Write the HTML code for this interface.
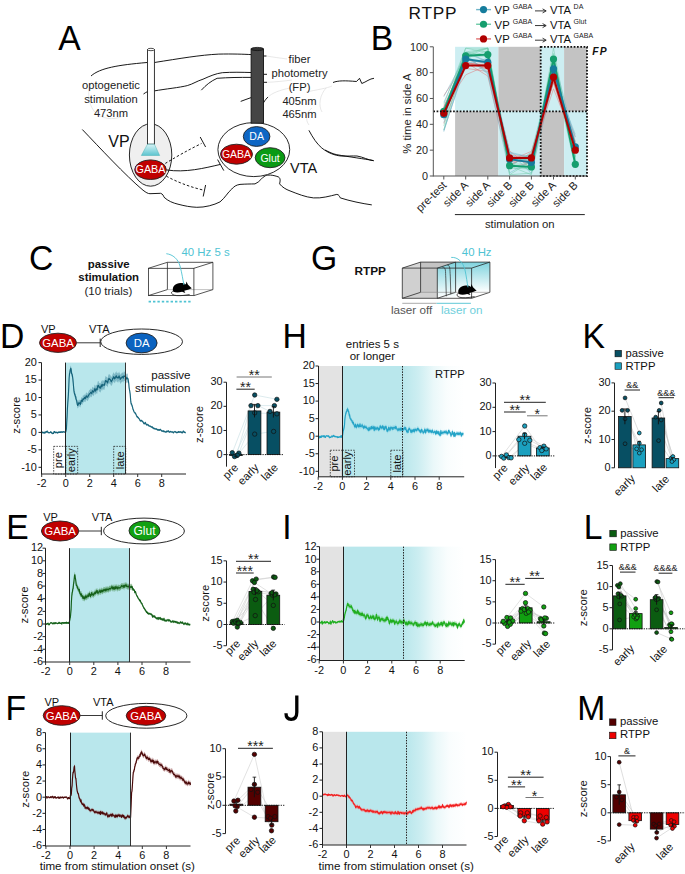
<!DOCTYPE html>
<html><head><meta charset="utf-8"><style>
html,body{margin:0;padding:0;background:#fff;width:685px;height:874px;overflow:hidden}
svg{display:block;font-family:"Liberation Sans", sans-serif}
</style></head><body>
<svg width="685" height="874" viewBox="0 0 685 874">
<defs>
<linearGradient id="fade" x1="0" x2="1" y1="0" y2="0"><stop offset="0" stop-color="#b9e7ec"/><stop offset="0.25" stop-color="#b9e7ec" stop-opacity="0.72"/><stop offset="0.5" stop-color="#b9e7ec" stop-opacity="0.3"/><stop offset="0.72" stop-color="#b9e7ec" stop-opacity="0.08"/><stop offset="1" stop-color="#b9e7ec" stop-opacity="0"/></linearGradient>
<linearGradient id="cone" x1="0" x2="0" y1="0" y2="1"><stop offset="0" stop-color="#d8f4f6"/><stop offset="1" stop-color="#5cc4cf"/></linearGradient>
<linearGradient id="boxg" x1="0" x2="1" y1="0" y2="0"><stop offset="0" stop-color="#e8f7f9"/><stop offset="1" stop-color="#7fd0dc"/></linearGradient>
</defs>
<path d="M91,76 C100,68 118,65 147,62.5" stroke="#000" stroke-width="0.9" fill="none"/>
<path d="M154.4,62.5 C180,58.5 200,55 218.8,54.1 C232,53.8 244,54.2 251.1,54.6" stroke="#000" stroke-width="0.9" fill="none"/>
<path d="M143.5,94 C145,93 146,92.2 147.5,91.6" stroke="#000" stroke-width="0.9" fill="none"/>
<path d="M154.4,90.9 C165,89 180,87.5 187.3,85.6 C193,84 197,81 203,79.2 C210,76 216,73.5 222.3,72.7 C232,72 242,72.3 251.1,72.5" stroke="#000" stroke-width="0.9" fill="none"/>
<path d="M201.3,90.2 C206,85 211,81 217.1,78.3 C228,77.5 240,77.3 251.1,77.4" stroke="#000" stroke-width="0.9" fill="none"/>
<path d="M240.7,101.4 C244,100 248,98.8 251.1,97.6" stroke="#000" stroke-width="0.9" fill="none"/>
<path d="M82.3,129.5 C100,148 125,175 143,190.2 C146,192.5 148,193.7 150,193.7 L160.6,193.3 C163,194 163.5,196 164,197.2 C168,201 173,203 178,204.2 C185,206 190,207 196.8,207.3 C205,207.5 214,205 220,201.9 C225,198 228,192 231.8,189 C234,186.5 236,185 240,184.4 C246,184 250,184 255,183.9 C260,182 262,177 265.5,175.7 C268,174.8 272,174.6 278.4,176.9 C281,178.5 280,181.5 279.6,183.9 C282,187 286,189.5 290,190.9 C298,194 305,197 313.4,197.9 C322,198.5 330,196 336.8,194.4 C339,194.5 339.5,196.5 340.3,197.9 C350,201 362,203.5 371.8,204.9" stroke="#000" stroke-width="0.9" fill="none"/>
<path d="M325,150 C329,152 333,154 336.8,154.7 C350,157 365,159 373,160.5" stroke="#000" stroke-width="0.9" fill="none"/>
<path d="M263.5,56 L266.5,56" stroke="#000" stroke-width="0.9" fill="none"/>
<path d="M263.5,74.3 L267,74.3" stroke="#000" stroke-width="0.9" fill="none"/>
<path d="M263.5,82.3 L267,82.3" stroke="#000" stroke-width="0.9" fill="none"/>
<path d="M263.5,102.8 C265,100 267,98 268,97" stroke="#000" stroke-width="0.9" fill="none"/>
<path d="M333,82.5 C338,80.5 345,80.5 356.5,81.5 L359.5,78.3 L361.8,83.5 C366,82 370,78.5 374,78.3" stroke="#000" stroke-width="0.9" fill="none"/>
<path d="M308.9,130.3 C313,138 317,144 321.8,148 C328,153 335,155.5 341,156 C348,156.3 352,155.8 357,156 C363,157 368,160 374,160.8" stroke="#000" stroke-width="0.9" fill="none"/>
<path d="M266.5,56 C272,57 280,58 287,59" stroke="#d8d8d8" stroke-width="0.6" fill="none"/>
<path d="M267,82.3 C275,82 285,81 292,80" stroke="#d8d8d8" stroke-width="0.6" fill="none"/>
<path d="M268,97 C272,93 280,90 290,88" stroke="#d8d8d8" stroke-width="0.6" fill="none"/>
<path d="M326,88 C320,95 318,105 322,112" stroke="#d8d8d8" stroke-width="0.6" fill="none"/>
<path d="M92,82 C86,90 88,110 100,116 C110,121 122,118 125,114" stroke="#d8d8d8" stroke-width="0.6" fill="none"/>
<path d="M306,92 C316,90 328,88 332,86" stroke="#d8d8d8" stroke-width="0.6" fill="none"/>
<path d="M309,125 C305,120 306,112 312,108" stroke="#d8d8d8" stroke-width="0.6" fill="none"/>
<ellipse cx="150.60" cy="155.00" rx="21.2" ry="31.2" fill="#efefef" stroke="#111" stroke-width="0.9"/>
<path d="M165.3,163.4 C176,157 188,150 201.5,143.5" stroke="#000" stroke-width="0.9" fill="none" stroke-dasharray="2.5,2"/>
<path d="M166.4,176.2 C177,182 190,187 203.8,190.2" stroke="#000" stroke-width="0.9" fill="none" stroke-dasharray="2.5,2"/>
<line x1="200.20" y1="137.00" x2="205.60" y2="147.00" stroke="#000" stroke-width="0.9"/>
<line x1="205.60" y1="185.00" x2="203.20" y2="196.50" stroke="#000" stroke-width="0.9"/>
<path d="M166.4,169.9 C185,173 205,168 220,164.5" stroke="#000" stroke-width="0.9" fill="none"/>
<line x1="217.60" y1="159.60" x2="223.80" y2="170.60" stroke="#000" stroke-width="0.9"/>
<rect x="147.50" y="49.50" width="6.90" height="94.70" fill="#fff" stroke="#222" stroke-width="0.9"/>
<ellipse cx="150.95" cy="49.50" rx="3.45" ry="1.2" fill="#fff" stroke="#222" stroke-width="0.8"/>
<polygon points="147.5,144.2 154.4,144.2 159.7,155.5 141.3,155.5" stroke="#3aa" stroke-width="0.4" fill="url(#cone)"/>
<ellipse cx="150.50" cy="169.70" rx="15.8" ry="9.8" fill="#c00000" stroke="#222" stroke-width="0.9"/>
<text x="150.50" y="173.10" font-size="10.8" text-anchor="middle" fill="#fff">GABA</text>
<text x="108.30" y="146.50" font-size="16" text-anchor="start" fill="#111">VP</text>
<text x="111.00" y="89.30" font-size="11.2" text-anchor="middle" fill="#222">optogenetic</text>
<text x="111.00" y="102.90" font-size="11.2" text-anchor="middle" fill="#222">stimulation</text>
<text x="111.00" y="116.50" font-size="11.2" text-anchor="middle" fill="#222">473nm</text>
<ellipse cx="253.80" cy="149.60" rx="35.9" ry="27" fill="#fff" stroke="#111" stroke-width="0.9"/>
<ellipse cx="256.60" cy="136.50" rx="13.3" ry="9.9" fill="#0e66c4" stroke="#222" stroke-width="0.9"/>
<text x="256.60" y="140.30" font-size="10.5" text-anchor="middle" fill="#fff">DA</text>
<ellipse cx="236.50" cy="154.20" rx="16" ry="10" fill="#c00000" stroke="#222" stroke-width="0.9"/>
<text x="236.50" y="158.00" font-size="10.5" text-anchor="middle" fill="#fff">GABA</text>
<ellipse cx="270.10" cy="157.70" rx="14.9" ry="10" fill="#0a9a14" stroke="#222" stroke-width="0.9"/>
<text x="270.10" y="161.50" font-size="10.5" text-anchor="middle" fill="#fff">Glut</text>
<text x="290.00" y="172.60" font-size="14.5" text-anchor="start" fill="#111">VTA</text>
<rect x="251.10" y="49.00" width="12.40" height="74.20" fill="#454545" stroke="#111" stroke-width="0.9"/>
<ellipse cx="257.30" cy="49.00" rx="6.2" ry="1.6" fill="#333" stroke="#111" stroke-width="0.8"/>
<text x="299.50" y="63.20" font-size="11.2" text-anchor="middle" fill="#222">fiber</text>
<text x="299.50" y="77.00" font-size="11.2" text-anchor="middle" fill="#222">photometry</text>
<text x="299.50" y="90.80" font-size="11.2" text-anchor="middle" fill="#222">(FP)</text>
<text x="299.50" y="104.60" font-size="11.2" text-anchor="middle" fill="#222">405nm</text>
<text x="299.50" y="118.40" font-size="11.2" text-anchor="middle" fill="#222">465nm</text>
<text x="408.60" y="19.40" font-size="17.3" text-anchor="start" fill="#111" letter-spacing="0.7">RTPP</text>
<line x1="476.10" y1="9.60" x2="491.00" y2="9.60" stroke="#6fb4c8" stroke-width="1.4"/>
<circle cx="483.50" cy="9.60" r="3.6" fill="#157c9c"/>
<text x="494.60" y="14.00" font-size="11.3" text-anchor="start" fill="#111">VP</text>
<text x="512.70" y="9.00" font-size="7" text-anchor="start" fill="#222">GABA</text>
<line x1="535.00" y1="10.90" x2="545.60" y2="10.90" stroke="#222" stroke-width="0.9"/>
<path d="M542.6,8.9 L546.2,10.9 L542.6,12.9" stroke="#222" stroke-width="0.9" fill="none"/>
<text x="550.00" y="14.00" font-size="11.3" text-anchor="start" fill="#111">VTA</text>
<text x="573.60" y="9.00" font-size="7" text-anchor="start" fill="#222">DA</text>
<line x1="476.10" y1="24.25" x2="491.00" y2="24.25" stroke="#6ccaa6" stroke-width="1.4"/>
<circle cx="483.50" cy="24.25" r="3.6" fill="#159e6e"/>
<text x="494.60" y="28.65" font-size="11.3" text-anchor="start" fill="#111">VP</text>
<text x="512.70" y="23.65" font-size="7" text-anchor="start" fill="#222">GABA</text>
<line x1="535.00" y1="25.55" x2="545.60" y2="25.55" stroke="#222" stroke-width="0.9"/>
<path d="M542.6,23.6 L546.2,25.6 L542.6,27.6" stroke="#222" stroke-width="0.9" fill="none"/>
<text x="550.00" y="28.65" font-size="11.3" text-anchor="start" fill="#111">VTA</text>
<text x="573.60" y="23.65" font-size="7" text-anchor="start" fill="#222">Glut</text>
<line x1="476.10" y1="38.90" x2="491.00" y2="38.90" stroke="#e07070" stroke-width="1.4"/>
<circle cx="483.50" cy="38.90" r="3.6" fill="#b00000"/>
<text x="494.60" y="43.30" font-size="11.3" text-anchor="start" fill="#111">VP</text>
<text x="512.70" y="38.30" font-size="7" text-anchor="start" fill="#222">GABA</text>
<line x1="535.00" y1="40.20" x2="545.60" y2="40.20" stroke="#222" stroke-width="0.9"/>
<path d="M542.6,38.2 L546.2,40.2 L542.6,42.2" stroke="#222" stroke-width="0.9" fill="none"/>
<text x="550.00" y="43.30" font-size="11.3" text-anchor="start" fill="#111">VTA</text>
<text x="573.60" y="38.30" font-size="7" text-anchor="start" fill="#222">GABA</text>
<rect x="455.10" y="46.80" width="43.30" height="64.60" fill="#cdeef2"/>
<rect x="455.10" y="111.40" width="43.30" height="64.60" fill="#c3c3c3"/>
<rect x="498.40" y="46.80" width="42.30" height="64.60" fill="#c3c3c3"/>
<rect x="498.40" y="111.40" width="42.30" height="64.60" fill="#cdeef2"/>
<rect x="540.70" y="46.80" width="23.40" height="64.60" fill="#cdeef2"/>
<rect x="564.10" y="46.80" width="22.90" height="64.60" fill="#c3c3c3"/>
<rect x="540.70" y="111.40" width="23.40" height="64.60" fill="#c3c3c3"/>
<rect x="564.10" y="111.40" width="22.90" height="64.60" fill="#cdeef2"/>
<polyline points="443.8,116.5 465.7,62.4 487.8,66.9 509.6,159.6 531.4,163.0 553.5,78.7 575.3,141.5" stroke="#e07070" stroke-width="0.6" fill="none" stroke-opacity="0.8"/>
<polyline points="443.8,108.1 465.7,59.1 487.8,64.0 509.6,155.8 531.4,156.9 553.5,88.8 575.3,143.5" stroke="#e07070" stroke-width="0.6" fill="none" stroke-opacity="0.8"/>
<polyline points="443.8,107.1 465.7,62.4 487.8,76.0 509.6,167.4 531.4,162.7 553.5,80.4 575.3,147.8" stroke="#e07070" stroke-width="0.6" fill="none" stroke-opacity="0.8"/>
<polyline points="443.8,113.9 465.7,62.3 487.8,69.5 509.6,156.2 531.4,155.8 553.5,81.8 575.3,136.8" stroke="#e07070" stroke-width="0.6" fill="none" stroke-opacity="0.8"/>
<polyline points="443.8,106.4 465.7,58.1 487.8,69.4 509.6,161.9 531.4,159.8 553.5,77.9 575.3,145.3" stroke="#e07070" stroke-width="0.6" fill="none" stroke-opacity="0.8"/>
<polyline points="443.8,110.3 465.7,68.3 487.8,71.5 509.6,160.7 531.4,151.3 553.5,82.8 575.3,148.3" stroke="#e07070" stroke-width="0.6" fill="none" stroke-opacity="0.8"/>
<polyline points="443.8,108.0 465.7,74.8 487.8,65.2 509.6,150.8 531.4,168.8 553.5,79.4 575.3,151.0" stroke="#e07070" stroke-width="0.6" fill="none" stroke-opacity="0.8"/>
<polyline points="443.8,123.5 465.7,62.4 487.8,65.9 509.6,165.9 531.4,153.4 553.5,72.5 575.3,142.8" stroke="#e07070" stroke-width="0.6" fill="none" stroke-opacity="0.8"/>
<polyline points="443.8,95.5 465.7,63.3 487.8,64.8 509.6,165.0 531.4,154.6 553.5,81.4 575.3,153.7" stroke="#e07070" stroke-width="0.6" fill="none" stroke-opacity="0.8"/>
<polyline points="443.8,130.3 465.7,65.1 487.8,65.6 509.6,152.2 531.4,173.5 553.5,78.9 575.3,145.1" stroke="#6fb4c8" stroke-width="0.6" fill="none" stroke-opacity="0.8"/>
<polyline points="443.8,96.7 465.7,55.5 487.8,74.1 509.6,172.9 531.4,160.5 553.5,73.9 575.3,155.6" stroke="#6fb4c8" stroke-width="0.6" fill="none" stroke-opacity="0.8"/>
<polyline points="443.8,102.5 465.7,52.2 487.8,61.3 509.6,157.9 531.4,160.1 553.5,57.6 575.3,142.1" stroke="#6fb4c8" stroke-width="0.6" fill="none" stroke-opacity="0.8"/>
<polyline points="443.8,108.2 465.7,55.7 487.8,72.0 509.6,152.2 531.4,157.3 553.5,65.1 575.3,162.2" stroke="#6fb4c8" stroke-width="0.6" fill="none" stroke-opacity="0.8"/>
<polyline points="443.8,122.5 465.7,53.9 487.8,73.5 509.6,160.2 531.4,156.9 553.5,77.9 575.3,134.4" stroke="#6fb4c8" stroke-width="0.6" fill="none" stroke-opacity="0.8"/>
<polyline points="443.8,107.8 465.7,60.0 487.8,60.3 509.6,155.7 531.4,161.8 553.5,60.8 575.3,152.1" stroke="#6fb4c8" stroke-width="0.6" fill="none" stroke-opacity="0.8"/>
<polyline points="443.8,119.8 465.7,52.6 487.8,62.1 509.6,164.0 531.4,157.3 553.5,58.5 575.3,150.4" stroke="#6fb4c8" stroke-width="0.6" fill="none" stroke-opacity="0.8"/>
<polyline points="443.8,131.7 465.7,59.9 487.8,63.2 509.6,160.8 531.4,154.8 553.5,75.9 575.3,137.2" stroke="#6fb4c8" stroke-width="0.6" fill="none" stroke-opacity="0.8"/>
<polyline points="443.8,130.4 465.7,64.0 487.8,58.4 509.6,153.1 531.4,157.8 553.5,66.4 575.3,145.8" stroke="#6fb4c8" stroke-width="0.6" fill="none" stroke-opacity="0.8"/>
<polyline points="443.8,109.5 465.7,52.3 487.8,55.6 509.6,164.2 531.4,163.8 553.5,59.1 575.3,158.4" stroke="#6ccaa6" stroke-width="0.6" fill="none" stroke-opacity="0.8"/>
<polyline points="443.8,104.4 465.7,48.1 487.8,52.5 509.6,168.0 531.4,169.0 553.5,59.2 575.3,157.2" stroke="#6ccaa6" stroke-width="0.6" fill="none" stroke-opacity="0.8"/>
<polyline points="443.8,115.6 465.7,53.5 487.8,48.1 509.6,174.7 531.4,173.1 553.5,57.4 575.3,161.3" stroke="#6ccaa6" stroke-width="0.6" fill="none" stroke-opacity="0.8"/>
<polyline points="443.8,108.4 465.7,58.5 487.8,50.5 509.6,164.1 531.4,169.8 553.5,48.1 575.3,161.6" stroke="#6ccaa6" stroke-width="0.6" fill="none" stroke-opacity="0.8"/>
<polyline points="443.8,118.3 465.7,56.5 487.8,56.0 509.6,166.0 531.4,174.7 553.5,62.5 575.3,156.6" stroke="#6ccaa6" stroke-width="0.6" fill="none" stroke-opacity="0.8"/>
<polyline points="443.8,125.9 465.7,56.3 487.8,48.6 509.6,161.0 531.4,158.9 553.5,70.9 575.3,167.1" stroke="#6ccaa6" stroke-width="0.6" fill="none" stroke-opacity="0.8"/>
<polyline points="443.8,115.6 465.7,52.0 487.8,48.1 509.6,174.7 531.4,161.0 553.5,69.2 575.3,159.1" stroke="#6ccaa6" stroke-width="0.6" fill="none" stroke-opacity="0.8"/>
<polyline points="443.8,129.9 465.7,54.8 487.8,48.1 509.6,166.5 531.4,165.9 553.5,53.5 575.3,163.3" stroke="#6ccaa6" stroke-width="0.6" fill="none" stroke-opacity="0.8"/>
<polyline points="443.8,112.5 465.7,48.1 487.8,48.1 509.6,167.3 531.4,152.1 553.5,67.1 575.3,157.3" stroke="#6ccaa6" stroke-width="0.6" fill="none" stroke-opacity="0.8"/>
<polyline points="443.8,111.4 465.7,55.8 487.8,54.6 509.6,165.7 531.4,167.0 553.5,59.1 575.3,164.4" stroke="#159e6e" stroke-width="2" fill="none"/>
<circle cx="443.80" cy="111.40" r="3.6" fill="#159e6e"/>
<circle cx="465.70" cy="55.84" r="3.6" fill="#159e6e"/>
<circle cx="487.80" cy="54.55" r="3.6" fill="#159e6e"/>
<circle cx="509.60" cy="165.66" r="3.6" fill="#159e6e"/>
<circle cx="531.40" cy="166.96" r="3.6" fill="#159e6e"/>
<circle cx="553.50" cy="59.07" r="3.6" fill="#159e6e"/>
<circle cx="575.30" cy="164.37" r="3.6" fill="#159e6e"/>
<polyline points="443.8,114.6 465.7,59.1 487.8,62.3 509.6,159.2 531.4,162.4 553.5,68.8 575.3,146.9" stroke="#157c9c" stroke-width="2" fill="none"/>
<circle cx="443.80" cy="114.63" r="3.6" fill="#157c9c"/>
<circle cx="465.70" cy="59.07" r="3.6" fill="#157c9c"/>
<circle cx="487.80" cy="62.30" r="3.6" fill="#157c9c"/>
<circle cx="509.60" cy="159.20" r="3.6" fill="#157c9c"/>
<circle cx="531.40" cy="162.43" r="3.6" fill="#157c9c"/>
<circle cx="553.50" cy="68.76" r="3.6" fill="#157c9c"/>
<circle cx="575.30" cy="146.93" r="3.6" fill="#157c9c"/>
<polyline points="443.8,113.3 465.7,65.5 487.8,65.5 509.6,157.9 531.4,157.9 553.5,77.2 575.3,150.2" stroke="#b00000" stroke-width="2" fill="none"/>
<circle cx="443.80" cy="113.34" r="3.6" fill="#b00000"/>
<circle cx="465.70" cy="65.53" r="3.6" fill="#b00000"/>
<circle cx="487.80" cy="65.53" r="3.6" fill="#b00000"/>
<circle cx="509.60" cy="157.91" r="3.6" fill="#b00000"/>
<circle cx="531.40" cy="157.91" r="3.6" fill="#b00000"/>
<circle cx="553.50" cy="77.16" r="3.6" fill="#b00000"/>
<circle cx="575.30" cy="150.16" r="3.6" fill="#b00000"/>
<line x1="433.30" y1="111.40" x2="587.00" y2="111.40" stroke="#111" stroke-width="1.9" stroke-dasharray="1.7,1.6"/>
<rect x="540.70" y="46.80" width="46.30" height="129.20" fill="none" stroke="#111" stroke-width="1.8" stroke-dasharray="1.7,1.6"/>
<line x1="433.30" y1="46.80" x2="433.30" y2="176.50" stroke="#555" stroke-width="1"/>
<line x1="433.30" y1="176.00" x2="587.00" y2="176.00" stroke="#555" stroke-width="1"/>
<line x1="429.80" y1="176.00" x2="433.30" y2="176.00" stroke="#555" stroke-width="1"/>
<text x="428.00" y="179.80" font-size="10.8" text-anchor="end" fill="#222">0</text>
<line x1="429.80" y1="150.16" x2="433.30" y2="150.16" stroke="#555" stroke-width="1"/>
<text x="428.00" y="153.96" font-size="10.8" text-anchor="end" fill="#222">20</text>
<line x1="429.80" y1="124.32" x2="433.30" y2="124.32" stroke="#555" stroke-width="1"/>
<text x="428.00" y="128.12" font-size="10.8" text-anchor="end" fill="#222">40</text>
<line x1="429.80" y1="98.48" x2="433.30" y2="98.48" stroke="#555" stroke-width="1"/>
<text x="428.00" y="102.28" font-size="10.8" text-anchor="end" fill="#222">60</text>
<line x1="429.80" y1="72.64" x2="433.30" y2="72.64" stroke="#555" stroke-width="1"/>
<text x="428.00" y="76.44" font-size="10.8" text-anchor="end" fill="#222">80</text>
<line x1="429.80" y1="46.80" x2="433.30" y2="46.80" stroke="#555" stroke-width="1"/>
<text x="428.00" y="50.60" font-size="10.8" text-anchor="end" fill="#222">100</text>
<line x1="443.80" y1="176.00" x2="443.80" y2="179.50" stroke="#555" stroke-width="1"/>
<line x1="465.70" y1="176.00" x2="465.70" y2="179.50" stroke="#555" stroke-width="1"/>
<line x1="487.80" y1="176.00" x2="487.80" y2="179.50" stroke="#555" stroke-width="1"/>
<line x1="509.60" y1="176.00" x2="509.60" y2="179.50" stroke="#555" stroke-width="1"/>
<line x1="531.40" y1="176.00" x2="531.40" y2="179.50" stroke="#555" stroke-width="1"/>
<line x1="553.50" y1="176.00" x2="553.50" y2="179.50" stroke="#555" stroke-width="1"/>
<line x1="575.30" y1="176.00" x2="575.30" y2="179.50" stroke="#555" stroke-width="1"/>
<text x="411.00" y="113.60" font-size="11.3" text-anchor="middle" fill="#222" transform="rotate(-90 411.00 113.60)">% time in side A</text>
<text x="447.10" y="186.00" font-size="11.1" text-anchor="end" fill="#222" transform="rotate(-45 447.10 186.00)">pre-test</text>
<text x="469.00" y="186.00" font-size="11.1" text-anchor="end" fill="#222" transform="rotate(-45 469.00 186.00)">side A</text>
<text x="491.10" y="186.00" font-size="11.1" text-anchor="end" fill="#222" transform="rotate(-45 491.10 186.00)">side A</text>
<text x="512.90" y="186.00" font-size="11.1" text-anchor="end" fill="#222" transform="rotate(-45 512.90 186.00)">side B</text>
<text x="534.70" y="186.00" font-size="11.1" text-anchor="end" fill="#222" transform="rotate(-45 534.70 186.00)">side B</text>
<text x="556.80" y="186.00" font-size="11.1" text-anchor="end" fill="#222" transform="rotate(-45 556.80 186.00)">side A</text>
<text x="578.60" y="186.00" font-size="11.1" text-anchor="end" fill="#222" transform="rotate(-45 578.60 186.00)">side B</text>
<line x1="454.90" y1="214.60" x2="584.80" y2="214.60" stroke="#222" stroke-width="1"/>
<text x="519.80" y="228.00" font-size="11.3" text-anchor="middle" fill="#222">stimulation on</text>
<text x="592.20" y="55.30" font-size="10.3" text-anchor="start" fill="#111" font-weight="bold" font-style="italic" letter-spacing="1.2">FP</text>
<text x="108.70" y="267.70" font-size="11.4" text-anchor="middle" fill="#111" font-weight="bold">passive</text>
<text x="108.70" y="281.00" font-size="11.4" text-anchor="middle" fill="#111" font-weight="bold">stimulation</text>
<text x="108.40" y="295.30" font-size="11.5" text-anchor="middle" fill="#222">(10 trials)</text>
<line x1="167.40" y1="262.30" x2="212.90" y2="262.30" stroke="#2a2a2a" stroke-width="0.8"/>
<line x1="167.40" y1="262.30" x2="167.40" y2="289.60" stroke="#2a2a2a" stroke-width="0.8"/>
<line x1="212.90" y1="262.30" x2="212.90" y2="289.60" stroke="#2a2a2a" stroke-width="0.8"/>
<line x1="167.40" y1="289.60" x2="212.90" y2="289.60" stroke="#999" stroke-width="0.6"/>
<line x1="148.40" y1="268.30" x2="167.40" y2="262.30" stroke="#2a2a2a" stroke-width="0.8"/>
<line x1="193.90" y1="268.30" x2="212.90" y2="262.30" stroke="#2a2a2a" stroke-width="0.8"/>
<line x1="148.40" y1="295.60" x2="167.40" y2="289.60" stroke="#2a2a2a" stroke-width="0.8"/>
<line x1="193.90" y1="295.60" x2="212.90" y2="289.60" stroke="#2a2a2a" stroke-width="0.8"/>
<path d="M173.4,291.8 C171.3,286.9 175.6,283.1 180.5,283.1 C183.2,283.1 184.8,283.7 185.9,284.5 L186.4,281.5 L188.0,284.8 C189.6,286.4 190.7,287.5 191.8,288.3 C189.6,289.6 186.4,290.2 184.2,290.7 L185.3,292.9 L182.1,291.8 C178.8,292.9 175.6,292.9 173.4,291.8 Z" stroke="none" stroke-width="1" fill="#000"/>
<path d="M174.5,290.7 C170.2,291.2 170.2,295.0 176.7,295.6 C182.1,295.9 186.4,295.0 189.6,294.5" stroke="#000" stroke-width="0.7" fill="none"/>
<rect x="148.40" y="268.30" width="45.50" height="27.30" fill="none" stroke="#2a2a2a" stroke-width="0.8"/>
<path d="M166.3,253.7 C173,254.5 178,259 180,266 C182,273 182.8,280 184,285" stroke="#4fc3d3" stroke-width="0.9" fill="none"/>
<text x="181.50" y="256.40" font-size="11.4" text-anchor="start" fill="#4fc3d3">40 Hz 5 s</text>
<line x1="148.60" y1="301.60" x2="192.00" y2="301.60" stroke="#4fc3d3" stroke-width="1.6" stroke-dasharray="2.4,2.0"/>
<text x="354.50" y="274.80" font-size="11.8" text-anchor="start" fill="#111" font-weight="bold">RTPP</text>
<polygon points="402.3,268.1 420.6,262.1 455.6,262.1 437.3,268.1" stroke="none" stroke-width="1" fill="#d6d6d6"/>
<rect x="420.60" y="262.10" width="35.00" height="30.20" fill="#c4c4c4"/>
<rect x="402.30" y="268.10" width="35.00" height="30.20" fill="#c8c8c8" fill-opacity="0.85"/>
<polygon points="437.3,268.1 455.6,262.1 489.9,262.1 471.6,268.1" stroke="none" stroke-width="1" fill="#8fd9e3"/>
<linearGradient id="gv" x1="0" x2="0" y1="0" y2="1"><stop offset="0" stop-color="#7fd3de"/><stop offset="1" stop-color="#ffffff"/></linearGradient>
<rect x="455.60" y="262.10" width="34.30" height="30.20" fill="url(#gv)"/>
<rect x="437.30" y="268.10" width="18.30" height="30.20" fill="url(#gv)" fill-opacity="0.9"/>
<polygon points="437.3,268.1 455.6,262.1 455.6,292.3 437.3,298.3" stroke="none" stroke-width="1" fill="url(#gv)"/>
<line x1="402.30" y1="268.10" x2="471.60" y2="268.10" stroke="#2a2a2a" stroke-width="0.8"/>
<line x1="402.30" y1="298.30" x2="471.60" y2="298.30" stroke="#2a2a2a" stroke-width="0.8"/>
<line x1="402.30" y1="268.10" x2="402.30" y2="298.30" stroke="#2a2a2a" stroke-width="0.8"/>
<line x1="437.30" y1="268.10" x2="437.30" y2="298.30" stroke="#2a2a2a" stroke-width="0.8"/>
<line x1="471.60" y1="268.10" x2="471.60" y2="298.30" stroke="#2a2a2a" stroke-width="0.8"/>
<line x1="420.60" y1="262.10" x2="489.90" y2="262.10" stroke="#2a2a2a" stroke-width="0.8"/>
<line x1="420.60" y1="262.10" x2="420.60" y2="292.30" stroke="#2a2a2a" stroke-width="0.8"/>
<line x1="455.60" y1="262.10" x2="455.60" y2="292.30" stroke="#2a2a2a" stroke-width="0.8"/>
<line x1="489.90" y1="262.10" x2="489.90" y2="292.30" stroke="#2a2a2a" stroke-width="0.8"/>
<line x1="402.30" y1="268.10" x2="420.60" y2="262.10" stroke="#2a2a2a" stroke-width="0.8"/>
<line x1="437.30" y1="268.10" x2="455.60" y2="262.10" stroke="#2a2a2a" stroke-width="0.8"/>
<line x1="471.60" y1="268.10" x2="489.90" y2="262.10" stroke="#2a2a2a" stroke-width="0.8"/>
<line x1="402.30" y1="298.30" x2="420.60" y2="292.30" stroke="#2a2a2a" stroke-width="0.8"/>
<line x1="437.30" y1="298.30" x2="455.60" y2="292.30" stroke="#2a2a2a" stroke-width="0.8"/>
<line x1="471.60" y1="298.30" x2="489.90" y2="292.30" stroke="#2a2a2a" stroke-width="0.8"/>
<line x1="420.60" y1="292.30" x2="489.90" y2="292.30" stroke="#888" stroke-width="0.6"/>
<path d="M442.3,267.1 C446.3,267.1 445.3,271.1 445.8,278.1 L446.3,296.3" stroke="#2a2a2a" stroke-width="0.7" fill="none"/>
<path d="M447.3,265.1 C450.3,265.1 449.8,269.1 450.3,276.1 L450.8,294.3" stroke="#2a2a2a" stroke-width="0.7" fill="none"/>
<path d="M458.8,294.0 C456.8,289.2 460.9,285.6 465.7,285.6 C468.3,285.6 469.9,286.1 470.9,286.9 L471.4,284.0 L473.0,287.2 C474.6,288.7 475.6,289.8 476.7,290.6 C474.6,291.9 471.4,292.4 469.3,292.9 L470.4,295.0 L467.2,294.0 C464.1,295.0 460.9,295.0 458.8,294.0 Z" stroke="none" stroke-width="1" fill="#000"/>
<path d="M459.9,292.9 C455.7,293.4 455.7,297.1 462.0,297.7 C467.2,298.0 471.4,297.1 474.6,296.6" stroke="#000" stroke-width="0.7" fill="none"/>
<path d="M451.2,257.4 C458,257 463,262 465,270 C466.5,277 467,282 468,287.3" stroke="#4fc3d3" stroke-width="0.9" fill="none"/>
<text x="461.80" y="256.40" font-size="11.4" text-anchor="start" fill="#4fc3d3">40 Hz</text>
<line x1="402.30" y1="303.40" x2="436.60" y2="303.40" stroke="#bbb" stroke-width="1.2"/>
<line x1="436.60" y1="303.40" x2="470.90" y2="303.40" stroke="#7fd3de" stroke-width="1.2"/>
<text x="432.30" y="313.70" font-size="11.7" text-anchor="end" fill="#555">laser off</text>
<text x="441.00" y="313.70" font-size="11.7" text-anchor="start" fill="#6fcfdc">laser on</text>
<rect x="65.70" y="362.60" width="60.00" height="111.40" fill="#b9e7ec"/>
<polygon points="41.7,432.3 42.0,432.0 42.4,431.4 42.7,431.7 43.1,432.4 43.4,432.2 43.8,431.9 44.1,431.3 44.4,432.0 44.8,432.5 45.1,432.0 45.5,431.7 45.8,431.0 46.2,430.8 46.5,431.1 46.8,431.4 47.2,430.3 47.5,430.8 47.9,431.4 48.2,432.0 48.6,431.9 48.9,431.8 49.2,432.0 49.6,432.0 49.9,431.8 50.3,431.5 50.6,431.1 51.0,431.2 51.3,432.2 51.6,431.8 52.0,432.4 52.3,432.4 52.7,432.9 53.0,432.7 53.4,432.8 53.7,432.5 54.0,430.8 54.4,431.1 54.7,430.9 55.1,431.8 55.4,432.0 55.8,431.7 56.1,431.8 56.4,431.6 56.8,431.7 57.1,432.2 57.5,431.9 57.8,432.3 58.2,431.3 58.5,431.7 58.8,431.5 59.2,431.6 59.5,431.3 59.9,431.7 60.2,431.3 60.6,431.6 60.9,431.1 61.2,431.0 61.6,431.2 61.9,431.8 62.3,431.5 62.6,431.4 63.0,430.8 63.3,431.3 63.6,431.2 64.0,431.2 64.3,431.3 64.7,431.4 65.0,431.5 65.4,431.4 65.7,429.4 66.0,428.5 66.4,426.5 66.7,420.7 67.1,413.9 67.4,406.5 67.8,400.3 68.1,396.3 68.4,391.8 68.8,384.2 69.1,375.6 69.5,371.0 69.8,370.4 70.2,367.4 70.5,366.1 70.8,365.4 71.2,366.9 71.5,370.6 71.9,371.1 72.2,372.0 72.6,374.1 72.9,376.4 73.2,379.8 73.6,384.1 73.9,387.5 74.3,389.9 74.6,391.1 75.0,391.7 75.3,393.0 75.6,393.4 76.0,395.8 76.3,396.8 76.7,397.5 77.0,399.3 77.4,401.7 77.7,402.4 78.0,401.7 78.4,401.0 78.7,399.6 79.1,400.4 79.4,400.2 79.8,399.4 80.1,399.4 80.4,401.1 80.8,399.8 81.1,397.6 81.5,396.9 81.8,397.8 82.2,398.0 82.5,397.7 82.8,395.6 83.2,395.6 83.5,395.8 83.9,394.8 84.2,395.2 84.6,393.9 84.9,394.7 85.2,395.1 85.6,394.3 85.9,393.0 86.3,392.5 86.6,392.2 87.0,393.6 87.3,393.6 87.6,393.4 88.0,393.1 88.3,391.9 88.7,391.6 89.0,390.5 89.4,390.1 89.7,390.1 90.0,389.7 90.4,389.1 90.7,388.4 91.1,388.8 91.4,388.9 91.8,389.7 92.1,388.0 92.4,386.7 92.8,387.0 93.1,387.3 93.5,388.1 93.8,387.4 94.2,386.9 94.5,384.8 94.8,384.7 95.2,385.3 95.5,387.0 95.9,385.1 96.2,384.6 96.6,385.5 96.9,384.8 97.2,385.5 97.6,382.1 97.9,381.2 98.3,381.0 98.6,381.3 99.0,383.0 99.3,382.7 99.6,383.5 100.0,382.4 100.3,383.6 100.7,383.6 101.0,381.9 101.4,380.3 101.7,381.2 102.0,382.0 102.4,380.8 102.7,379.8 103.1,380.4 103.4,380.5 103.8,380.5 104.1,380.8 104.4,380.6 104.8,378.9 105.1,377.9 105.5,376.1 105.8,376.3 106.2,376.4 106.5,377.1 106.8,376.9 107.2,377.6 107.5,378.4 107.9,377.1 108.2,375.6 108.6,374.8 108.9,373.9 109.2,374.0 109.6,374.8 109.9,374.8 110.3,375.1 110.6,375.8 111.0,376.7 111.3,377.3 111.6,376.4 112.0,375.7 112.3,375.5 112.7,373.9 113.0,373.6 113.4,373.1 113.7,372.1 114.0,372.9 114.4,374.4 114.7,373.4 115.1,373.7 115.4,372.4 115.8,372.2 116.1,371.5 116.4,371.2 116.8,373.2 117.1,372.5 117.5,373.0 117.8,373.5 118.2,373.6 118.5,372.8 118.8,372.0 119.2,371.4 119.5,372.9 119.9,373.3 120.2,374.9 120.6,374.3 120.9,373.4 121.2,373.7 121.6,373.2 121.9,372.8 122.3,371.9 122.6,372.7 123.0,373.2 123.3,373.6 123.6,372.0 124.0,371.3 124.3,371.7 124.7,371.8 125.0,372.0 125.4,372.0 125.7,372.4 126.0,372.7 126.4,373.9 126.7,374.5 127.1,373.4 127.4,373.5 127.8,374.0 128.1,378.2 128.4,380.2 128.8,382.9 129.1,386.7 129.5,389.1 129.8,390.5 130.2,393.6 130.5,397.2 130.8,400.8 131.2,403.3 131.5,402.9 131.9,404.4 132.2,405.3 132.6,406.6 132.9,407.9 133.2,408.9 133.6,409.6 133.9,410.5 134.3,411.3 134.6,411.8 135.0,412.1 135.3,412.1 135.6,412.7 136.0,413.5 136.3,414.4 136.7,415.1 137.0,415.9 137.4,415.8 137.7,416.2 138.0,416.8 138.4,416.7 138.7,417.6 139.1,417.8 139.4,418.0 139.8,419.0 140.1,419.8 140.4,420.2 140.8,419.8 141.1,419.4 141.5,420.1 141.8,419.8 142.2,420.2 142.5,420.6 142.8,421.0 143.2,421.3 143.5,422.1 143.9,422.5 144.2,422.9 144.6,422.8 144.9,422.1 145.2,421.5 145.6,422.2 145.9,423.2 146.3,423.6 146.6,424.1 147.0,423.5 147.3,423.6 147.6,424.1 148.0,424.0 148.3,424.0 148.7,424.8 149.0,425.0 149.4,425.2 149.7,425.2 150.0,425.2 150.4,425.5 150.7,425.5 151.1,425.9 151.4,426.4 151.8,425.9 152.1,426.0 152.4,426.2 152.8,427.0 153.1,427.2 153.5,427.1 153.8,427.7 154.2,427.5 154.5,427.8 154.8,427.8 155.2,428.1 155.5,428.2 155.9,427.9 156.2,428.3 156.6,427.9 156.9,428.5 157.2,428.9 157.6,428.7 157.9,429.1 158.3,429.3 158.6,428.9 159.0,428.6 159.3,429.4 159.6,429.2 160.0,428.7 160.3,428.5 160.7,428.9 161.0,429.3 161.4,429.6 161.7,430.1 162.0,430.2 162.4,430.3 162.7,430.3 163.1,429.9 163.4,430.1 163.8,430.7 164.1,430.3 164.4,430.8 164.8,430.9 165.1,430.9 165.5,431.0 165.8,431.3 166.2,431.2 166.5,430.4 166.8,430.7 167.2,430.8 167.5,430.4 167.9,430.3 168.2,430.2 168.6,430.1 168.9,431.0 169.2,431.3 169.6,431.2 169.9,431.0 170.3,430.6 170.6,430.6 171.0,430.9 171.3,431.0 171.6,431.2 172.0,431.1 172.3,431.0 172.7,431.2 173.0,431.6 173.4,431.9 173.7,431.4 174.0,431.1 174.4,430.9 174.7,430.8 175.1,430.7 175.4,431.0 175.8,430.9 176.1,431.5 176.4,431.6 176.8,431.8 177.1,431.5 177.5,431.6 177.8,431.6 178.2,431.3 178.5,430.8 178.8,431.1 179.2,431.4 179.5,430.9 179.9,431.3 180.2,431.0 180.6,431.1 180.9,431.1 181.2,431.7 181.6,431.4 181.9,431.5 182.3,431.9 182.6,431.1 183.0,431.1 183.3,430.2 183.6,430.6 184.0,431.2 184.3,431.5 184.7,431.2 185.0,431.6 185.4,431.8 185.7,431.8 185.7,433.6 185.4,433.5 185.0,433.4 184.7,433.0 184.3,433.2 184.0,432.9 183.6,432.3 183.3,431.9 183.0,432.9 182.6,432.9 182.3,433.6 181.9,433.3 181.6,433.1 181.2,433.4 180.9,432.8 180.6,432.9 180.2,432.7 179.9,433.0 179.5,432.7 179.2,433.1 178.8,432.8 178.5,432.5 178.2,433.0 177.8,433.3 177.5,433.4 177.1,433.2 176.8,433.6 176.4,433.3 176.1,433.3 175.8,432.7 175.4,432.7 175.1,432.5 174.7,432.5 174.4,432.6 174.0,432.8 173.7,433.2 173.4,433.6 173.0,433.3 172.7,433.0 172.3,432.7 172.0,432.9 171.6,432.9 171.3,432.7 171.0,432.6 170.6,432.4 170.3,432.4 169.9,432.8 169.6,433.0 169.2,433.0 168.9,432.7 168.6,431.8 168.2,431.9 167.9,432.0 167.5,432.1 167.2,432.5 166.8,432.4 166.5,432.1 166.2,433.0 165.8,433.0 165.5,432.7 165.1,432.6 164.8,432.6 164.4,432.5 164.1,432.1 163.8,432.5 163.4,431.9 163.1,431.7 162.7,432.1 162.4,432.0 162.0,431.9 161.7,431.9 161.4,431.3 161.0,431.1 160.7,430.6 160.3,430.2 160.0,430.4 159.6,431.0 159.3,431.1 159.0,430.3 158.6,430.7 158.3,431.0 157.9,430.9 157.6,430.4 157.2,430.6 156.9,430.2 156.6,429.7 156.2,430.1 155.9,429.7 155.5,429.9 155.2,429.8 154.8,429.6 154.5,429.6 154.2,429.2 153.8,429.5 153.5,428.8 153.1,429.0 152.8,428.8 152.4,427.9 152.1,427.8 151.8,427.7 151.4,428.1 151.1,427.7 150.7,427.3 150.4,427.2 150.0,427.0 149.7,426.9 149.4,426.9 149.0,426.8 148.7,426.5 148.3,425.8 148.0,425.7 147.6,425.9 147.3,425.3 147.0,425.2 146.6,425.8 146.3,425.3 145.9,425.0 145.6,423.9 145.2,423.3 144.9,423.9 144.6,424.5 144.2,424.7 143.9,424.2 143.5,423.8 143.2,423.0 142.8,422.7 142.5,422.3 142.2,422.0 141.8,421.6 141.5,421.8 141.1,421.2 140.8,421.5 140.4,421.9 140.1,421.6 139.8,420.8 139.4,419.7 139.1,419.5 138.7,419.3 138.4,418.5 138.0,418.5 137.7,417.9 137.4,417.6 137.0,417.7 136.7,416.9 136.3,416.1 136.0,415.3 135.6,414.4 135.3,413.8 135.0,413.8 134.6,413.5 134.3,413.0 133.9,412.3 133.6,411.3 133.2,410.7 132.9,409.6 132.6,408.3 132.2,407.1 131.9,406.2 131.5,404.6 131.2,405.0 130.8,402.5 130.5,399.0 130.2,395.3 129.8,392.2 129.5,390.8 129.1,388.4 128.8,384.6 128.4,381.9 128.1,380.0 127.8,383.1 127.4,382.6 127.1,382.5 126.7,383.6 126.4,383.0 126.0,381.8 125.7,381.4 125.4,381.1 125.0,381.0 124.7,380.9 124.3,380.8 124.0,380.4 123.6,381.1 123.3,382.7 123.0,382.3 122.6,381.7 122.3,381.0 121.9,381.9 121.6,382.3 121.2,382.8 120.9,382.5 120.6,383.4 120.2,383.9 119.9,382.3 119.5,382.0 119.2,380.4 118.8,381.1 118.5,381.8 118.2,382.7 117.8,382.6 117.5,382.1 117.1,381.6 116.8,382.2 116.4,380.3 116.1,380.6 115.8,381.3 115.4,381.5 115.1,382.8 114.7,382.5 114.4,383.5 114.0,382.0 113.7,381.2 113.4,382.1 113.0,382.7 112.7,383.0 112.3,384.6 112.0,384.8 111.6,385.5 111.3,386.3 111.0,385.8 110.6,384.9 110.3,384.1 109.9,383.9 109.6,383.9 109.2,383.1 108.9,382.9 108.6,383.9 108.2,384.6 107.9,386.2 107.5,387.5 107.2,386.6 106.8,385.9 106.5,386.1 106.2,385.5 105.8,385.3 105.5,385.1 105.1,387.0 104.8,387.9 104.4,389.7 104.1,389.9 103.8,389.6 103.4,389.6 103.1,389.4 102.7,388.9 102.4,389.9 102.0,391.1 101.7,390.2 101.4,389.3 101.0,390.9 100.7,392.6 100.3,392.5 100.0,391.3 99.6,392.3 99.3,391.4 99.0,391.7 98.6,390.0 98.3,389.6 97.9,389.9 97.6,390.7 97.2,394.1 96.9,393.3 96.6,394.0 96.2,393.1 95.9,393.5 95.5,395.3 95.2,393.6 94.8,393.0 94.5,393.1 94.2,395.1 93.8,395.6 93.5,396.2 93.1,395.4 92.8,395.0 92.4,394.7 92.1,396.0 91.8,397.6 91.4,396.7 91.1,396.6 90.7,396.2 90.4,396.9 90.0,397.4 89.7,397.7 89.4,397.7 89.0,398.1 88.7,399.2 88.3,399.4 88.0,400.6 87.6,400.8 87.3,401.0 87.0,400.9 86.6,399.6 86.3,399.8 85.9,400.2 85.6,401.5 85.2,402.2 84.9,401.8 84.6,400.9 84.2,402.2 83.9,401.8 83.5,402.8 83.2,402.5 82.8,402.5 82.5,404.5 82.2,404.8 81.8,404.5 81.5,403.6 81.1,404.2 80.8,406.4 80.4,407.7 80.1,406.0 79.8,406.0 79.4,406.7 79.1,406.9 78.7,406.0 78.4,407.4 78.0,408.1 77.7,408.6 77.4,408.0 77.0,405.5 76.7,403.7 76.3,402.9 76.0,401.9 75.6,399.5 75.3,399.0 75.0,397.7 74.6,397.0 74.3,395.8 73.9,393.3 73.6,389.9 73.2,385.6 72.9,382.1 72.6,379.8 72.2,377.6 71.9,376.8 71.5,376.2 71.2,372.4 70.8,370.9 70.5,371.6 70.2,372.9 69.8,375.8 69.5,376.4 69.1,380.9 68.8,389.5 68.4,397.0 68.1,401.5 67.8,405.5 67.4,411.6 67.1,418.9 66.7,425.7 66.4,431.5 66.0,433.4 65.7,434.3 65.4,432.8 65.0,432.9 64.7,432.8 64.3,432.7 64.0,432.6 63.6,432.6 63.3,432.7 63.0,432.2 62.6,432.8 62.3,432.9 61.9,433.2 61.6,432.6 61.2,432.4 60.9,432.5 60.6,433.0 60.2,432.7 59.9,433.1 59.5,432.7 59.2,433.0 58.8,432.9 58.5,433.1 58.2,432.7 57.8,433.7 57.5,433.3 57.1,433.6 56.8,433.1 56.4,433.0 56.1,433.2 55.8,433.0 55.4,433.4 55.1,433.2 54.7,432.3 54.4,432.5 54.0,432.2 53.7,433.9 53.4,434.2 53.0,434.1 52.7,434.3 52.3,433.8 52.0,433.8 51.6,433.2 51.3,433.6 51.0,432.6 50.6,432.5 50.3,432.9 49.9,433.2 49.6,433.4 49.2,433.4 48.9,433.2 48.6,433.3 48.2,433.4 47.9,432.8 47.5,432.2 47.2,431.7 46.8,432.8 46.5,432.5 46.2,432.2 45.8,432.4 45.5,433.1 45.1,433.4 44.8,433.9 44.4,433.4 44.1,432.7 43.8,433.3 43.4,433.6 43.1,433.7 42.7,433.1 42.4,432.8 42.0,433.3 41.7,433.7" stroke="none" stroke-width="1" fill="#4f93a8" fill-opacity="0.55"/>
<polyline points="41.7,433.0 42.0,432.7 42.4,432.1 42.7,432.4 43.1,433.0 43.4,432.9 43.8,432.6 44.1,432.0 44.4,432.7 44.8,433.2 45.1,432.7 45.5,432.4 45.8,431.7 46.2,431.5 46.5,431.8 46.8,432.1 47.2,431.0 47.5,431.5 47.9,432.1 48.2,432.7 48.6,432.6 48.9,432.5 49.2,432.7 49.6,432.7 49.9,432.5 50.3,432.2 50.6,431.8 51.0,431.9 51.3,432.9 51.6,432.5 52.0,433.1 52.3,433.1 52.7,433.6 53.0,433.4 53.4,433.5 53.7,433.2 54.0,431.5 54.4,431.8 54.7,431.6 55.1,432.5 55.4,432.7 55.8,432.4 56.1,432.5 56.4,432.3 56.8,432.4 57.1,432.9 57.5,432.6 57.8,433.0 58.2,432.0 58.5,432.4 58.8,432.2 59.2,432.3 59.5,432.0 59.9,432.4 60.2,432.0 60.6,432.3 60.9,431.8 61.2,431.7 61.6,431.9 61.9,432.5 62.3,432.2 62.6,432.1 63.0,431.5 63.3,432.0 63.6,431.9 64.0,431.9 64.3,432.0 64.7,432.1 65.0,432.2 65.4,432.1 65.7,431.8 66.0,430.9 66.4,429.0 66.7,423.2 67.1,416.4 67.4,409.0 67.8,402.9 68.1,398.9 68.4,394.4 68.8,386.8 69.1,378.3 69.5,373.7 69.8,373.1 70.2,370.2 70.5,368.9 70.8,368.2 71.2,369.7 71.5,373.4 71.9,374.0 72.2,374.8 72.6,376.9 72.9,379.3 73.2,382.7 73.6,387.0 73.9,390.4 74.3,392.9 74.6,394.1 75.0,394.7 75.3,396.0 75.6,396.4 76.0,398.9 76.3,399.8 76.7,400.6 77.0,402.4 77.4,404.8 77.7,405.5 78.0,404.9 78.4,404.2 78.7,402.8 79.1,403.6 79.4,403.4 79.8,402.7 80.1,402.7 80.4,404.4 80.8,403.1 81.1,400.9 81.5,400.2 81.8,401.1 82.2,401.4 82.5,401.1 82.8,399.1 83.2,399.0 83.5,399.3 83.9,398.3 84.2,398.7 84.6,397.4 84.9,398.3 85.2,398.6 85.6,397.9 85.9,396.6 86.3,396.1 86.6,395.9 87.0,397.2 87.3,397.3 87.6,397.1 88.0,396.8 88.3,395.6 88.7,395.4 89.0,394.3 89.4,393.9 89.7,393.9 90.0,393.5 90.4,393.0 90.7,392.3 91.1,392.7 91.4,392.8 91.8,393.7 92.1,392.0 92.4,390.7 92.8,391.0 93.1,391.4 93.5,392.1 93.8,391.5 94.2,391.0 94.5,389.0 94.8,388.8 95.2,389.5 95.5,391.1 95.9,389.3 96.2,388.8 96.6,389.8 96.9,389.0 97.2,389.8 97.6,386.4 97.9,385.6 98.3,385.3 98.6,385.6 99.0,387.4 99.3,387.0 99.6,387.9 100.0,386.8 100.3,388.1 100.7,388.1 101.0,386.4 101.4,384.8 101.7,385.7 102.0,386.6 102.4,385.3 102.7,384.3 103.1,384.9 103.4,385.0 103.8,385.1 104.1,385.4 104.4,385.1 104.8,383.4 105.1,382.4 105.5,380.6 105.8,380.8 106.2,380.9 106.5,381.6 106.8,381.4 107.2,382.1 107.5,383.0 107.9,381.7 108.2,380.1 108.6,379.4 108.9,378.4 109.2,378.5 109.6,379.4 109.9,379.3 110.3,379.6 110.6,380.3 111.0,381.3 111.3,381.8 111.6,381.0 112.0,380.2 112.3,380.1 112.7,378.5 113.0,378.2 113.4,377.6 113.7,376.7 114.0,377.5 114.4,378.9 114.7,377.9 115.1,378.3 115.4,377.0 115.8,376.7 116.1,376.0 116.4,375.8 116.8,377.7 117.1,377.0 117.5,377.6 117.8,378.0 118.2,378.1 118.5,377.3 118.8,376.6 119.2,375.9 119.5,377.5 119.9,377.8 120.2,379.4 120.6,378.9 120.9,377.9 121.2,378.3 121.6,377.7 121.9,377.4 122.3,376.5 122.6,377.2 123.0,377.8 123.3,378.1 123.6,376.5 124.0,375.8 124.3,376.3 124.7,376.3 125.0,376.5 125.4,376.5 125.7,376.9 126.0,377.3 126.4,378.5 126.7,379.1 127.1,377.9 127.4,378.1 127.8,378.5 128.1,379.1 128.4,381.0 128.8,383.8 129.1,387.6 129.5,389.9 129.8,391.4 130.2,394.4 130.5,398.1 130.8,401.7 131.2,404.2 131.5,403.7 131.9,405.3 132.2,406.2 132.6,407.4 132.9,408.8 133.2,409.8 133.6,410.5 133.9,411.4 134.3,412.2 134.6,412.7 135.0,412.9 135.3,412.9 135.6,413.5 136.0,414.4 136.3,415.2 136.7,416.0 137.0,416.8 137.4,416.7 137.7,417.1 138.0,417.6 138.4,417.6 138.7,418.4 139.1,418.7 139.4,418.9 139.8,419.9 140.1,420.7 140.4,421.0 140.8,420.7 141.1,420.3 141.5,420.9 141.8,420.7 142.2,421.1 142.5,421.4 142.8,421.8 143.2,422.1 143.5,423.0 143.9,423.4 144.2,423.8 144.6,423.6 144.9,423.0 145.2,422.4 145.6,423.0 145.9,424.1 146.3,424.4 146.6,425.0 147.0,424.4 147.3,424.5 147.6,425.0 148.0,424.8 148.3,424.9 148.7,425.7 149.0,425.9 149.4,426.0 149.7,426.1 150.0,426.1 150.4,426.4 150.7,426.4 151.1,426.8 151.4,427.2 151.8,426.8 152.1,426.9 152.4,427.0 152.8,427.9 153.1,428.1 153.5,427.9 153.8,428.6 154.2,428.3 154.5,428.7 154.8,428.7 155.2,429.0 155.5,429.0 155.9,428.8 156.2,429.2 156.6,428.8 156.9,429.3 157.2,429.8 157.6,429.5 157.9,430.0 158.3,430.1 158.6,429.8 159.0,429.5 159.3,430.3 159.6,430.1 160.0,429.5 160.3,429.4 160.7,429.8 161.0,430.2 161.4,430.5 161.7,431.0 162.0,431.1 162.4,431.1 162.7,431.2 163.1,430.8 163.4,431.0 163.8,431.6 164.1,431.2 164.4,431.6 164.8,431.8 165.1,431.8 165.5,431.9 165.8,432.1 166.2,432.1 166.5,431.2 166.8,431.5 167.2,431.6 167.5,431.3 167.9,431.1 168.2,431.0 168.6,430.9 168.9,431.9 169.2,432.2 169.6,432.1 169.9,431.9 170.3,431.5 170.6,431.5 171.0,431.7 171.3,431.9 171.6,432.0 172.0,432.0 172.3,431.9 172.7,432.1 173.0,432.5 173.4,432.8 173.7,432.3 174.0,431.9 174.4,431.7 174.7,431.7 175.1,431.6 175.4,431.9 175.8,431.8 176.1,432.4 176.4,432.5 176.8,432.7 177.1,432.3 177.5,432.5 177.8,432.4 178.2,432.2 178.5,431.6 178.8,432.0 179.2,432.2 179.5,431.8 179.9,432.2 180.2,431.9 180.6,432.0 180.9,431.9 181.2,432.6 181.6,432.2 181.9,432.4 182.3,432.8 182.6,432.0 183.0,432.0 183.3,431.0 183.6,431.4 184.0,432.0 184.3,432.4 184.7,432.1 185.0,432.5 185.4,432.6 185.7,432.7" stroke="#15637a" stroke-width="1.15" fill="none" stroke-linejoin="round"/>
<line x1="65.50" y1="362.60" x2="65.50" y2="474.00" stroke="#222" stroke-width="1"/>
<line x1="125.50" y1="362.60" x2="125.50" y2="474.00" stroke="#333" stroke-width="1"/>
<rect x="53.70" y="446.36" width="12.00" height="27.64" fill="none" stroke="#222" stroke-width="0.8" stroke-dasharray="1.5,1.2"/>
<text x="61.70" y="460.18" font-size="11.2" text-anchor="middle" fill="#111" transform="rotate(-90 61.70 460.18)">pre</text>
<rect x="65.70" y="446.36" width="12.00" height="27.64" fill="none" stroke="#222" stroke-width="0.8" stroke-dasharray="1.5,1.2"/>
<text x="74.60" y="460.18" font-size="11.2" text-anchor="middle" fill="#111" transform="rotate(-90 74.60 460.18)">early</text>
<rect x="113.70" y="446.36" width="12.00" height="27.64" fill="none" stroke="#222" stroke-width="0.8" stroke-dasharray="1.5,1.2"/>
<text x="123.70" y="460.18" font-size="11.2" text-anchor="middle" fill="#111" transform="rotate(-90 123.70 460.18)">late</text>
<line x1="41.50" y1="362.60" x2="41.50" y2="474.50" stroke="#222" stroke-width="1"/>
<line x1="41.50" y1="474.00" x2="186.00" y2="474.00" stroke="#222" stroke-width="1"/>
<line x1="38.50" y1="362.60" x2="41.50" y2="362.60" stroke="#222" stroke-width="1"/>
<text x="36.90" y="365.90" font-size="10.9" text-anchor="end" fill="#111">20</text>
<line x1="38.50" y1="380.05" x2="41.50" y2="380.05" stroke="#222" stroke-width="1"/>
<text x="36.90" y="383.35" font-size="10.9" text-anchor="end" fill="#111">15</text>
<line x1="38.50" y1="397.50" x2="41.50" y2="397.50" stroke="#222" stroke-width="1"/>
<text x="36.90" y="400.80" font-size="10.9" text-anchor="end" fill="#111">10</text>
<line x1="38.50" y1="414.95" x2="41.50" y2="414.95" stroke="#222" stroke-width="1"/>
<text x="36.90" y="418.25" font-size="10.9" text-anchor="end" fill="#111">5</text>
<line x1="38.50" y1="432.40" x2="41.50" y2="432.40" stroke="#222" stroke-width="1"/>
<text x="36.90" y="435.70" font-size="10.9" text-anchor="end" fill="#111">0</text>
<line x1="38.50" y1="449.85" x2="41.50" y2="449.85" stroke="#222" stroke-width="1"/>
<text x="36.90" y="453.15" font-size="10.9" text-anchor="end" fill="#111">-5</text>
<line x1="38.50" y1="467.30" x2="41.50" y2="467.30" stroke="#222" stroke-width="1"/>
<text x="36.90" y="470.60" font-size="10.9" text-anchor="end" fill="#111">-10</text>
<line x1="41.70" y1="474.00" x2="41.70" y2="477.00" stroke="#333" stroke-width="1"/>
<text x="41.70" y="487.40" font-size="10.9" text-anchor="middle" fill="#111">-2</text>
<line x1="65.70" y1="474.00" x2="65.70" y2="477.00" stroke="#333" stroke-width="1"/>
<text x="65.70" y="487.40" font-size="10.9" text-anchor="middle" fill="#111">0</text>
<line x1="89.70" y1="474.00" x2="89.70" y2="477.00" stroke="#333" stroke-width="1"/>
<text x="89.70" y="487.40" font-size="10.9" text-anchor="middle" fill="#111">2</text>
<line x1="113.70" y1="474.00" x2="113.70" y2="477.00" stroke="#333" stroke-width="1"/>
<text x="113.70" y="487.40" font-size="10.9" text-anchor="middle" fill="#111">4</text>
<line x1="137.70" y1="474.00" x2="137.70" y2="477.00" stroke="#333" stroke-width="1"/>
<text x="137.70" y="487.40" font-size="10.9" text-anchor="middle" fill="#111">6</text>
<line x1="161.70" y1="474.00" x2="161.70" y2="477.00" stroke="#333" stroke-width="1"/>
<text x="161.70" y="487.40" font-size="10.9" text-anchor="middle" fill="#111">8</text>
<text x="20.30" y="415.30" font-size="11.3" text-anchor="middle" fill="#111" transform="rotate(-90 20.30 415.30)">z-score</text>
<rect x="69.70" y="548.16" width="60.25" height="113.84" fill="#b9e7ec"/>
<polygon points="45.6,624.1 45.9,623.5 46.3,623.5 46.6,623.6 47.0,623.0 47.3,623.2 47.7,623.4 48.0,622.4 48.4,623.2 48.7,623.9 49.0,624.2 49.4,623.8 49.7,623.1 50.1,622.8 50.4,622.5 50.8,622.0 51.1,621.9 51.5,622.4 51.8,622.2 52.1,622.5 52.5,623.2 52.8,622.7 53.2,622.9 53.5,623.1 53.9,622.1 54.2,622.3 54.6,623.0 54.9,623.1 55.2,621.9 55.6,622.7 55.9,622.5 56.3,622.4 56.6,622.5 57.0,622.4 57.3,622.9 57.7,623.0 58.0,622.9 58.3,622.9 58.7,622.2 59.0,621.6 59.4,622.6 59.7,622.2 60.1,622.7 60.4,622.8 60.7,622.5 61.1,622.2 61.4,622.4 61.8,623.5 62.1,621.9 62.5,622.1 62.8,622.4 63.2,621.9 63.5,622.3 63.8,622.9 64.2,622.2 64.5,621.9 64.9,622.5 65.2,621.9 65.6,621.9 65.9,622.7 66.3,621.5 66.6,621.9 66.9,622.7 67.3,622.2 67.6,622.2 68.0,621.8 68.3,622.8 68.7,622.0 69.0,621.8 69.4,621.2 69.7,617.4 70.0,615.4 70.4,614.3 70.7,610.9 71.1,606.2 71.4,598.8 71.8,593.2 72.1,590.1 72.5,588.8 72.8,586.1 73.1,585.8 73.5,581.3 73.8,580.2 74.2,576.0 74.5,572.8 74.9,571.9 75.2,574.8 75.6,576.4 75.9,578.7 76.2,582.4 76.6,582.2 76.9,583.2 77.3,583.7 77.6,585.3 78.0,585.8 78.3,586.6 78.7,586.6 79.0,588.1 79.3,586.5 79.7,589.6 80.0,590.8 80.4,591.1 80.7,592.1 81.1,590.8 81.4,591.4 81.8,593.6 82.1,593.5 82.4,593.0 82.8,595.2 83.1,595.0 83.5,595.5 83.8,593.7 84.2,594.8 84.5,595.6 84.8,595.9 85.2,593.8 85.5,594.8 85.9,592.7 86.2,594.9 86.6,594.3 86.9,593.9 87.3,593.9 87.6,593.3 87.9,592.2 88.3,592.8 88.6,593.5 89.0,591.4 89.3,590.5 89.7,591.9 90.0,591.6 90.4,593.8 90.7,591.4 91.0,592.5 91.4,592.2 91.7,589.7 92.1,591.6 92.4,591.1 92.8,591.7 93.1,592.5 93.5,592.1 93.8,590.7 94.1,591.4 94.5,591.0 94.8,589.6 95.2,589.8 95.5,590.7 95.9,588.6 96.2,589.0 96.6,587.9 96.9,589.6 97.2,587.8 97.6,589.7 97.9,590.6 98.3,589.8 98.6,589.4 99.0,588.8 99.3,589.2 99.7,588.3 100.0,587.3 100.3,588.6 100.7,589.6 101.0,589.1 101.4,587.9 101.7,587.4 102.1,588.1 102.4,588.9 102.8,588.3 103.1,587.2 103.4,588.1 103.8,586.7 104.1,587.1 104.5,587.1 104.8,587.8 105.2,586.3 105.5,586.8 105.9,588.2 106.2,586.7 106.5,587.1 106.9,586.0 107.2,586.2 107.6,586.9 107.9,586.5 108.3,586.8 108.6,587.1 108.9,586.4 109.3,585.5 109.6,585.7 110.0,585.9 110.3,586.3 110.7,585.4 111.0,585.3 111.4,584.7 111.7,584.9 112.0,583.4 112.4,586.0 112.7,585.6 113.1,584.9 113.4,584.3 113.8,586.1 114.1,586.5 114.5,585.6 114.8,584.3 115.1,583.8 115.5,585.8 115.8,585.1 116.2,584.0 116.5,584.5 116.9,585.5 117.2,585.6 117.6,586.0 117.9,584.1 118.2,584.5 118.6,584.8 118.9,585.2 119.3,584.7 119.6,585.1 120.0,585.3 120.3,584.5 120.7,584.3 121.0,583.7 121.3,583.6 121.7,582.7 122.0,583.4 122.4,583.3 122.7,583.3 123.1,584.1 123.4,582.6 123.8,583.6 124.1,584.7 124.4,582.7 124.8,582.4 125.1,583.3 125.5,582.4 125.8,582.0 126.2,582.0 126.5,583.6 126.9,583.0 127.2,583.8 127.5,583.8 127.9,583.8 128.2,584.2 128.6,583.3 128.9,584.2 129.3,583.4 129.6,583.7 129.9,584.6 130.3,584.4 130.6,584.0 131.0,583.6 131.3,584.7 131.7,583.5 132.0,584.1 132.4,585.7 132.7,588.1 133.0,589.0 133.4,587.8 133.7,588.9 134.1,589.1 134.4,588.9 134.8,591.5 135.1,591.3 135.5,590.4 135.8,591.5 136.1,593.0 136.5,593.7 136.8,594.7 137.2,595.1 137.5,595.3 137.9,596.7 138.2,597.1 138.6,597.7 138.9,597.9 139.2,598.3 139.6,599.7 139.9,599.1 140.3,599.3 140.6,600.7 141.0,601.0 141.3,602.2 141.7,602.2 142.0,602.3 142.3,603.6 142.7,604.3 143.0,605.1 143.4,605.7 143.7,606.5 144.1,607.4 144.4,607.2 144.8,608.0 145.1,609.1 145.4,608.8 145.8,610.0 146.1,609.8 146.5,611.3 146.8,610.5 147.2,611.5 147.5,612.1 147.9,611.6 148.2,612.6 148.5,612.9 148.9,612.3 149.2,612.7 149.6,612.4 149.9,612.6 150.3,612.8 150.6,613.1 151.0,613.0 151.3,613.5 151.6,613.2 152.0,613.4 152.3,615.3 152.7,616.0 153.0,614.5 153.4,615.3 153.7,615.3 154.1,615.6 154.4,615.7 154.7,614.7 155.1,616.1 155.4,616.3 155.8,616.4 156.1,617.2 156.5,617.4 156.8,617.1 157.1,616.9 157.5,616.7 157.8,618.0 158.2,618.2 158.5,616.5 158.9,617.0 159.2,616.7 159.6,617.3 159.9,617.8 160.2,616.3 160.6,617.8 160.9,618.2 161.3,617.5 161.6,617.7 162.0,618.8 162.3,618.2 162.7,617.8 163.0,619.0 163.3,618.9 163.7,618.1 164.0,617.3 164.4,619.5 164.7,619.4 165.1,619.0 165.4,619.5 165.8,619.7 166.1,619.6 166.4,619.1 166.8,619.9 167.1,619.1 167.5,618.9 167.8,618.8 168.2,618.5 168.5,619.6 168.9,619.7 169.2,619.2 169.5,618.9 169.9,619.0 170.2,619.9 170.6,620.3 170.9,620.9 171.3,620.6 171.6,620.8 172.0,620.7 172.3,620.6 172.6,620.0 173.0,619.8 173.3,620.3 173.7,621.1 174.0,620.9 174.4,620.5 174.7,620.2 175.1,620.6 175.4,620.4 175.7,621.2 176.1,620.8 176.4,620.7 176.8,621.3 177.1,621.8 177.5,620.9 177.8,621.9 178.2,621.4 178.5,621.7 178.8,622.0 179.2,622.0 179.5,622.2 179.9,622.0 180.2,620.9 180.6,620.7 180.9,621.6 181.2,621.6 181.6,621.3 181.9,622.0 182.3,621.0 182.6,621.7 183.0,621.6 183.3,622.5 183.7,623.0 184.0,623.1 184.3,622.9 184.7,621.9 185.0,622.4 185.4,621.9 185.7,622.5 186.1,623.0 186.4,622.6 186.8,622.8 187.1,623.6 187.4,623.0 187.8,622.1 188.1,622.6 188.5,623.4 188.8,623.4 189.2,623.7 189.5,623.3 189.9,623.5 190.2,623.1 190.2,625.4 189.9,625.8 189.5,625.5 189.2,626.0 188.8,625.7 188.5,625.7 188.1,624.9 187.8,624.4 187.4,625.2 187.1,625.9 186.8,625.1 186.4,624.9 186.1,625.3 185.7,624.8 185.4,624.2 185.0,624.7 184.7,624.2 184.3,625.2 184.0,625.4 183.7,625.2 183.3,624.8 183.0,623.9 182.6,624.0 182.3,623.3 181.9,624.3 181.6,623.6 181.2,623.8 180.9,623.9 180.6,623.0 180.2,623.2 179.9,624.3 179.5,624.4 179.2,624.3 178.8,624.2 178.5,624.0 178.2,623.6 177.8,624.2 177.5,623.2 177.1,624.1 176.8,623.6 176.4,623.0 176.1,623.1 175.7,623.5 175.4,622.7 175.1,622.8 174.7,622.5 174.4,622.8 174.0,623.1 173.7,623.4 173.3,622.5 173.0,622.0 172.6,622.2 172.3,622.9 172.0,623.0 171.6,623.1 171.3,622.9 170.9,623.2 170.6,622.5 170.2,622.2 169.9,621.3 169.5,621.2 169.2,621.5 168.9,622.0 168.5,621.8 168.2,620.7 167.8,621.1 167.5,621.1 167.1,621.3 166.8,622.1 166.4,621.4 166.1,621.9 165.8,622.0 165.4,621.8 165.1,621.3 164.7,621.7 164.4,621.8 164.0,619.6 163.7,620.4 163.3,621.2 163.0,621.2 162.7,620.0 162.3,620.5 162.0,621.1 161.6,620.0 161.3,619.8 160.9,620.5 160.6,620.1 160.2,618.6 159.9,620.0 159.6,619.6 159.2,618.9 158.9,619.3 158.5,618.8 158.2,620.5 157.8,620.2 157.5,618.9 157.1,619.2 156.8,619.4 156.5,619.7 156.1,619.5 155.8,618.7 155.4,618.5 155.1,618.4 154.7,616.9 154.4,617.9 154.1,617.9 153.7,617.6 153.4,617.5 153.0,616.8 152.7,618.3 152.3,617.6 152.0,615.7 151.6,615.5 151.3,615.8 151.0,615.3 150.6,615.3 150.3,615.1 149.9,614.9 149.6,614.7 149.2,614.9 148.9,614.6 148.5,615.1 148.2,614.8 147.9,613.9 147.5,614.4 147.2,613.8 146.8,612.8 146.5,613.6 146.1,612.1 145.8,612.2 145.4,611.1 145.1,611.4 144.8,610.3 144.4,609.5 144.1,609.7 143.7,608.8 143.4,608.0 143.0,607.4 142.7,606.6 142.3,605.9 142.0,604.6 141.7,604.5 141.3,604.4 141.0,603.3 140.6,603.0 140.3,601.5 139.9,601.4 139.6,602.0 139.2,600.5 138.9,600.2 138.6,600.0 138.2,599.3 137.9,598.9 137.5,597.6 137.2,597.4 136.8,597.0 136.5,596.0 136.1,595.3 135.8,593.8 135.5,592.7 135.1,593.6 134.8,593.8 134.4,591.2 134.1,591.3 133.7,591.1 133.4,590.0 133.0,591.3 132.7,590.4 132.4,588.0 132.0,589.8 131.7,589.2 131.3,590.4 131.0,589.3 130.6,589.7 130.3,590.0 129.9,590.3 129.6,589.4 129.3,589.1 128.9,589.9 128.6,589.0 128.2,589.8 127.9,589.5 127.5,589.4 127.2,589.5 126.9,588.7 126.5,589.3 126.2,587.7 125.8,587.7 125.5,588.0 125.1,589.0 124.8,588.1 124.4,588.4 124.1,590.4 123.8,589.2 123.4,588.3 123.1,589.7 122.7,588.9 122.4,589.0 122.0,589.1 121.7,588.4 121.3,589.3 121.0,589.4 120.7,590.0 120.3,590.2 120.0,591.0 119.6,590.8 119.3,590.4 118.9,590.9 118.6,590.5 118.2,590.2 117.9,589.8 117.6,591.7 117.2,591.2 116.9,591.2 116.5,590.2 116.2,589.6 115.8,590.8 115.5,591.5 115.1,589.5 114.8,590.0 114.5,591.3 114.1,592.1 113.8,591.8 113.4,590.0 113.1,590.6 112.7,591.2 112.4,591.7 112.0,589.1 111.7,590.6 111.4,590.3 111.0,591.0 110.7,591.1 110.3,592.0 110.0,591.6 109.6,591.4 109.3,591.2 108.9,592.1 108.6,592.8 108.3,592.5 107.9,592.1 107.6,592.6 107.2,591.9 106.9,591.6 106.5,592.8 106.2,592.4 105.9,593.9 105.5,592.5 105.2,592.0 104.8,593.5 104.5,592.8 104.1,592.8 103.8,592.4 103.4,593.8 103.1,592.9 102.8,594.0 102.4,594.6 102.1,593.8 101.7,593.1 101.4,593.6 101.0,594.8 100.7,595.3 100.3,594.3 100.0,593.0 99.7,594.0 99.3,594.9 99.0,594.4 98.6,595.1 98.3,595.5 97.9,596.3 97.6,595.3 97.2,593.5 96.9,595.3 96.6,593.6 96.2,594.7 95.9,594.3 95.5,596.4 95.2,595.5 94.8,595.3 94.5,596.6 94.1,597.1 93.8,596.4 93.5,597.8 93.1,598.2 92.8,597.4 92.4,596.8 92.1,597.3 91.7,595.4 91.4,597.9 91.0,598.2 90.7,597.1 90.4,599.4 90.0,597.3 89.7,597.6 89.3,596.2 89.0,597.1 88.6,599.2 88.3,598.5 87.9,597.9 87.6,599.0 87.3,599.6 86.9,599.6 86.6,600.0 86.2,600.6 85.9,598.4 85.5,600.5 85.2,599.5 84.8,601.6 84.5,601.3 84.2,600.5 83.8,599.4 83.5,601.2 83.1,600.7 82.8,600.9 82.4,598.7 82.1,599.2 81.8,599.3 81.4,597.1 81.1,596.5 80.7,597.8 80.4,596.8 80.0,596.5 79.7,595.3 79.3,592.2 79.0,593.8 78.7,592.3 78.3,592.3 78.0,591.5 77.6,591.0 77.3,589.4 76.9,588.9 76.6,587.9 76.2,588.1 75.9,584.3 75.6,582.1 75.2,580.5 74.9,577.5 74.5,578.5 74.2,581.7 73.8,585.8 73.5,587.0 73.1,591.5 72.8,591.8 72.5,594.5 72.1,595.8 71.8,598.9 71.4,604.5 71.1,611.9 70.7,616.5 70.4,620.0 70.0,621.0 69.7,623.1 69.4,622.4 69.0,623.0 68.7,623.3 68.3,624.1 68.0,623.1 67.6,623.5 67.3,623.5 66.9,624.0 66.6,623.2 66.3,622.8 65.9,624.0 65.6,623.2 65.2,623.2 64.9,623.8 64.5,623.2 64.2,623.4 63.8,624.2 63.5,623.6 63.2,623.1 62.8,623.7 62.5,623.4 62.1,623.1 61.8,624.8 61.4,623.7 61.1,623.5 60.7,623.8 60.4,624.0 60.1,624.0 59.7,623.4 59.4,623.8 59.0,622.9 58.7,623.5 58.3,624.1 58.0,624.1 57.7,624.3 57.3,624.1 57.0,623.7 56.6,623.7 56.3,623.7 55.9,623.8 55.6,624.0 55.2,623.1 54.9,624.3 54.6,624.3 54.2,623.6 53.9,623.3 53.5,624.4 53.2,624.2 52.8,624.0 52.5,624.4 52.1,623.7 51.8,623.5 51.5,623.7 51.1,623.2 50.8,623.3 50.4,623.8 50.1,624.0 49.7,624.4 49.4,625.1 49.0,625.4 48.7,625.1 48.4,624.5 48.0,623.7 47.7,624.7 47.3,624.4 47.0,624.2 46.6,624.9 46.3,624.8 45.9,624.8 45.6,625.3" stroke="none" stroke-width="1" fill="#3f8a45" fill-opacity="0.55"/>
<polyline points="45.6,624.7 45.9,624.1 46.3,624.2 46.6,624.3 47.0,623.6 47.3,623.8 47.7,624.0 48.0,623.1 48.4,623.9 48.7,624.5 49.0,624.8 49.4,624.5 49.7,623.7 50.1,623.4 50.4,623.1 50.8,622.7 51.1,622.6 51.5,623.0 51.8,622.8 52.1,623.1 52.5,623.8 52.8,623.3 53.2,623.5 53.5,623.7 53.9,622.7 54.2,622.9 54.6,623.6 54.9,623.7 55.2,622.5 55.6,623.3 55.9,623.1 56.3,623.1 56.6,623.1 57.0,623.0 57.3,623.5 57.7,623.6 58.0,623.5 58.3,623.5 58.7,622.9 59.0,622.3 59.4,623.2 59.7,622.8 60.1,623.4 60.4,623.4 60.7,623.2 61.1,622.9 61.4,623.0 61.8,624.1 62.1,622.5 62.5,622.8 62.8,623.0 63.2,622.5 63.5,622.9 63.8,623.5 64.2,622.8 64.5,622.6 64.9,623.1 65.2,622.5 65.6,622.5 65.9,623.3 66.3,622.2 66.6,622.5 66.9,623.4 67.3,622.9 67.6,622.9 68.0,622.5 68.3,623.5 68.7,622.7 69.0,622.4 69.4,621.8 69.7,620.2 70.0,618.2 70.4,617.1 70.7,613.7 71.1,609.1 71.4,601.7 71.8,596.0 72.1,593.0 72.5,591.6 72.8,588.9 73.1,588.7 73.5,584.1 73.8,583.0 74.2,578.8 74.5,575.7 74.9,574.7 75.2,577.6 75.6,579.2 75.9,581.5 76.2,585.3 76.6,585.0 76.9,586.0 77.3,586.5 77.6,588.1 78.0,588.6 78.3,589.4 78.7,589.5 79.0,590.9 79.3,589.4 79.7,592.5 80.0,593.6 80.4,594.0 80.7,595.0 81.1,593.7 81.4,594.3 81.8,596.4 82.1,596.4 82.4,595.8 82.8,598.1 83.1,597.9 83.5,598.3 83.8,596.6 84.2,597.7 84.5,598.5 84.8,598.8 85.2,596.6 85.5,597.7 85.9,595.5 86.2,597.7 86.6,597.1 86.9,596.7 87.3,596.8 87.6,596.2 87.9,595.1 88.3,595.6 88.6,596.4 89.0,594.2 89.3,593.4 89.7,594.8 90.0,594.4 90.4,596.6 90.7,594.3 91.0,595.4 91.4,595.0 91.7,592.6 92.1,594.5 92.4,594.0 92.8,594.6 93.1,595.4 93.5,595.0 93.8,593.5 94.1,594.2 94.5,593.8 94.8,592.4 95.2,592.6 95.5,593.6 95.9,591.5 96.2,591.8 96.6,590.8 96.9,592.4 97.2,590.6 97.6,592.5 97.9,593.4 98.3,592.6 98.6,592.3 99.0,591.6 99.3,592.0 99.7,591.1 100.0,590.2 100.3,591.5 100.7,592.5 101.0,592.0 101.4,590.7 101.7,590.2 102.1,591.0 102.4,591.7 102.8,591.1 103.1,590.0 103.4,591.0 103.8,589.6 104.1,589.9 104.5,589.9 104.8,590.6 105.2,589.1 105.5,589.6 105.9,591.0 106.2,589.5 106.5,590.0 106.9,588.8 107.2,589.1 107.6,589.8 107.9,589.3 108.3,589.6 108.6,589.9 108.9,589.3 109.3,588.3 109.6,588.6 110.0,588.7 110.3,589.1 110.7,588.3 111.0,588.2 111.4,587.5 111.7,587.7 112.0,586.3 112.4,588.8 112.7,588.4 113.1,587.7 113.4,587.2 113.8,589.0 114.1,589.3 114.5,588.4 114.8,587.2 115.1,586.7 115.5,588.7 115.8,587.9 116.2,586.8 116.5,587.3 116.9,588.3 117.2,588.4 117.6,588.9 117.9,586.9 118.2,587.4 118.6,587.7 118.9,588.1 119.3,587.6 119.6,588.0 120.0,588.1 120.3,587.4 120.7,587.2 121.0,586.5 121.3,586.5 121.7,585.6 122.0,586.2 122.4,586.1 122.7,586.1 123.1,586.9 123.4,585.5 123.8,586.4 124.1,587.5 124.4,585.5 124.8,585.3 125.1,586.2 125.5,585.2 125.8,584.8 126.2,584.9 126.5,586.4 126.9,585.8 127.2,586.6 127.5,586.6 127.9,586.6 128.2,587.0 128.6,586.1 128.9,587.0 129.3,586.3 129.6,586.5 129.9,587.4 130.3,587.2 130.6,586.8 131.0,586.4 131.3,587.5 131.7,586.3 132.0,586.9 132.4,586.9 132.7,589.2 133.0,590.1 133.4,588.9 133.7,590.0 134.1,590.2 134.4,590.1 134.8,592.7 135.1,592.4 135.5,591.6 135.8,592.7 136.1,594.2 136.5,594.9 136.8,595.9 137.2,596.2 137.5,596.5 137.9,597.8 138.2,598.2 138.6,598.8 138.9,599.1 139.2,599.4 139.6,600.8 139.9,600.2 140.3,600.4 140.6,601.8 141.0,602.2 141.3,603.3 141.7,603.4 142.0,603.5 142.3,604.8 142.7,605.5 143.0,606.2 143.4,606.9 143.7,607.6 144.1,608.5 144.4,608.3 144.8,609.2 145.1,610.2 145.4,609.9 145.8,611.1 146.1,611.0 146.5,612.4 146.8,611.6 147.2,612.6 147.5,613.3 147.9,612.8 148.2,613.7 148.5,614.0 148.9,613.5 149.2,613.8 149.6,613.6 149.9,613.8 150.3,613.9 150.6,614.2 151.0,614.1 151.3,614.7 151.6,614.4 152.0,614.5 152.3,616.4 152.7,617.1 153.0,615.6 153.4,616.4 153.7,616.5 154.1,616.8 154.4,616.8 154.7,615.8 155.1,617.2 155.4,617.4 155.8,617.6 156.1,618.3 156.5,618.6 156.8,618.3 157.1,618.1 157.5,617.8 157.8,619.1 158.2,619.4 158.5,617.7 158.9,618.2 159.2,617.8 159.6,618.5 159.9,618.9 160.2,617.5 160.6,619.0 160.9,619.4 161.3,618.7 161.6,618.9 162.0,619.9 162.3,619.4 162.7,618.9 163.0,620.1 163.3,620.0 163.7,619.3 164.0,618.4 164.4,620.7 164.7,620.6 165.1,620.2 165.4,620.7 165.8,620.9 166.1,620.8 166.4,620.2 166.8,621.0 167.1,620.2 167.5,620.0 167.8,620.0 168.2,619.6 168.5,620.7 168.9,620.9 169.2,620.3 169.5,620.1 169.9,620.2 170.2,621.0 170.6,621.4 170.9,622.0 171.3,621.8 171.6,622.0 172.0,621.8 172.3,621.8 172.6,621.1 173.0,620.9 173.3,621.4 173.7,622.3 174.0,622.0 174.4,621.7 174.7,621.4 175.1,621.7 175.4,621.5 175.7,622.4 176.1,622.0 176.4,621.8 176.8,622.5 177.1,623.0 177.5,622.1 177.8,623.1 178.2,622.5 178.5,622.9 178.8,623.1 179.2,623.2 179.5,623.3 179.9,623.2 180.2,622.1 180.6,621.9 180.9,622.7 181.2,622.7 181.6,622.5 181.9,623.2 182.3,622.1 182.6,622.8 183.0,622.8 183.3,623.7 183.7,624.1 184.0,624.2 184.3,624.1 184.7,623.1 185.0,623.5 185.4,623.0 185.7,623.6 186.1,624.2 186.4,623.8 186.8,624.0 187.1,624.8 187.4,624.1 187.8,623.2 188.1,623.8 188.5,624.5 188.8,624.6 189.2,624.8 189.5,624.4 189.9,624.7 190.2,624.3" stroke="#15601a" stroke-width="1.15" fill="none" stroke-linejoin="round"/>
<line x1="69.50" y1="548.16" x2="69.50" y2="662.00" stroke="#222" stroke-width="1"/>
<line x1="129.50" y1="548.16" x2="129.50" y2="662.00" stroke="#333" stroke-width="1"/>
<line x1="45.50" y1="548.16" x2="45.50" y2="662.50" stroke="#222" stroke-width="1"/>
<line x1="45.50" y1="662.00" x2="190.50" y2="662.00" stroke="#222" stroke-width="1"/>
<line x1="42.50" y1="548.16" x2="45.50" y2="548.16" stroke="#222" stroke-width="1"/>
<text x="43.00" y="551.46" font-size="10.9" text-anchor="end" fill="#111">12</text>
<line x1="42.50" y1="560.80" x2="45.50" y2="560.80" stroke="#222" stroke-width="1"/>
<text x="43.00" y="564.10" font-size="10.9" text-anchor="end" fill="#111">10</text>
<line x1="42.50" y1="573.44" x2="45.50" y2="573.44" stroke="#222" stroke-width="1"/>
<text x="43.00" y="576.74" font-size="10.9" text-anchor="end" fill="#111">8</text>
<line x1="42.50" y1="586.08" x2="45.50" y2="586.08" stroke="#222" stroke-width="1"/>
<text x="43.00" y="589.38" font-size="10.9" text-anchor="end" fill="#111">6</text>
<line x1="42.50" y1="598.72" x2="45.50" y2="598.72" stroke="#222" stroke-width="1"/>
<text x="43.00" y="602.02" font-size="10.9" text-anchor="end" fill="#111">4</text>
<line x1="42.50" y1="611.36" x2="45.50" y2="611.36" stroke="#222" stroke-width="1"/>
<text x="43.00" y="614.66" font-size="10.9" text-anchor="end" fill="#111">2</text>
<line x1="42.50" y1="624.00" x2="45.50" y2="624.00" stroke="#222" stroke-width="1"/>
<text x="43.00" y="627.30" font-size="10.9" text-anchor="end" fill="#111">0</text>
<line x1="42.50" y1="636.64" x2="45.50" y2="636.64" stroke="#222" stroke-width="1"/>
<text x="43.00" y="639.94" font-size="10.9" text-anchor="end" fill="#111">-2</text>
<line x1="42.50" y1="649.28" x2="45.50" y2="649.28" stroke="#222" stroke-width="1"/>
<text x="43.00" y="652.58" font-size="10.9" text-anchor="end" fill="#111">-4</text>
<line x1="42.50" y1="661.92" x2="45.50" y2="661.92" stroke="#222" stroke-width="1"/>
<text x="43.00" y="665.22" font-size="10.9" text-anchor="end" fill="#111">-6</text>
<line x1="45.60" y1="662.00" x2="45.60" y2="665.00" stroke="#333" stroke-width="1"/>
<text x="45.60" y="675.40" font-size="10.9" text-anchor="middle" fill="#111">-2</text>
<line x1="69.70" y1="662.00" x2="69.70" y2="665.00" stroke="#333" stroke-width="1"/>
<text x="69.70" y="675.40" font-size="10.9" text-anchor="middle" fill="#111">0</text>
<line x1="93.80" y1="662.00" x2="93.80" y2="665.00" stroke="#333" stroke-width="1"/>
<text x="93.80" y="675.40" font-size="10.9" text-anchor="middle" fill="#111">2</text>
<line x1="117.90" y1="662.00" x2="117.90" y2="665.00" stroke="#333" stroke-width="1"/>
<text x="117.90" y="675.40" font-size="10.9" text-anchor="middle" fill="#111">4</text>
<line x1="142.00" y1="662.00" x2="142.00" y2="665.00" stroke="#333" stroke-width="1"/>
<text x="142.00" y="675.40" font-size="10.9" text-anchor="middle" fill="#111">6</text>
<line x1="166.10" y1="662.00" x2="166.10" y2="665.00" stroke="#333" stroke-width="1"/>
<text x="166.10" y="675.40" font-size="10.9" text-anchor="middle" fill="#111">8</text>
<text x="27.60" y="605.08" font-size="11.3" text-anchor="middle" fill="#111" transform="rotate(-90 27.60 605.08)">z-score</text>
<rect x="70.00" y="732.64" width="60.25" height="113.36" fill="#b9e7ec"/>
<polygon points="45.9,796.4 46.2,795.7 46.6,796.5 46.9,797.3 47.3,796.6 47.6,796.2 48.0,796.1 48.3,796.1 48.7,796.3 49.0,796.7 49.3,796.9 49.7,796.7 50.0,796.7 50.4,796.1 50.7,796.0 51.1,796.9 51.4,796.3 51.8,796.4 52.1,795.9 52.4,795.5 52.8,795.9 53.1,797.1 53.5,796.4 53.8,797.2 54.2,796.0 54.5,796.7 54.9,796.7 55.2,795.7 55.5,797.1 55.9,796.8 56.2,797.2 56.6,797.1 56.9,797.2 57.3,796.5 57.6,796.7 58.0,796.5 58.3,796.3 58.6,797.4 59.0,796.2 59.3,796.7 59.7,797.5 60.0,797.3 60.4,796.5 60.7,796.2 61.0,796.9 61.4,796.8 61.7,796.7 62.1,796.2 62.4,796.7 62.8,796.3 63.1,797.1 63.5,797.3 63.8,796.7 64.1,796.4 64.5,796.7 64.8,796.5 65.2,796.6 65.5,796.4 65.9,796.2 66.2,796.4 66.6,796.3 66.9,796.9 67.2,797.2 67.6,798.2 67.9,797.2 68.3,797.0 68.6,796.7 69.0,797.8 69.3,797.5 69.7,797.1 70.0,796.7 70.3,794.1 70.7,792.5 71.0,793.7 71.4,791.5 71.7,786.6 72.1,783.9 72.4,777.9 72.8,773.1 73.1,770.3 73.4,770.7 73.8,768.5 74.1,765.3 74.5,764.0 74.8,768.8 75.2,772.8 75.5,776.3 75.9,776.5 76.2,780.4 76.5,783.6 76.9,787.1 77.2,789.4 77.6,790.8 77.9,791.6 78.3,791.8 78.6,793.0 79.0,795.5 79.3,796.5 79.6,796.4 80.0,797.7 80.3,799.2 80.7,799.9 81.0,798.1 81.4,800.7 81.7,801.5 82.0,802.0 82.4,802.7 82.7,801.9 83.1,802.0 83.4,802.5 83.8,804.3 84.1,802.9 84.5,803.0 84.8,803.9 85.1,806.5 85.5,805.5 85.8,806.2 86.2,805.9 86.5,806.2 86.9,806.7 87.2,805.6 87.6,806.1 87.9,805.5 88.2,807.3 88.6,807.5 88.9,806.4 89.3,807.0 89.6,808.3 90.0,808.9 90.3,809.1 90.7,808.8 91.0,808.1 91.3,808.4 91.7,808.0 92.0,807.9 92.4,808.4 92.7,807.7 93.1,808.0 93.4,808.9 93.8,809.3 94.1,809.4 94.4,810.1 94.8,810.9 95.1,810.2 95.5,810.4 95.8,809.7 96.2,810.5 96.5,810.3 96.9,810.2 97.2,810.8 97.5,810.6 97.9,811.3 98.2,811.4 98.6,810.5 98.9,810.6 99.3,811.0 99.6,811.8 100.0,810.9 100.3,809.6 100.6,812.6 101.0,811.0 101.3,811.1 101.7,810.5 102.0,810.2 102.4,812.0 102.7,810.4 103.1,811.7 103.4,812.0 103.7,811.4 104.1,811.8 104.4,811.7 104.8,812.4 105.1,813.1 105.5,812.5 105.8,813.3 106.2,811.5 106.5,811.9 106.8,811.1 107.2,813.1 107.5,814.5 107.9,815.3 108.2,814.0 108.6,814.3 108.9,813.1 109.2,814.3 109.6,814.7 109.9,813.5 110.3,813.7 110.6,812.9 111.0,812.5 111.3,812.8 111.7,814.3 112.0,814.5 112.3,812.1 112.7,813.3 113.0,813.3 113.4,813.5 113.7,813.7 114.1,813.9 114.4,814.3 114.8,814.5 115.1,815.8 115.4,813.2 115.8,813.8 116.1,815.0 116.5,813.9 116.8,813.5 117.2,815.1 117.5,814.9 117.9,813.2 118.2,813.4 118.5,813.6 118.9,813.2 119.2,814.1 119.6,814.5 119.9,813.1 120.3,814.2 120.6,814.5 121.0,814.0 121.3,814.4 121.6,815.6 122.0,813.5 122.3,814.4 122.7,813.2 123.0,813.9 123.4,815.3 123.7,813.8 124.1,814.7 124.4,815.7 124.7,815.3 125.1,817.0 125.4,815.5 125.8,815.9 126.1,815.7 126.5,816.2 126.8,815.1 127.2,815.0 127.5,814.3 127.8,813.7 128.2,814.6 128.5,815.1 128.9,815.1 129.2,815.7 129.6,815.5 129.9,814.0 130.2,814.0 130.6,815.0 130.9,808.4 131.3,798.6 131.6,790.3 132.0,788.4 132.3,784.5 132.7,778.4 133.0,773.4 133.3,769.7 133.7,769.3 134.0,767.9 134.4,767.2 134.7,764.6 135.1,763.3 135.4,761.5 135.8,760.8 136.1,760.5 136.4,758.5 136.8,757.3 137.1,755.8 137.5,755.3 137.8,755.6 138.2,755.5 138.5,755.9 138.9,754.9 139.2,754.0 139.5,753.8 139.9,754.0 140.2,751.8 140.6,752.5 140.9,750.4 141.3,749.9 141.6,749.3 142.0,751.3 142.3,750.9 142.6,752.5 143.0,752.3 143.3,753.4 143.7,753.2 144.0,753.1 144.4,752.1 144.7,751.7 145.1,753.0 145.4,753.5 145.7,754.5 146.1,755.1 146.4,756.1 146.8,755.3 147.1,754.6 147.5,755.6 147.8,755.2 148.2,756.5 148.5,757.0 148.8,757.0 149.2,756.0 149.5,756.9 149.9,756.3 150.2,757.2 150.6,758.2 150.9,759.4 151.3,758.7 151.6,758.9 151.9,757.6 152.3,757.5 152.6,759.3 153.0,758.0 153.3,757.9 153.7,760.7 154.0,760.3 154.4,759.2 154.7,760.5 155.0,760.3 155.4,759.4 155.7,759.4 156.1,759.4 156.4,759.4 156.8,760.8 157.1,758.8 157.4,759.7 157.8,758.9 158.1,760.8 158.5,760.9 158.8,761.3 159.2,762.0 159.5,762.0 159.9,762.2 160.2,762.0 160.5,762.5 160.9,763.1 161.2,763.0 161.6,762.4 161.9,763.5 162.3,763.5 162.6,764.1 163.0,766.1 163.3,766.1 163.6,766.2 164.0,766.7 164.3,766.4 164.7,767.3 165.0,766.1 165.4,766.4 165.7,765.1 166.1,765.4 166.4,767.0 166.7,766.7 167.1,766.5 167.4,767.2 167.8,767.3 168.1,768.0 168.5,768.2 168.8,767.6 169.2,768.0 169.5,767.1 169.8,769.6 170.2,769.6 170.5,769.5 170.9,768.1 171.2,768.1 171.6,768.6 171.9,768.8 172.3,768.6 172.6,769.5 172.9,770.7 173.3,771.0 173.6,772.0 174.0,772.1 174.3,771.9 174.7,772.7 175.0,772.6 175.4,773.2 175.7,774.2 176.0,774.8 176.4,773.5 176.7,773.6 177.1,773.1 177.4,773.8 177.8,774.1 178.1,774.0 178.4,774.5 178.8,773.4 179.1,773.4 179.5,774.0 179.8,775.5 180.2,775.8 180.5,775.4 180.9,774.6 181.2,775.5 181.5,775.9 181.9,775.8 182.2,776.2 182.6,776.8 182.9,777.9 183.3,776.6 183.6,777.3 184.0,778.1 184.3,778.2 184.6,779.4 185.0,780.3 185.3,780.9 185.7,779.5 186.0,780.5 186.4,779.8 186.7,780.8 187.1,781.7 187.4,781.3 187.7,781.3 188.1,781.4 188.4,779.6 188.8,780.2 189.1,781.2 189.5,780.4 189.8,781.2 190.2,780.3 190.5,782.4 190.5,787.2 190.2,785.2 189.8,786.0 189.5,785.3 189.1,786.0 188.8,785.1 188.4,784.4 188.1,786.2 187.7,786.1 187.4,786.1 187.1,786.6 186.7,785.6 186.4,784.7 186.0,785.3 185.7,784.3 185.3,785.7 185.0,785.1 184.6,784.3 184.3,783.1 184.0,783.0 183.6,782.2 183.3,781.4 182.9,782.8 182.6,781.6 182.2,781.1 181.9,780.6 181.5,780.8 181.2,780.3 180.9,779.5 180.5,780.2 180.2,780.6 179.8,780.4 179.5,778.9 179.1,778.3 178.8,778.3 178.4,779.4 178.1,778.8 177.8,778.9 177.4,778.6 177.1,778.0 176.7,778.5 176.4,778.3 176.0,779.7 175.7,779.1 175.4,778.0 175.0,777.5 174.7,777.5 174.3,776.7 174.0,777.0 173.6,776.8 173.3,775.8 172.9,775.5 172.6,774.3 172.3,773.4 171.9,773.7 171.6,773.5 171.2,773.0 170.9,773.0 170.5,774.3 170.2,774.5 169.8,774.5 169.5,771.9 169.2,772.8 168.8,772.4 168.5,773.0 168.1,772.9 167.8,772.1 167.4,772.0 167.1,771.4 166.7,771.6 166.4,771.8 166.1,770.3 165.7,769.9 165.4,771.2 165.0,770.9 164.7,772.1 164.3,771.2 164.0,771.6 163.6,771.0 163.3,770.9 163.0,770.9 162.6,768.9 162.3,768.4 161.9,768.3 161.6,767.3 161.2,767.9 160.9,767.9 160.5,767.4 160.2,766.9 159.9,767.1 159.5,766.9 159.2,766.8 158.8,766.1 158.5,765.7 158.1,765.6 157.8,763.8 157.4,764.6 157.1,763.6 156.8,765.6 156.4,764.3 156.1,764.3 155.7,764.3 155.4,764.2 155.0,765.2 154.7,765.3 154.4,764.1 154.0,765.2 153.7,765.6 153.3,762.7 153.0,762.8 152.6,764.1 152.3,762.4 151.9,762.4 151.6,763.8 151.3,763.6 150.9,764.3 150.6,763.1 150.2,762.0 149.9,761.2 149.5,761.8 149.2,760.8 148.8,761.8 148.5,761.9 148.2,761.4 147.8,760.1 147.5,760.5 147.1,759.4 146.8,760.2 146.4,760.9 146.1,760.0 145.7,759.3 145.4,758.4 145.1,757.8 144.7,756.6 144.4,756.9 144.0,758.0 143.7,758.1 143.3,758.2 143.0,757.2 142.6,757.3 142.3,755.7 142.0,756.1 141.6,754.2 141.3,754.8 140.9,755.3 140.6,757.4 140.2,756.6 139.9,758.8 139.5,758.7 139.2,758.8 138.9,759.7 138.5,760.7 138.2,760.3 137.8,760.5 137.5,760.1 137.1,760.6 136.8,762.2 136.4,763.3 136.1,765.3 135.8,765.6 135.4,766.4 135.1,768.1 134.7,769.5 134.4,772.0 134.0,772.8 133.7,774.2 133.3,774.6 133.0,778.3 132.7,783.3 132.3,789.3 132.0,793.2 131.6,795.1 131.3,803.5 130.9,813.2 130.6,819.9 130.2,818.9 129.9,817.6 129.6,819.0 129.2,819.3 128.9,818.6 128.5,818.6 128.2,818.1 127.8,817.2 127.5,817.9 127.2,818.5 126.8,818.6 126.5,819.7 126.1,819.3 125.8,819.5 125.4,819.0 125.1,820.5 124.7,818.9 124.4,819.2 124.1,818.3 123.7,817.4 123.4,818.9 123.0,817.4 122.7,816.7 122.3,817.9 122.0,817.0 121.6,819.1 121.3,817.9 121.0,817.6 120.6,818.0 120.3,817.7 119.9,816.7 119.6,818.1 119.2,817.6 118.9,816.8 118.5,817.1 118.2,816.9 117.9,816.7 117.5,818.4 117.2,818.6 116.8,817.0 116.5,817.5 116.1,818.5 115.8,817.3 115.4,816.7 115.1,819.3 114.8,818.0 114.4,817.9 114.1,817.5 113.7,817.3 113.4,817.0 113.0,816.9 112.7,816.8 112.3,815.6 112.0,818.1 111.7,817.8 111.3,816.4 111.0,816.1 110.6,816.4 110.3,817.2 109.9,817.0 109.6,818.2 109.2,817.8 108.9,816.7 108.6,817.9 108.2,817.5 107.9,818.8 107.5,818.1 107.2,816.7 106.8,814.7 106.5,815.5 106.2,815.1 105.8,816.8 105.5,816.0 105.1,816.6 104.8,815.9 104.4,815.3 104.1,815.4 103.7,814.9 103.4,815.5 103.1,815.3 102.7,813.9 102.4,815.5 102.0,813.8 101.7,814.0 101.3,814.7 101.0,814.5 100.6,816.1 100.3,813.1 100.0,814.5 99.6,815.4 99.3,814.5 98.9,814.1 98.6,814.0 98.2,814.9 97.9,814.9 97.5,814.1 97.2,814.4 96.9,813.8 96.5,813.8 96.2,814.0 95.8,813.2 95.5,814.0 95.1,813.7 94.8,814.5 94.4,813.6 94.1,812.9 93.8,812.9 93.4,812.5 93.1,811.6 92.7,811.3 92.4,812.0 92.0,811.4 91.7,811.6 91.3,812.0 91.0,811.7 90.7,812.3 90.3,812.6 90.0,812.5 89.6,811.8 89.3,810.6 88.9,810.0 88.6,811.0 88.2,810.9 87.9,809.1 87.6,809.7 87.2,809.1 86.9,810.3 86.5,809.7 86.2,809.4 85.8,809.8 85.5,809.0 85.1,810.1 84.8,807.4 84.5,806.5 84.1,806.5 83.8,807.8 83.4,806.1 83.1,805.5 82.7,805.4 82.4,806.3 82.0,805.5 81.7,805.1 81.4,804.2 81.0,801.6 80.7,803.4 80.3,802.8 80.0,801.2 79.6,799.9 79.3,800.1 79.0,799.1 78.6,796.5 78.3,795.3 77.9,795.2 77.6,794.3 77.2,793.0 76.9,790.7 76.5,787.2 76.2,783.9 75.9,780.1 75.5,779.8 75.2,776.3 74.8,772.3 74.5,767.6 74.1,768.9 73.8,772.1 73.4,774.2 73.1,773.8 72.8,776.6 72.4,781.5 72.1,787.4 71.7,790.2 71.4,795.1 71.0,797.3 70.7,796.1 70.3,797.7 70.0,800.2 69.7,798.7 69.3,799.1 69.0,799.4 68.6,798.3 68.3,798.6 67.9,798.8 67.6,799.8 67.2,798.8 66.9,798.5 66.6,797.9 66.2,798.0 65.9,797.8 65.5,798.0 65.2,798.3 64.8,798.1 64.5,798.3 64.1,798.0 63.8,798.3 63.5,798.9 63.1,798.7 62.8,797.9 62.4,798.3 62.1,797.8 61.7,798.3 61.4,798.4 61.0,798.5 60.7,797.8 60.4,798.1 60.0,798.9 59.7,799.1 59.3,798.3 59.0,797.9 58.6,799.0 58.3,797.9 58.0,798.1 57.6,798.3 57.3,798.1 56.9,798.8 56.6,798.7 56.2,798.8 55.9,798.4 55.5,798.7 55.2,797.3 54.9,798.3 54.5,798.3 54.2,797.6 53.8,798.8 53.5,798.0 53.1,798.8 52.8,797.5 52.4,797.2 52.1,797.5 51.8,798.0 51.4,797.9 51.1,798.5 50.7,797.6 50.4,797.7 50.0,798.3 49.7,798.3 49.3,798.5 49.0,798.3 48.7,797.9 48.3,797.7 48.0,797.7 47.6,797.8 47.3,798.2 46.9,798.9 46.6,798.1 46.2,797.3 45.9,798.0" stroke="none" stroke-width="1" fill="#9a5a5a" fill-opacity="0.55"/>
<polyline points="45.9,797.2 46.2,796.5 46.6,797.3 46.9,798.1 47.3,797.4 47.6,797.0 48.0,796.9 48.3,796.9 48.7,797.1 49.0,797.5 49.3,797.7 49.7,797.5 50.0,797.5 50.4,796.9 50.7,796.8 51.1,797.7 51.4,797.1 51.8,797.2 52.1,796.7 52.4,796.3 52.8,796.7 53.1,797.9 53.5,797.2 53.8,798.0 54.2,796.8 54.5,797.5 54.9,797.5 55.2,796.5 55.5,797.9 55.9,797.6 56.2,798.0 56.6,797.9 56.9,798.0 57.3,797.3 57.6,797.5 58.0,797.3 58.3,797.1 58.6,798.2 59.0,797.1 59.3,797.5 59.7,798.3 60.0,798.1 60.4,797.3 60.7,797.0 61.0,797.7 61.4,797.6 61.7,797.5 62.1,797.0 62.4,797.5 62.8,797.1 63.1,797.9 63.5,798.1 63.8,797.5 64.1,797.2 64.5,797.5 64.8,797.3 65.2,797.5 65.5,797.2 65.9,797.0 66.2,797.2 66.6,797.1 66.9,797.7 67.2,798.0 67.6,799.0 67.9,798.0 68.3,797.8 68.6,797.5 69.0,798.6 69.3,798.3 69.7,797.9 70.0,798.5 70.3,795.9 70.7,794.3 71.0,795.5 71.4,793.3 71.7,788.4 72.1,785.6 72.4,779.7 72.8,774.9 73.1,772.1 73.4,772.5 73.8,770.3 74.1,767.1 74.5,765.8 74.8,770.5 75.2,774.5 75.5,778.0 75.9,778.3 76.2,782.1 76.5,785.4 76.9,788.9 77.2,791.2 77.6,792.6 77.9,793.4 78.3,793.5 78.6,794.8 79.0,797.3 79.3,798.3 79.6,798.2 80.0,799.5 80.3,801.0 80.7,801.6 81.0,799.9 81.4,802.5 81.7,803.3 82.0,803.7 82.4,804.5 82.7,803.7 83.1,803.8 83.4,804.3 83.8,806.1 84.1,804.7 84.5,804.8 84.8,805.7 85.1,808.3 85.5,807.2 85.8,808.0 86.2,807.6 86.5,807.9 86.9,808.5 87.2,807.4 87.6,807.9 87.9,807.3 88.2,809.1 88.6,809.3 88.9,808.2 89.3,808.8 89.6,810.0 90.0,810.7 90.3,810.8 90.7,810.5 91.0,809.9 91.3,810.2 91.7,809.8 92.0,809.6 92.4,810.2 92.7,809.5 93.1,809.8 93.4,810.7 93.8,811.1 94.1,811.2 94.4,811.9 94.8,812.7 95.1,811.9 95.5,812.2 95.8,811.5 96.2,812.3 96.5,812.1 96.9,812.0 97.2,812.6 97.5,812.3 97.9,813.1 98.2,813.2 98.6,812.2 98.9,812.3 99.3,812.7 99.6,813.6 100.0,812.7 100.3,811.3 100.6,814.4 101.0,812.8 101.3,812.9 101.7,812.3 102.0,812.0 102.4,813.8 102.7,812.1 103.1,813.5 103.4,813.8 103.7,813.2 104.1,813.6 104.4,813.5 104.8,814.1 105.1,814.8 105.5,814.3 105.8,815.0 106.2,813.3 106.5,813.7 106.8,812.9 107.2,814.9 107.5,816.3 107.9,817.0 108.2,815.8 108.6,816.1 108.9,814.9 109.2,816.1 109.6,816.4 109.9,815.2 110.3,815.4 110.6,814.6 111.0,814.3 111.3,814.6 111.7,816.0 112.0,816.3 112.3,813.8 112.7,815.1 113.0,815.1 113.4,815.3 113.7,815.5 114.1,815.7 114.4,816.1 114.8,816.2 115.1,817.5 115.4,815.0 115.8,815.5 116.1,816.8 116.5,815.7 116.8,815.2 117.2,816.8 117.5,816.7 117.9,814.9 118.2,815.2 118.5,815.4 118.9,815.0 119.2,815.8 119.6,816.3 119.9,814.9 120.3,815.9 120.6,816.2 121.0,815.8 121.3,816.2 121.6,817.4 122.0,815.2 122.3,816.2 122.7,815.0 123.0,815.6 123.4,817.1 123.7,815.6 124.1,816.5 124.4,817.4 124.7,817.1 125.1,818.8 125.4,817.3 125.8,817.7 126.1,817.5 126.5,818.0 126.8,816.8 127.2,816.7 127.5,816.1 127.8,815.4 128.2,816.4 128.5,816.9 128.9,816.8 129.2,817.5 129.6,817.2 129.9,815.8 130.2,816.4 130.6,817.4 130.9,810.8 131.3,801.0 131.6,792.7 132.0,790.8 132.3,786.9 132.7,780.8 133.0,775.9 133.3,772.1 133.7,771.8 134.0,770.3 134.4,769.6 134.7,767.0 135.1,765.7 135.4,763.9 135.8,763.2 136.1,762.9 136.4,760.9 136.8,759.8 137.1,758.2 137.5,757.7 137.8,758.1 138.2,757.9 138.5,758.3 138.9,757.3 139.2,756.4 139.5,756.2 139.9,756.4 140.2,754.2 140.6,754.9 140.9,752.9 141.3,752.3 141.6,751.8 142.0,753.7 142.3,753.3 142.6,754.9 143.0,754.8 143.3,755.8 143.7,755.6 144.0,755.5 144.4,754.5 144.7,754.2 145.1,755.4 145.4,756.0 145.7,756.9 146.1,757.6 146.4,758.5 146.8,757.7 147.1,757.0 147.5,758.0 147.8,757.7 148.2,759.0 148.5,759.5 148.8,759.4 149.2,758.4 149.5,759.4 149.9,758.8 150.2,759.6 150.6,760.7 150.9,761.9 151.3,761.1 151.6,761.4 151.9,760.0 152.3,760.0 152.6,761.7 153.0,760.4 153.3,760.3 153.7,763.1 154.0,762.7 154.4,761.7 154.7,762.9 155.0,762.8 155.4,761.8 155.7,761.8 156.1,761.8 156.4,761.8 156.8,763.2 157.1,761.2 157.4,762.2 157.8,761.3 158.1,763.2 158.5,763.3 158.8,763.7 159.2,764.4 159.5,764.4 159.9,764.7 160.2,764.4 160.5,764.9 160.9,765.5 161.2,765.5 161.6,764.8 161.9,765.9 162.3,765.9 162.6,766.5 163.0,768.5 163.3,768.5 163.6,768.6 164.0,769.1 164.3,768.8 164.7,769.7 165.0,768.5 165.4,768.8 165.7,767.5 166.1,767.8 166.4,769.4 166.7,769.2 167.1,769.0 167.4,769.6 167.8,769.7 168.1,770.5 168.5,770.6 168.8,770.0 169.2,770.4 169.5,769.5 169.8,772.1 170.2,772.1 170.5,771.9 170.9,770.6 171.2,770.6 171.6,771.1 171.9,771.3 172.3,771.0 172.6,771.9 172.9,773.1 173.3,773.4 173.6,774.4 174.0,774.6 174.3,774.3 174.7,775.1 175.0,775.0 175.4,775.6 175.7,776.7 176.0,777.3 176.4,775.9 176.7,776.0 177.1,775.6 177.4,776.2 177.8,776.5 178.1,776.4 178.4,776.9 178.8,775.8 179.1,775.9 179.5,776.5 179.8,778.0 180.2,778.2 180.5,777.8 180.9,777.1 181.2,777.9 181.5,778.3 181.9,778.2 182.2,778.7 182.6,779.2 182.9,780.3 183.3,779.0 183.6,779.7 184.0,780.6 184.3,780.7 184.6,781.9 185.0,782.7 185.3,783.3 185.7,781.9 186.0,782.9 186.4,782.3 186.7,783.2 187.1,784.2 187.4,783.7 187.7,783.7 188.1,783.8 188.4,782.0 188.8,782.7 189.1,783.6 189.5,782.8 189.8,783.6 190.2,782.8 190.5,784.8" stroke="#4a0a0a" stroke-width="1.15" fill="none" stroke-linejoin="round"/>
<line x1="70.50" y1="732.64" x2="70.50" y2="846.00" stroke="#222" stroke-width="1"/>
<line x1="130.50" y1="732.64" x2="130.50" y2="846.00" stroke="#333" stroke-width="1"/>
<line x1="45.50" y1="732.64" x2="45.50" y2="846.50" stroke="#222" stroke-width="1"/>
<line x1="45.50" y1="846.00" x2="190.50" y2="846.00" stroke="#222" stroke-width="1"/>
<line x1="42.50" y1="732.64" x2="45.50" y2="732.64" stroke="#222" stroke-width="1"/>
<text x="42.00" y="735.94" font-size="10.9" text-anchor="end" fill="#111">8</text>
<line x1="42.50" y1="748.78" x2="45.50" y2="748.78" stroke="#222" stroke-width="1"/>
<text x="42.00" y="752.08" font-size="10.9" text-anchor="end" fill="#111">6</text>
<line x1="42.50" y1="764.92" x2="45.50" y2="764.92" stroke="#222" stroke-width="1"/>
<text x="42.00" y="768.22" font-size="10.9" text-anchor="end" fill="#111">4</text>
<line x1="42.50" y1="781.06" x2="45.50" y2="781.06" stroke="#222" stroke-width="1"/>
<text x="42.00" y="784.36" font-size="10.9" text-anchor="end" fill="#111">2</text>
<line x1="42.50" y1="797.20" x2="45.50" y2="797.20" stroke="#222" stroke-width="1"/>
<text x="42.00" y="800.50" font-size="10.9" text-anchor="end" fill="#111">0</text>
<line x1="42.50" y1="813.34" x2="45.50" y2="813.34" stroke="#222" stroke-width="1"/>
<text x="42.00" y="816.64" font-size="10.9" text-anchor="end" fill="#111">-2</text>
<line x1="42.50" y1="829.48" x2="45.50" y2="829.48" stroke="#222" stroke-width="1"/>
<text x="42.00" y="832.78" font-size="10.9" text-anchor="end" fill="#111">-4</text>
<line x1="42.50" y1="845.62" x2="45.50" y2="845.62" stroke="#222" stroke-width="1"/>
<text x="42.00" y="848.92" font-size="10.9" text-anchor="end" fill="#111">-6</text>
<line x1="45.90" y1="846.00" x2="45.90" y2="849.00" stroke="#333" stroke-width="1"/>
<text x="45.90" y="859.40" font-size="10.9" text-anchor="middle" fill="#111">-2</text>
<line x1="70.00" y1="846.00" x2="70.00" y2="849.00" stroke="#333" stroke-width="1"/>
<text x="70.00" y="859.40" font-size="10.9" text-anchor="middle" fill="#111">0</text>
<line x1="94.10" y1="846.00" x2="94.10" y2="849.00" stroke="#333" stroke-width="1"/>
<text x="94.10" y="859.40" font-size="10.9" text-anchor="middle" fill="#111">2</text>
<line x1="118.20" y1="846.00" x2="118.20" y2="849.00" stroke="#333" stroke-width="1"/>
<text x="118.20" y="859.40" font-size="10.9" text-anchor="middle" fill="#111">4</text>
<line x1="142.30" y1="846.00" x2="142.30" y2="849.00" stroke="#333" stroke-width="1"/>
<text x="142.30" y="859.40" font-size="10.9" text-anchor="middle" fill="#111">6</text>
<line x1="166.40" y1="846.00" x2="166.40" y2="849.00" stroke="#333" stroke-width="1"/>
<text x="166.40" y="859.40" font-size="10.9" text-anchor="middle" fill="#111">8</text>
<text x="28.60" y="789.32" font-size="11.3" text-anchor="middle" fill="#111" transform="rotate(-90 28.60 789.32)">z-score</text>
<text x="117.30" y="870.00" font-size="11.6" text-anchor="middle" fill="#111">time from stimulation onset (s)</text>
<rect x="318.50" y="366.00" width="23.90" height="110.80" fill="#e3e3e3"/>
<rect x="342.40" y="366.00" width="60.50" height="110.80" fill="#b9e7ec"/>
<rect x="402.90" y="366.00" width="61.30" height="110.80" fill="url(#fade)"/>
<polygon points="318.2,435.1 318.5,435.0 318.9,436.4 319.2,437.3 319.6,436.4 319.9,435.6 320.3,435.8 320.6,436.8 321.0,436.5 321.3,435.2 321.7,436.5 322.0,435.4 322.3,435.4 322.7,435.4 323.0,435.2 323.4,436.0 323.7,436.0 324.1,434.8 324.4,435.7 324.8,436.1 325.1,436.8 325.5,436.5 325.8,435.6 326.2,435.0 326.5,435.1 326.8,435.2 327.2,435.3 327.5,435.4 327.9,435.1 328.2,435.7 328.6,435.1 328.9,435.6 329.3,436.8 329.6,437.0 330.0,436.4 330.3,436.3 330.6,436.8 331.0,436.6 331.3,436.0 331.7,435.6 332.0,435.2 332.4,436.2 332.7,435.7 333.1,435.2 333.4,435.4 333.8,434.6 334.1,435.7 334.4,435.8 334.8,435.7 335.1,436.1 335.5,435.9 335.8,435.7 336.2,435.8 336.5,436.2 336.9,436.2 337.2,436.0 337.6,436.9 337.9,436.1 338.3,436.6 338.6,436.3 338.9,436.7 339.3,436.1 339.6,436.2 340.0,436.1 340.3,436.4 340.7,436.0 341.0,434.9 341.4,436.6 341.7,435.8 342.1,435.2 342.4,433.1 342.7,432.9 343.1,429.0 343.4,428.6 343.8,426.8 344.1,425.5 344.5,423.1 344.8,418.0 345.2,414.4 345.5,412.7 345.9,411.4 346.2,409.7 346.5,409.6 346.9,408.8 347.2,407.3 347.6,406.8 347.9,407.7 348.3,409.3 348.6,409.0 349.0,411.4 349.3,413.7 349.7,412.6 350.0,416.1 350.4,416.6 350.7,416.8 351.0,417.6 351.4,418.1 351.7,418.2 352.1,418.8 352.4,420.6 352.8,421.0 353.1,420.1 353.5,420.8 353.8,422.5 354.2,422.8 354.5,424.2 354.8,424.9 355.2,424.4 355.5,422.1 355.9,423.6 356.2,425.5 356.6,424.4 356.9,424.6 357.3,423.2 357.6,422.3 358.0,423.6 358.3,423.7 358.6,424.8 359.0,423.1 359.3,424.5 359.7,424.3 360.0,421.8 360.4,424.4 360.7,424.2 361.1,424.4 361.4,423.9 361.8,423.8 362.1,422.8 362.5,423.4 362.8,423.6 363.1,425.6 363.5,424.7 363.8,426.2 364.2,424.2 364.5,424.8 364.9,424.1 365.2,425.4 365.6,425.2 365.9,425.3 366.3,424.9 366.6,425.6 366.9,426.3 367.3,426.5 367.6,426.9 368.0,427.3 368.3,427.9 368.7,428.4 369.0,425.1 369.4,426.8 369.7,427.8 370.1,426.0 370.4,426.1 370.7,426.6 371.1,425.5 371.4,424.4 371.8,426.7 372.1,425.2 372.5,425.5 372.8,425.0 373.2,426.6 373.5,424.8 373.9,424.7 374.2,428.5 374.6,425.9 374.9,424.8 375.2,427.3 375.6,426.3 375.9,426.5 376.3,426.1 376.6,427.1 377.0,425.9 377.3,425.4 377.7,426.0 378.0,426.2 378.4,428.0 378.7,426.2 379.0,427.5 379.4,426.6 379.7,427.1 380.1,423.8 380.4,425.4 380.8,424.3 381.1,425.6 381.5,426.0 381.8,425.4 382.2,425.9 382.5,423.7 382.8,425.5 383.2,424.3 383.5,426.7 383.9,427.3 384.2,425.9 384.6,427.5 384.9,424.6 385.3,425.1 385.6,425.7 386.0,424.2 386.3,426.0 386.7,426.9 387.0,429.1 387.3,429.2 387.7,427.5 388.0,428.8 388.4,426.3 388.7,425.2 389.1,425.4 389.4,427.6 389.8,427.5 390.1,428.1 390.5,426.1 390.8,425.1 391.1,426.0 391.5,426.1 391.8,425.9 392.2,425.3 392.5,426.8 392.9,427.4 393.2,425.8 393.6,425.5 393.9,425.4 394.3,425.9 394.6,425.3 394.9,425.4 395.3,426.5 395.6,424.5 396.0,424.5 396.3,425.8 396.7,426.2 397.0,426.9 397.4,427.9 397.7,427.9 398.1,428.3 398.4,427.7 398.8,426.5 399.1,426.5 399.4,427.9 399.8,427.2 400.1,427.4 400.5,428.1 400.8,426.0 401.2,427.6 401.5,426.2 401.9,428.4 402.2,427.2 402.6,427.9 402.9,426.4 403.2,426.6 403.6,427.9 403.9,427.0 404.3,426.0 404.6,425.7 405.0,425.5 405.3,427.3 405.7,425.4 406.0,427.7 406.4,428.0 406.7,429.7 407.0,428.9 407.4,430.0 407.7,428.7 408.1,430.3 408.4,427.1 408.8,427.1 409.1,426.3 409.5,426.5 409.8,427.6 410.2,427.7 410.5,428.0 410.9,430.2 411.2,430.3 411.5,429.5 411.9,427.8 412.2,429.7 412.6,428.7 412.9,429.1 413.3,427.9 413.6,427.5 414.0,429.2 414.3,429.9 414.7,427.4 415.0,427.0 415.3,428.0 415.7,427.4 416.0,428.0 416.4,427.8 416.7,428.6 417.1,427.9 417.4,426.5 417.8,426.3 418.1,426.4 418.5,427.6 418.8,427.2 419.1,428.5 419.5,428.9 419.8,428.6 420.2,429.8 420.5,428.8 420.9,430.5 421.2,427.7 421.6,427.5 421.9,428.0 422.3,429.3 422.6,429.6 423.0,429.6 423.3,430.9 423.6,430.1 424.0,430.4 424.3,428.6 424.7,427.5 425.0,427.1 425.4,429.9 425.7,430.9 426.1,428.3 426.4,428.2 426.8,427.8 427.1,428.2 427.4,428.8 427.8,427.0 428.1,427.7 428.5,428.2 428.8,430.2 429.2,429.7 429.5,428.3 429.9,428.7 430.2,428.5 430.6,429.6 430.9,429.0 431.2,430.2 431.6,430.3 431.9,429.0 432.3,427.9 432.6,429.7 433.0,430.2 433.3,430.4 433.7,430.5 434.0,430.3 434.4,429.4 434.7,429.6 435.1,430.1 435.4,429.8 435.7,432.1 436.1,431.2 436.4,428.7 436.8,430.9 437.1,431.3 437.5,430.5 437.8,429.5 438.2,430.5 438.5,431.7 438.9,429.4 439.2,432.7 439.5,432.3 439.9,432.0 440.2,433.6 440.6,430.3 440.9,428.5 441.3,431.5 441.6,431.5 442.0,431.3 442.3,430.2 442.7,430.8 443.0,430.2 443.3,430.1 443.7,430.7 444.0,430.8 444.4,429.4 444.7,430.2 445.1,430.0 445.4,430.6 445.8,430.1 446.1,428.9 446.5,430.2 446.8,431.2 447.2,431.9 447.5,430.3 447.8,431.6 448.2,430.8 448.5,428.3 448.9,429.9 449.2,428.8 449.6,430.3 449.9,431.0 450.3,430.5 450.6,431.9 451.0,434.0 451.3,432.3 451.6,432.4 452.0,431.5 452.3,429.3 452.7,430.0 453.0,432.5 453.4,431.3 453.7,433.3 454.1,434.4 454.4,430.2 454.8,432.0 455.1,434.0 455.4,432.5 455.8,432.1 456.1,431.2 456.5,431.6 456.8,431.8 457.2,430.8 457.5,431.5 457.9,432.4 458.2,431.5 458.6,432.2 458.9,430.7 459.3,431.3 459.6,431.8 459.9,432.2 460.3,431.3 460.6,430.5 461.0,431.6 461.3,434.1 461.7,431.7 462.0,432.6 462.4,431.4 462.7,432.4 463.1,431.7 463.4,432.1 463.4,436.3 463.1,435.9 462.7,436.6 462.4,435.6 462.0,436.8 461.7,436.0 461.3,438.3 461.0,435.8 460.6,434.7 460.3,435.5 459.9,436.4 459.6,436.0 459.3,435.5 458.9,434.9 458.6,436.4 458.2,435.7 457.9,436.6 457.5,435.7 457.2,435.0 456.8,436.0 456.5,435.9 456.1,435.5 455.8,436.3 455.4,436.7 455.1,438.2 454.8,436.2 454.4,434.4 454.1,438.6 453.7,437.5 453.4,435.6 453.0,436.7 452.7,434.2 452.3,433.5 452.0,435.7 451.6,436.6 451.3,436.5 451.0,438.3 450.6,436.1 450.3,434.7 449.9,435.2 449.6,434.5 449.2,433.0 448.9,434.1 448.5,432.5 448.2,435.0 447.8,435.8 447.5,434.5 447.2,436.1 446.8,435.4 446.5,434.4 446.1,433.2 445.8,434.3 445.4,434.8 445.1,434.2 444.7,434.4 444.4,433.6 444.0,435.0 443.7,434.9 443.3,434.3 443.0,434.4 442.7,435.0 442.3,434.4 442.0,435.5 441.6,435.7 441.3,435.8 440.9,432.7 440.6,434.5 440.2,437.8 439.9,436.3 439.5,436.5 439.2,436.9 438.9,433.6 438.5,435.9 438.2,434.7 437.8,433.7 437.5,434.8 437.1,435.5 436.8,435.2 436.4,432.9 436.1,435.4 435.7,436.3 435.4,434.0 435.1,434.3 434.7,433.8 434.4,433.6 434.0,434.5 433.7,434.7 433.3,434.7 433.0,434.4 432.6,433.9 432.3,432.1 431.9,433.2 431.6,434.5 431.2,434.4 430.9,433.3 430.6,433.8 430.2,432.7 429.9,432.9 429.5,432.5 429.2,433.9 428.8,434.4 428.5,432.4 428.1,432.0 427.8,431.2 427.4,433.0 427.1,432.4 426.8,432.0 426.4,432.4 426.1,432.6 425.7,435.1 425.4,434.1 425.0,431.3 424.7,431.8 424.3,432.8 424.0,434.6 423.6,434.3 423.3,435.1 423.0,433.8 422.6,433.9 422.3,433.5 421.9,432.2 421.6,431.7 421.2,431.9 420.9,434.8 420.5,433.1 420.2,434.0 419.8,432.8 419.5,433.1 419.1,432.7 418.8,431.4 418.5,431.8 418.1,430.6 417.8,430.5 417.4,430.7 417.1,432.2 416.7,432.8 416.4,432.0 416.0,432.2 415.7,431.6 415.3,432.2 415.0,431.2 414.7,431.6 414.3,434.1 414.0,433.4 413.6,431.7 413.3,432.1 412.9,433.3 412.6,432.9 412.2,433.9 411.9,432.1 411.5,433.7 411.2,434.5 410.9,434.4 410.5,432.2 410.2,431.9 409.8,431.8 409.5,430.7 409.1,430.5 408.8,431.3 408.4,431.3 408.1,434.5 407.7,433.0 407.4,434.2 407.0,433.1 406.7,433.9 406.4,432.3 406.0,431.9 405.7,429.7 405.3,431.6 405.0,429.7 404.6,429.9 404.3,430.2 403.9,431.2 403.6,432.1 403.2,430.8 402.9,430.7 402.6,432.1 402.2,431.4 401.9,432.6 401.5,430.4 401.2,431.8 400.8,430.2 400.5,432.3 400.1,431.7 399.8,431.4 399.4,432.1 399.1,430.7 398.8,430.7 398.4,431.9 398.1,432.5 397.7,432.1 397.4,432.1 397.0,431.1 396.7,430.4 396.3,430.0 396.0,428.7 395.6,428.7 395.3,430.7 394.9,429.6 394.6,429.5 394.3,430.1 393.9,429.7 393.6,429.7 393.2,430.0 392.9,431.6 392.5,431.0 392.2,429.5 391.8,430.1 391.5,430.3 391.1,430.2 390.8,429.3 390.5,430.3 390.1,432.3 389.8,431.8 389.4,431.8 389.1,429.6 388.7,429.4 388.4,430.5 388.0,433.0 387.7,431.8 387.3,433.4 387.0,433.3 386.7,431.1 386.3,430.2 386.0,428.4 385.6,429.9 385.3,429.3 384.9,428.8 384.6,431.7 384.2,430.1 383.9,431.5 383.5,430.9 383.2,428.5 382.8,429.7 382.5,427.9 382.2,430.1 381.8,429.6 381.5,430.2 381.1,429.8 380.8,428.5 380.4,429.6 380.1,428.1 379.7,431.4 379.4,430.8 379.0,431.7 378.7,430.4 378.4,432.2 378.0,430.4 377.7,430.2 377.3,429.6 377.0,430.1 376.6,431.3 376.3,430.4 375.9,430.7 375.6,430.5 375.2,431.5 374.9,429.1 374.6,430.1 374.2,432.7 373.9,428.9 373.5,429.0 373.2,430.8 372.8,429.2 372.5,429.7 372.1,429.4 371.8,430.9 371.4,428.6 371.1,429.7 370.7,430.8 370.4,430.3 370.1,430.2 369.7,432.0 369.4,431.0 369.0,429.4 368.7,432.6 368.3,432.1 368.0,431.5 367.6,431.1 367.3,430.7 366.9,430.6 366.6,429.8 366.3,429.2 365.9,429.5 365.6,429.4 365.2,429.6 364.9,428.3 364.5,429.0 364.2,428.4 363.8,430.4 363.5,428.9 363.1,429.8 362.8,427.8 362.5,427.7 362.1,427.0 361.8,428.0 361.4,428.1 361.1,428.6 360.7,428.4 360.4,428.6 360.0,426.0 359.7,428.5 359.3,428.7 359.0,427.3 358.6,429.0 358.3,427.9 358.0,427.9 357.6,426.5 357.3,427.4 356.9,428.8 356.6,428.6 356.2,429.7 355.9,427.8 355.5,426.3 355.2,428.6 354.8,429.1 354.5,428.4 354.2,427.1 353.8,426.7 353.5,425.0 353.1,424.3 352.8,425.2 352.4,424.8 352.1,423.0 351.7,422.4 351.4,422.3 351.0,421.8 350.7,421.0 350.4,420.8 350.0,420.3 349.7,416.9 349.3,417.9 349.0,415.6 348.6,413.2 348.3,413.5 347.9,411.9 347.6,411.0 347.2,411.5 346.9,413.0 346.5,413.8 346.2,413.9 345.9,415.6 345.5,416.9 345.2,418.6 344.8,422.2 344.5,427.3 344.1,429.7 343.8,431.0 343.4,432.8 343.1,433.2 342.7,437.1 342.4,437.4 342.1,436.6 341.7,437.2 341.4,438.0 341.0,436.3 340.7,437.4 340.3,437.8 340.0,437.5 339.6,437.6 339.3,437.5 338.9,438.1 338.6,437.7 338.3,438.0 337.9,437.5 337.6,438.3 337.2,437.4 336.9,437.6 336.5,437.6 336.2,437.2 335.8,437.1 335.5,437.4 335.1,437.5 334.8,437.1 334.4,437.2 334.1,437.1 333.8,436.0 333.4,436.8 333.1,436.6 332.7,437.1 332.4,437.6 332.0,436.6 331.7,437.1 331.3,437.4 331.0,438.1 330.6,438.2 330.3,437.7 330.0,437.8 329.6,438.4 329.3,438.2 328.9,437.0 328.6,436.5 328.2,437.1 327.9,436.5 327.5,436.8 327.2,436.7 326.8,436.6 326.5,436.5 326.2,436.4 325.8,437.0 325.5,437.9 325.1,438.2 324.8,437.5 324.4,437.1 324.1,436.2 323.7,437.4 323.4,437.4 323.0,436.6 322.7,436.8 322.3,436.8 322.0,436.8 321.7,437.9 321.3,436.6 321.0,437.9 320.6,438.2 320.3,437.2 319.9,437.0 319.6,437.8 319.2,438.7 318.9,437.8 318.5,436.4 318.2,436.5" stroke="none" stroke-width="1" fill="#5cc0da" fill-opacity="0.55"/>
<polyline points="318.2,435.8 318.5,435.7 318.9,437.1 319.2,438.0 319.6,437.1 319.9,436.3 320.3,436.5 320.6,437.5 321.0,437.2 321.3,435.9 321.7,437.2 322.0,436.1 322.3,436.1 322.7,436.1 323.0,435.9 323.4,436.7 323.7,436.7 324.1,435.5 324.4,436.4 324.8,436.8 325.1,437.5 325.5,437.2 325.8,436.3 326.2,435.7 326.5,435.8 326.8,435.9 327.2,436.0 327.5,436.1 327.9,435.8 328.2,436.4 328.6,435.8 328.9,436.3 329.3,437.5 329.6,437.7 330.0,437.1 330.3,437.0 330.6,437.5 331.0,437.3 331.3,436.7 331.7,436.4 332.0,435.9 332.4,436.9 332.7,436.4 333.1,435.9 333.4,436.1 333.8,435.3 334.1,436.4 334.4,436.5 334.8,436.4 335.1,436.8 335.5,436.7 335.8,436.4 336.2,436.5 336.5,436.9 336.9,436.9 337.2,436.7 337.6,437.6 337.9,436.8 338.3,437.3 338.6,437.0 338.9,437.4 339.3,436.8 339.6,436.9 340.0,436.8 340.3,437.1 340.7,436.7 341.0,435.6 341.4,437.3 341.7,436.5 342.1,435.9 342.4,435.3 342.7,435.0 343.1,431.1 343.4,430.7 343.8,428.9 344.1,427.6 344.5,425.2 344.8,420.1 345.2,416.5 345.5,414.8 345.9,413.5 346.2,411.8 346.5,411.7 346.9,410.9 347.2,409.4 347.6,408.9 347.9,409.8 348.3,411.4 348.6,411.1 349.0,413.5 349.3,415.8 349.7,414.8 350.0,418.2 350.4,418.7 350.7,418.9 351.0,419.7 351.4,420.2 351.7,420.3 352.1,420.9 352.4,422.7 352.8,423.1 353.1,422.2 353.5,422.9 353.8,424.6 354.2,424.9 354.5,426.3 354.8,427.0 355.2,426.5 355.5,424.2 355.9,425.7 356.2,427.6 356.6,426.5 356.9,426.7 357.3,425.3 357.6,424.4 358.0,425.7 358.3,425.8 358.6,426.9 359.0,425.2 359.3,426.6 359.7,426.4 360.0,423.9 360.4,426.5 360.7,426.3 361.1,426.5 361.4,426.0 361.8,425.9 362.1,424.9 362.5,425.6 362.8,425.7 363.1,427.7 363.5,426.8 363.8,428.3 364.2,426.3 364.5,426.9 364.9,426.2 365.2,427.5 365.6,427.3 365.9,427.4 366.3,427.0 366.6,427.7 366.9,428.4 367.3,428.6 367.6,429.0 368.0,429.4 368.3,430.0 368.7,430.5 369.0,427.3 369.4,428.9 369.7,429.9 370.1,428.1 370.4,428.2 370.7,428.7 371.1,427.6 371.4,426.5 371.8,428.8 372.1,427.3 372.5,427.6 372.8,427.1 373.2,428.7 373.5,426.9 373.9,426.8 374.2,430.6 374.6,428.0 374.9,426.9 375.2,429.4 375.6,428.4 375.9,428.6 376.3,428.2 376.6,429.2 377.0,428.0 377.3,427.5 377.7,428.1 378.0,428.3 378.4,430.1 378.7,428.3 379.0,429.6 379.4,428.7 379.7,429.3 380.1,425.9 380.4,427.5 380.8,426.4 381.1,427.7 381.5,428.1 381.8,427.5 382.2,428.0 382.5,425.8 382.8,427.6 383.2,426.4 383.5,428.8 383.9,429.4 384.2,428.0 384.6,429.6 384.9,426.7 385.3,427.2 385.6,427.8 386.0,426.3 386.3,428.1 386.7,429.0 387.0,431.2 387.3,431.3 387.7,429.6 388.0,430.9 388.4,428.4 388.7,427.3 389.1,427.5 389.4,429.7 389.8,429.7 390.1,430.2 390.5,428.2 390.8,427.2 391.1,428.1 391.5,428.2 391.8,428.0 392.2,427.4 392.5,428.9 392.9,429.5 393.2,427.9 393.6,427.6 393.9,427.5 394.3,428.0 394.6,427.4 394.9,427.5 395.3,428.6 395.6,426.6 396.0,426.6 396.3,427.9 396.7,428.3 397.0,429.0 397.4,430.0 397.7,430.0 398.1,430.4 398.4,429.8 398.8,428.6 399.1,428.6 399.4,430.0 399.8,429.3 400.1,429.6 400.5,430.2 400.8,428.1 401.2,429.7 401.5,428.3 401.9,430.5 402.2,429.3 402.6,430.0 402.9,428.5 403.2,428.7 403.6,430.0 403.9,429.1 404.3,428.1 404.6,427.8 405.0,427.6 405.3,429.5 405.7,427.6 406.0,429.8 406.4,430.1 406.7,431.8 407.0,431.0 407.4,432.1 407.7,430.8 408.1,432.4 408.4,429.2 408.8,429.2 409.1,428.4 409.5,428.6 409.8,429.7 410.2,429.8 410.5,430.1 410.9,432.3 411.2,432.4 411.5,431.6 411.9,429.9 412.2,431.8 412.6,430.8 412.9,431.2 413.3,430.0 413.6,429.6 414.0,431.3 414.3,432.0 414.7,429.5 415.0,429.1 415.3,430.1 415.7,429.5 416.0,430.1 416.4,429.9 416.7,430.7 417.1,430.0 417.4,428.6 417.8,428.4 418.1,428.5 418.5,429.7 418.8,429.3 419.1,430.6 419.5,431.0 419.8,430.7 420.2,431.9 420.5,431.0 420.9,432.7 421.2,429.8 421.6,429.6 421.9,430.1 422.3,431.4 422.6,431.7 423.0,431.7 423.3,433.0 423.6,432.2 424.0,432.5 424.3,430.7 424.7,429.6 425.0,429.2 425.4,432.0 425.7,433.0 426.1,430.5 426.4,430.3 426.8,429.9 427.1,430.3 427.4,430.9 427.8,429.1 428.1,429.9 428.5,430.3 428.8,432.3 429.2,431.8 429.5,430.4 429.9,430.8 430.2,430.6 430.6,431.7 430.9,431.1 431.2,432.3 431.6,432.4 431.9,431.1 432.3,430.0 432.6,431.8 433.0,432.3 433.3,432.5 433.7,432.6 434.0,432.4 434.4,431.5 434.7,431.7 435.1,432.2 435.4,431.9 435.7,434.2 436.1,433.3 436.4,430.8 436.8,433.0 437.1,433.4 437.5,432.7 437.8,431.6 438.2,432.6 438.5,433.8 438.9,431.5 439.2,434.8 439.5,434.4 439.9,434.1 440.2,435.7 440.6,432.4 440.9,430.6 441.3,433.7 441.6,433.6 442.0,433.4 442.3,432.3 442.7,432.9 443.0,432.3 443.3,432.2 443.7,432.8 444.0,432.9 444.4,431.5 444.7,432.3 445.1,432.1 445.4,432.7 445.8,432.2 446.1,431.0 446.5,432.3 446.8,433.3 447.2,434.0 447.5,432.4 447.8,433.7 448.2,432.9 448.5,430.4 448.9,432.0 449.2,430.9 449.6,432.4 449.9,433.1 450.3,432.6 450.6,434.0 451.0,436.1 451.3,434.4 451.6,434.5 452.0,433.6 452.3,431.4 452.7,432.1 453.0,434.6 453.4,433.4 453.7,435.4 454.1,436.5 454.4,432.3 454.8,434.1 455.1,436.1 455.4,434.6 455.8,434.2 456.1,433.4 456.5,433.7 456.8,433.9 457.2,432.9 457.5,433.6 457.9,434.5 458.2,433.6 458.6,434.3 458.9,432.8 459.3,433.4 459.6,433.9 459.9,434.3 460.3,433.4 460.6,432.6 461.0,433.7 461.3,436.2 461.7,433.9 462.0,434.7 462.4,433.5 462.7,434.5 463.1,433.8 463.4,434.2" stroke="#23a3c6" stroke-width="1.15" fill="none" stroke-linejoin="round"/>
<line x1="342.50" y1="366.00" x2="342.50" y2="476.80" stroke="#222" stroke-width="1"/>
<line x1="402.50" y1="366.00" x2="402.50" y2="476.80" stroke="#222" stroke-width="1" stroke-dasharray="1.5,1.2"/>
<rect x="330.30" y="450.24" width="12.10" height="26.56" fill="none" stroke="#222" stroke-width="0.8" stroke-dasharray="1.5,1.2"/>
<text x="338.35" y="463.52" font-size="11.2" text-anchor="middle" fill="#111" transform="rotate(-90 338.35 463.52)">pre</text>
<rect x="342.40" y="450.24" width="12.10" height="26.56" fill="none" stroke="#222" stroke-width="0.8" stroke-dasharray="1.5,1.2"/>
<text x="351.35" y="463.52" font-size="11.2" text-anchor="middle" fill="#111" transform="rotate(-90 351.35 463.52)">early</text>
<rect x="390.80" y="450.24" width="12.10" height="26.56" fill="none" stroke="#222" stroke-width="0.8" stroke-dasharray="1.5,1.2"/>
<text x="400.85" y="463.52" font-size="11.2" text-anchor="middle" fill="#111" transform="rotate(-90 400.85 463.52)">late</text>
<line x1="318.50" y1="366.00" x2="318.50" y2="477.30" stroke="#222" stroke-width="1"/>
<line x1="318.50" y1="476.80" x2="464.20" y2="476.80" stroke="#222" stroke-width="1"/>
<line x1="315.50" y1="366.00" x2="318.50" y2="366.00" stroke="#222" stroke-width="1"/>
<text x="314.80" y="369.30" font-size="10.9" text-anchor="end" fill="#111">20</text>
<line x1="315.50" y1="383.55" x2="318.50" y2="383.55" stroke="#222" stroke-width="1"/>
<text x="314.80" y="386.85" font-size="10.9" text-anchor="end" fill="#111">15</text>
<line x1="315.50" y1="401.10" x2="318.50" y2="401.10" stroke="#222" stroke-width="1"/>
<text x="314.80" y="404.40" font-size="10.9" text-anchor="end" fill="#111">10</text>
<line x1="315.50" y1="418.65" x2="318.50" y2="418.65" stroke="#222" stroke-width="1"/>
<text x="314.80" y="421.95" font-size="10.9" text-anchor="end" fill="#111">5</text>
<line x1="315.50" y1="436.20" x2="318.50" y2="436.20" stroke="#222" stroke-width="1"/>
<text x="314.80" y="439.50" font-size="10.9" text-anchor="end" fill="#111">0</text>
<line x1="315.50" y1="453.75" x2="318.50" y2="453.75" stroke="#222" stroke-width="1"/>
<text x="314.80" y="457.05" font-size="10.9" text-anchor="end" fill="#111">-5</text>
<line x1="315.50" y1="471.30" x2="318.50" y2="471.30" stroke="#222" stroke-width="1"/>
<text x="314.80" y="474.60" font-size="10.9" text-anchor="end" fill="#111">-10</text>
<line x1="318.20" y1="476.80" x2="318.20" y2="479.80" stroke="#333" stroke-width="1"/>
<text x="318.20" y="490.20" font-size="10.9" text-anchor="middle" fill="#111">-2</text>
<line x1="342.40" y1="476.80" x2="342.40" y2="479.80" stroke="#333" stroke-width="1"/>
<text x="342.40" y="490.20" font-size="10.9" text-anchor="middle" fill="#111">0</text>
<line x1="366.60" y1="476.80" x2="366.60" y2="479.80" stroke="#333" stroke-width="1"/>
<text x="366.60" y="490.20" font-size="10.9" text-anchor="middle" fill="#111">2</text>
<line x1="390.80" y1="476.80" x2="390.80" y2="479.80" stroke="#333" stroke-width="1"/>
<text x="390.80" y="490.20" font-size="10.9" text-anchor="middle" fill="#111">4</text>
<line x1="415.00" y1="476.80" x2="415.00" y2="479.80" stroke="#333" stroke-width="1"/>
<text x="415.00" y="490.20" font-size="10.9" text-anchor="middle" fill="#111">6</text>
<line x1="439.20" y1="476.80" x2="439.20" y2="479.80" stroke="#333" stroke-width="1"/>
<text x="439.20" y="490.20" font-size="10.9" text-anchor="middle" fill="#111">8</text>
<text x="372.40" y="348.30" font-size="11.5" text-anchor="middle" fill="#111">entries 5 s</text>
<text x="372.40" y="360.30" font-size="11.5" text-anchor="middle" fill="#111">or longer</text>
<text x="464.70" y="377.80" font-size="11.2" text-anchor="end" fill="#111">RTPP</text>
<text x="190.50" y="379.30" font-size="11.6" text-anchor="end" fill="#111">passive</text>
<text x="190.50" y="391.60" font-size="11.6" text-anchor="end" fill="#111">stimulation</text>
<rect x="319.50" y="546.64" width="23.90" height="113.86" fill="#e3e3e3"/>
<rect x="343.40" y="546.64" width="60.50" height="113.86" fill="#b9e7ec"/>
<rect x="403.90" y="546.64" width="60.80" height="113.86" fill="url(#fade)"/>
<polygon points="319.2,621.8 319.5,621.9 319.9,621.9 320.2,622.2 320.6,621.9 320.9,621.9 321.3,621.1 321.6,622.2 322.0,620.3 322.3,623.3 322.7,622.3 323.0,621.4 323.3,621.8 323.7,622.3 324.0,622.0 324.4,621.3 324.7,620.8 325.1,622.4 325.4,621.8 325.8,622.1 326.1,621.1 326.5,621.8 326.8,621.6 327.2,620.9 327.5,621.6 327.8,621.4 328.2,622.1 328.5,622.0 328.9,623.0 329.2,622.7 329.6,622.3 329.9,622.3 330.3,620.4 330.6,622.7 331.0,623.4 331.3,622.0 331.6,621.3 332.0,621.3 332.3,620.6 332.7,619.8 333.0,621.2 333.4,622.2 333.7,621.8 334.1,620.8 334.4,620.9 334.8,621.4 335.1,621.2 335.4,621.1 335.8,622.4 336.1,621.4 336.5,621.9 336.8,621.7 337.2,621.8 337.5,621.4 337.9,620.7 338.2,621.2 338.6,621.1 338.9,620.5 339.3,620.6 339.6,621.3 339.9,620.6 340.3,621.1 340.6,621.2 341.0,620.8 341.3,619.8 341.7,621.0 342.0,621.1 342.4,620.7 342.7,621.3 343.1,620.3 343.4,616.4 343.7,618.1 344.1,615.9 344.4,615.5 344.8,611.8 345.1,611.1 345.5,609.7 345.8,608.6 346.2,608.0 346.5,605.5 346.9,603.7 347.2,603.3 347.5,601.2 347.9,601.4 348.2,603.2 348.6,603.2 348.9,602.6 349.3,604.3 349.6,604.0 350.0,604.6 350.3,604.1 350.7,604.1 351.0,605.1 351.4,603.6 351.7,605.4 352.0,605.0 352.4,607.2 352.7,608.2 353.1,608.6 353.4,608.8 353.8,607.9 354.1,610.5 354.5,608.2 354.8,610.8 355.2,608.9 355.5,609.8 355.8,610.8 356.2,609.8 356.5,610.9 356.9,610.8 357.2,610.8 357.6,607.7 357.9,611.0 358.3,609.0 358.6,610.8 359.0,612.0 359.3,612.3 359.6,610.5 360.0,611.6 360.3,612.7 360.7,611.6 361.0,611.7 361.4,611.0 361.7,613.3 362.1,611.2 362.4,610.9 362.8,613.1 363.1,613.5 363.5,612.8 363.8,613.5 364.1,612.7 364.5,612.7 364.8,613.4 365.2,615.0 365.5,616.6 365.9,614.7 366.2,615.8 366.6,613.6 366.9,612.2 367.3,613.6 367.6,613.3 367.9,612.9 368.3,613.2 368.6,615.5 369.0,616.2 369.3,615.9 369.7,615.2 370.0,616.0 370.4,615.1 370.7,613.7 371.1,615.0 371.4,615.1 371.7,616.3 372.1,615.8 372.4,614.5 372.8,613.6 373.1,614.6 373.5,616.1 373.8,613.6 374.2,617.2 374.5,616.7 374.9,617.0 375.2,616.3 375.6,615.4 375.9,616.3 376.2,612.2 376.6,612.5 376.9,614.0 377.3,616.0 377.6,617.9 378.0,615.6 378.3,615.2 378.7,615.6 379.0,614.6 379.4,615.4 379.7,617.8 380.0,619.2 380.4,618.1 380.7,617.1 381.1,616.3 381.4,616.4 381.8,617.0 382.1,617.9 382.5,616.7 382.8,616.1 383.2,617.4 383.5,618.3 383.8,618.0 384.2,618.6 384.5,617.5 384.9,618.7 385.2,617.5 385.6,618.4 385.9,617.2 386.3,614.7 386.6,617.8 387.0,617.6 387.3,615.0 387.7,615.7 388.0,616.9 388.3,616.9 388.7,617.9 389.0,619.6 389.4,621.5 389.7,620.1 390.1,619.6 390.4,617.5 390.8,617.8 391.1,620.0 391.5,618.5 391.8,620.0 392.1,617.8 392.5,619.6 392.8,618.2 393.2,618.5 393.5,619.4 393.9,618.0 394.2,619.0 394.6,621.9 394.9,619.7 395.3,620.6 395.6,620.3 395.9,619.5 396.3,618.7 396.6,619.1 397.0,620.7 397.3,620.9 397.7,621.5 398.0,620.7 398.4,621.0 398.7,619.5 399.1,620.7 399.4,619.2 399.8,617.8 400.1,618.8 400.4,620.0 400.8,618.9 401.1,620.8 401.5,620.6 401.8,619.0 402.2,619.3 402.5,620.3 402.9,620.8 403.2,621.2 403.6,619.1 403.9,617.9 404.2,618.0 404.6,619.6 404.9,619.9 405.3,621.3 405.6,622.1 406.0,620.5 406.3,619.9 406.7,621.9 407.0,622.5 407.4,621.0 407.7,622.4 408.0,620.2 408.4,619.3 408.7,621.6 409.1,621.5 409.4,620.1 409.8,619.6 410.1,620.5 410.5,621.0 410.8,621.4 411.2,620.6 411.5,620.3 411.9,621.1 412.2,621.8 412.5,621.6 412.9,621.6 413.2,621.9 413.6,623.0 413.9,621.9 414.3,620.7 414.6,621.1 415.0,620.0 415.3,620.6 415.7,620.4 416.0,620.3 416.3,623.4 416.7,621.5 417.0,620.4 417.4,622.6 417.7,624.1 418.1,623.7 418.4,622.9 418.8,621.8 419.1,623.6 419.5,622.7 419.8,623.6 420.1,622.3 420.5,622.3 420.8,621.9 421.2,622.6 421.5,622.8 421.9,621.3 422.2,623.1 422.6,622.5 422.9,622.9 423.3,622.8 423.6,623.2 424.0,621.2 424.3,620.7 424.6,622.0 425.0,619.9 425.3,621.1 425.7,620.1 426.0,622.6 426.4,622.9 426.7,623.1 427.1,620.1 427.4,620.4 427.8,621.9 428.1,621.7 428.4,622.1 428.8,622.2 429.1,623.1 429.5,621.4 429.8,621.4 430.2,622.7 430.5,621.9 430.9,621.0 431.2,621.4 431.6,622.2 431.9,621.4 432.2,621.0 432.6,619.5 432.9,621.7 433.3,621.5 433.6,621.9 434.0,622.5 434.3,622.1 434.7,623.6 435.0,623.5 435.4,624.1 435.7,622.5 436.1,622.7 436.4,623.3 436.7,623.0 437.1,621.8 437.4,622.5 437.8,625.1 438.1,620.7 438.5,622.0 438.8,621.1 439.2,622.9 439.5,622.8 439.9,622.2 440.2,621.8 440.5,622.5 440.9,620.2 441.2,622.2 441.6,622.5 441.9,619.9 442.3,621.1 442.6,623.6 443.0,621.9 443.3,621.4 443.7,620.3 444.0,619.3 444.3,621.0 444.7,620.4 445.0,621.4 445.4,622.8 445.7,623.3 446.1,623.5 446.4,624.3 446.8,621.1 447.1,622.5 447.5,623.7 447.8,622.7 448.2,623.7 448.5,621.4 448.8,619.7 449.2,620.7 449.5,621.7 449.9,622.3 450.2,621.6 450.6,620.9 450.9,620.5 451.3,622.0 451.6,621.7 452.0,623.5 452.3,622.3 452.6,621.0 453.0,620.4 453.3,622.5 453.7,623.8 454.0,620.3 454.4,621.3 454.7,622.0 455.1,621.6 455.4,622.1 455.8,621.3 456.1,621.0 456.4,622.3 456.8,623.6 457.1,623.1 457.5,625.9 457.8,622.3 458.2,622.7 458.5,623.3 458.9,621.9 459.2,621.1 459.6,621.9 459.9,622.8 460.3,624.0 460.6,623.6 460.9,623.2 461.3,624.0 461.6,622.8 462.0,621.7 462.3,622.1 462.7,619.5 463.0,620.9 463.4,620.8 463.7,617.4 464.1,618.3 464.4,620.3 464.4,624.9 464.1,622.8 463.7,621.9 463.4,625.3 463.0,625.4 462.7,624.0 462.3,626.6 462.0,626.3 461.6,627.3 461.3,628.6 460.9,627.8 460.6,628.1 460.3,628.5 459.9,627.4 459.6,626.5 459.2,625.6 458.9,626.4 458.5,627.8 458.2,627.2 457.8,626.8 457.5,630.4 457.1,627.6 456.8,628.1 456.4,626.9 456.1,625.6 455.8,625.9 455.4,626.6 455.1,626.1 454.7,626.5 454.4,625.9 454.0,624.9 453.7,628.3 453.3,627.0 453.0,624.9 452.6,625.5 452.3,626.8 452.0,628.0 451.6,626.2 451.3,626.5 450.9,625.0 450.6,625.4 450.2,626.1 449.9,626.8 449.5,626.2 449.2,625.2 448.8,624.2 448.5,625.9 448.2,628.2 447.8,627.2 447.5,628.2 447.1,627.0 446.8,625.6 446.4,628.8 446.1,628.0 445.7,627.8 445.4,627.3 445.0,625.9 444.7,625.0 444.3,625.5 444.0,623.8 443.7,624.8 443.3,625.9 443.0,626.4 442.6,628.1 442.3,625.7 441.9,624.4 441.6,627.0 441.2,626.8 440.9,624.8 440.5,627.1 440.2,626.4 439.9,626.8 439.5,627.3 439.2,627.4 438.8,625.6 438.5,626.5 438.1,625.2 437.8,629.6 437.4,627.0 437.1,626.3 436.7,627.6 436.4,627.9 436.1,627.2 435.7,627.0 435.4,628.6 435.0,628.0 434.7,628.2 434.3,626.7 434.0,627.0 433.6,626.4 433.3,626.1 432.9,626.3 432.6,624.0 432.2,625.5 431.9,625.9 431.6,626.7 431.2,625.9 430.9,625.5 430.5,626.4 430.2,627.2 429.8,626.0 429.5,625.9 429.1,627.7 428.8,626.7 428.4,626.6 428.1,626.2 427.8,626.4 427.4,624.9 427.1,624.7 426.7,627.6 426.4,627.4 426.0,627.1 425.7,624.6 425.3,625.6 425.0,624.4 424.6,626.5 424.3,625.2 424.0,625.7 423.6,627.8 423.3,627.3 422.9,627.5 422.6,627.0 422.2,627.6 421.9,625.9 421.5,627.3 421.2,627.1 420.8,626.4 420.5,626.8 420.1,626.8 419.8,628.1 419.5,627.3 419.1,628.1 418.8,626.4 418.4,627.4 418.1,628.3 417.7,628.7 417.4,627.1 417.0,625.0 416.7,626.0 416.3,627.9 416.0,624.8 415.7,624.9 415.3,625.1 415.0,624.5 414.6,625.6 414.3,625.2 413.9,626.4 413.6,627.5 413.2,626.5 412.9,626.2 412.5,626.1 412.2,626.3 411.9,625.7 411.5,624.8 411.2,625.1 410.8,625.9 410.5,625.6 410.1,625.1 409.8,624.1 409.4,624.6 409.1,626.0 408.7,626.1 408.4,623.8 408.0,624.7 407.7,626.9 407.4,625.5 407.0,627.0 406.7,626.4 406.3,624.4 406.0,625.0 405.6,626.6 405.3,625.8 404.9,624.4 404.6,624.2 404.2,622.5 403.9,622.4 403.6,623.7 403.2,625.7 402.9,625.3 402.5,624.8 402.2,623.8 401.8,623.5 401.5,625.1 401.1,625.3 400.8,623.4 400.4,624.5 400.1,623.4 399.8,622.4 399.4,623.8 399.1,625.2 398.7,624.0 398.4,625.5 398.0,625.3 397.7,626.0 397.3,625.4 397.0,625.2 396.6,623.7 396.3,623.2 395.9,624.0 395.6,624.8 395.3,625.1 394.9,624.3 394.6,626.4 394.2,623.5 393.9,622.5 393.5,623.9 393.2,623.0 392.8,622.7 392.5,624.1 392.1,622.3 391.8,624.5 391.5,623.0 391.1,624.5 390.8,622.3 390.4,622.0 390.1,624.1 389.7,624.7 389.4,626.0 389.0,624.1 388.7,622.4 388.3,621.4 388.0,621.4 387.7,620.3 387.3,619.5 387.0,622.1 386.6,622.3 386.3,619.3 385.9,621.8 385.6,622.9 385.2,622.0 384.9,623.2 384.5,622.0 384.2,623.1 383.8,622.5 383.5,622.8 383.2,621.9 382.8,620.6 382.5,621.2 382.1,622.4 381.8,621.5 381.4,620.9 381.1,620.8 380.7,621.6 380.4,622.6 380.0,623.7 379.7,622.3 379.4,619.9 379.0,619.1 378.7,620.1 378.3,619.7 378.0,620.1 377.6,622.4 377.3,620.5 376.9,618.5 376.6,617.0 376.2,616.7 375.9,620.8 375.6,619.9 375.2,620.8 374.9,621.5 374.5,621.3 374.2,621.7 373.8,618.1 373.5,620.6 373.1,619.1 372.8,618.1 372.4,619.0 372.1,620.3 371.7,620.8 371.4,619.6 371.1,619.6 370.7,618.2 370.4,619.7 370.0,620.5 369.7,619.7 369.3,620.4 369.0,620.7 368.6,620.0 368.3,617.7 367.9,617.4 367.6,617.9 367.3,618.1 366.9,616.8 366.6,618.2 366.2,620.4 365.9,619.2 365.5,621.2 365.2,619.5 364.8,618.0 364.5,617.2 364.1,617.2 363.8,618.0 363.5,617.3 363.1,618.0 362.8,617.6 362.4,615.5 362.1,615.8 361.7,617.8 361.4,615.5 361.0,616.3 360.7,616.2 360.3,617.2 360.0,616.1 359.6,615.0 359.3,616.8 359.0,616.5 358.6,615.3 358.3,613.5 357.9,615.5 357.6,612.2 357.2,615.3 356.9,615.3 356.5,615.4 356.2,614.3 355.8,615.3 355.5,614.3 355.2,613.4 354.8,615.3 354.5,612.7 354.1,615.0 353.8,612.5 353.4,613.4 353.1,613.1 352.7,612.7 352.4,611.7 352.0,609.5 351.7,610.0 351.4,608.1 351.0,609.6 350.7,608.6 350.3,608.6 350.0,609.1 349.6,608.6 349.3,608.8 348.9,607.2 348.6,607.7 348.2,607.7 347.9,606.0 347.5,605.8 347.2,607.9 346.9,608.2 346.5,610.1 346.2,612.5 345.8,613.1 345.5,614.2 345.1,615.7 344.8,616.4 344.4,620.0 344.1,620.4 343.7,622.6 343.4,620.9 343.1,621.8 342.7,622.8 342.4,622.3 342.0,622.6 341.7,622.5 341.3,621.3 341.0,622.3 340.6,622.7 340.3,622.6 339.9,622.1 339.6,622.9 339.3,622.1 338.9,622.0 338.6,622.6 338.2,622.7 337.9,622.2 337.5,622.9 337.2,623.3 336.8,623.2 336.5,623.4 336.1,622.9 335.8,623.9 335.4,622.6 335.1,622.7 334.8,622.9 334.4,622.4 334.1,622.3 333.7,623.3 333.4,623.7 333.0,622.7 332.7,621.3 332.3,622.2 332.0,622.8 331.6,622.8 331.3,623.5 331.0,624.9 330.6,624.2 330.3,621.9 329.9,623.8 329.6,623.8 329.2,624.2 328.9,624.5 328.5,623.5 328.2,623.6 327.8,623.0 327.5,623.1 327.2,622.4 326.8,623.1 326.5,623.3 326.1,622.6 325.8,623.6 325.4,623.3 325.1,623.9 324.7,622.3 324.4,622.8 324.0,623.5 323.7,623.8 323.3,623.3 323.0,622.9 322.7,623.8 322.3,624.9 322.0,621.8 321.6,623.7 321.3,622.6 320.9,623.4 320.6,623.4 320.2,623.7 319.9,623.4 319.5,623.4 319.2,623.3" stroke="none" stroke-width="1" fill="#50c050" fill-opacity="0.55"/>
<polyline points="319.2,622.5 319.5,622.6 319.9,622.6 320.2,623.0 320.6,622.6 320.9,622.6 321.3,621.9 321.6,623.0 322.0,621.1 322.3,624.1 322.7,623.0 323.0,622.1 323.3,622.5 323.7,623.0 324.0,622.7 324.4,622.1 324.7,621.5 325.1,623.1 325.4,622.5 325.8,622.9 326.1,621.9 326.5,622.6 326.8,622.4 327.2,621.7 327.5,622.3 327.8,622.2 328.2,622.8 328.5,622.7 328.9,623.8 329.2,623.4 329.6,623.1 329.9,623.0 330.3,621.1 330.6,623.4 331.0,624.2 331.3,622.8 331.6,622.0 332.0,622.1 332.3,621.4 332.7,620.5 333.0,621.9 333.4,623.0 333.7,622.6 334.1,621.5 334.4,621.7 334.8,622.1 335.1,621.9 335.4,621.9 335.8,623.2 336.1,622.2 336.5,622.7 336.8,622.5 337.2,622.6 337.5,622.2 337.9,621.5 338.2,621.9 338.6,621.8 338.9,621.3 339.3,621.4 339.6,622.1 339.9,621.3 340.3,621.9 340.6,621.9 341.0,621.6 341.3,620.6 341.7,621.8 342.0,621.8 342.4,621.5 342.7,622.0 343.1,621.1 343.4,618.7 343.7,620.3 344.1,618.2 344.4,617.7 344.8,614.1 345.1,613.4 345.5,611.9 345.8,610.9 346.2,610.3 346.5,607.8 346.9,606.0 347.2,605.6 347.5,603.5 347.9,603.7 348.2,605.5 348.6,605.4 348.9,604.9 349.3,606.6 349.6,606.3 350.0,606.9 350.3,606.4 350.7,606.3 351.0,607.3 351.4,605.9 351.7,607.7 352.0,607.3 352.4,609.4 352.7,610.4 353.1,610.8 353.4,611.1 353.8,610.2 354.1,612.8 354.5,610.5 354.8,613.1 355.2,611.2 355.5,612.0 355.8,613.1 356.2,612.0 356.5,613.1 356.9,613.1 357.2,613.0 357.6,610.0 357.9,613.2 358.3,611.3 358.6,613.1 359.0,614.3 359.3,614.5 359.6,612.8 360.0,613.8 360.3,615.0 360.7,613.9 361.0,614.0 361.4,613.3 361.7,615.5 362.1,613.5 362.4,613.2 362.8,615.3 363.1,615.7 363.5,615.1 363.8,615.7 364.1,614.9 364.5,614.9 364.8,615.7 365.2,617.3 365.5,618.9 365.9,617.0 366.2,618.1 366.6,615.9 366.9,614.5 367.3,615.9 367.6,615.6 367.9,615.1 368.3,615.5 368.6,617.8 369.0,618.5 369.3,618.2 369.7,617.5 370.0,618.3 370.4,617.4 370.7,615.9 371.1,617.3 371.4,617.4 371.7,618.5 372.1,618.0 372.4,616.7 372.8,615.9 373.1,616.8 373.5,618.3 373.8,615.8 374.2,619.5 374.5,619.0 374.9,619.2 375.2,618.5 375.6,617.7 375.9,618.6 376.2,614.5 376.6,614.7 376.9,616.2 377.3,618.3 377.6,620.2 378.0,617.9 378.3,617.5 378.7,617.8 379.0,616.9 379.4,617.7 379.7,620.1 380.0,621.5 380.4,620.3 380.7,619.4 381.1,618.5 381.4,618.7 381.8,619.2 382.1,620.1 382.5,619.0 382.8,618.4 383.2,619.7 383.5,620.6 383.8,620.3 384.2,620.9 384.5,619.8 384.9,621.0 385.2,619.7 385.6,620.6 385.9,619.5 386.3,617.0 386.6,620.1 387.0,619.8 387.3,617.2 387.7,618.0 388.0,619.1 388.3,619.2 388.7,620.2 389.0,621.8 389.4,623.8 389.7,622.4 390.1,621.8 390.4,619.8 390.8,620.0 391.1,622.2 391.5,620.8 391.8,622.2 392.1,620.1 392.5,621.9 392.8,620.4 393.2,620.8 393.5,621.6 393.9,620.2 394.2,621.2 394.6,624.1 394.9,622.0 395.3,622.8 395.6,622.6 395.9,621.8 396.3,621.0 396.6,621.4 397.0,622.9 397.3,623.1 397.7,623.7 398.0,623.0 398.4,623.3 398.7,621.8 399.1,622.9 399.4,621.5 399.8,620.1 400.1,621.1 400.4,622.2 400.8,621.1 401.1,623.1 401.5,622.9 401.8,621.3 402.2,621.6 402.5,622.5 402.9,623.0 403.2,623.4 403.6,621.4 403.9,620.1 404.2,620.2 404.6,621.9 404.9,622.2 405.3,623.6 405.6,624.4 406.0,622.7 406.3,622.1 406.7,624.1 407.0,624.8 407.4,623.3 407.7,624.6 408.0,622.4 408.4,621.5 408.7,623.8 409.1,623.8 409.4,622.4 409.8,621.8 410.1,622.8 410.5,623.3 410.8,623.7 411.2,622.9 411.5,622.6 411.9,623.4 412.2,624.0 412.5,623.8 412.9,623.9 413.2,624.2 413.6,625.3 413.9,624.2 414.3,623.0 414.6,623.4 415.0,622.3 415.3,622.9 415.7,622.7 416.0,622.5 416.3,625.7 416.7,623.8 417.0,622.7 417.4,624.8 417.7,626.4 418.1,626.0 418.4,625.1 418.8,624.1 419.1,625.9 419.5,625.0 419.8,625.8 420.1,624.5 420.5,624.5 420.8,624.2 421.2,624.9 421.5,625.0 421.9,623.6 422.2,625.4 422.6,624.8 422.9,625.2 423.3,625.0 423.6,625.5 424.0,623.5 424.3,623.0 424.6,624.2 425.0,622.1 425.3,623.4 425.7,622.4 426.0,624.9 426.4,625.2 426.7,625.4 427.1,622.4 427.4,622.6 427.8,624.1 428.1,624.0 428.4,624.3 428.8,624.5 429.1,625.4 429.5,623.7 429.8,623.7 430.2,625.0 430.5,624.1 430.9,623.3 431.2,623.7 431.6,624.4 431.9,623.6 432.2,623.2 432.6,621.8 432.9,624.0 433.3,623.8 433.6,624.1 434.0,624.8 434.3,624.4 434.7,625.9 435.0,625.8 435.4,626.4 435.7,624.8 436.1,624.9 436.4,625.6 436.7,625.3 437.1,624.1 437.4,624.7 437.8,627.3 438.1,622.9 438.5,624.2 438.8,623.3 439.2,625.2 439.5,625.1 439.9,624.5 440.2,624.1 440.5,624.8 440.9,622.5 441.2,624.5 441.6,624.8 441.9,622.1 442.3,623.4 442.6,625.9 443.0,624.1 443.3,623.6 443.7,622.6 444.0,621.5 444.3,623.2 444.7,622.7 445.0,623.7 445.4,625.1 445.7,625.5 446.1,625.8 446.4,626.5 446.8,623.3 447.1,624.8 447.5,625.9 447.8,625.0 448.2,625.9 448.5,623.7 448.8,621.9 449.2,622.9 449.5,623.9 449.9,624.6 450.2,623.8 450.6,623.1 450.9,622.8 451.3,624.2 451.6,624.0 452.0,625.7 452.3,624.5 452.6,623.3 453.0,622.7 453.3,624.7 453.7,626.0 454.0,622.6 454.4,623.6 454.7,624.2 455.1,623.8 455.4,624.3 455.8,623.6 456.1,623.3 456.4,624.6 456.8,625.8 457.1,625.3 457.5,628.1 457.8,624.5 458.2,625.0 458.5,625.6 458.9,624.1 459.2,623.4 459.6,624.2 459.9,625.1 460.3,626.3 460.6,625.8 460.9,625.5 461.3,626.3 461.6,625.0 462.0,624.0 462.3,624.3 462.7,621.8 463.0,623.1 463.4,623.1 463.7,619.6 464.1,620.6 464.4,622.6" stroke="#1fae1f" stroke-width="1.15" fill="none" stroke-linejoin="round"/>
<line x1="343.50" y1="546.64" x2="343.50" y2="660.50" stroke="#222" stroke-width="1"/>
<line x1="403.50" y1="546.64" x2="403.50" y2="660.50" stroke="#222" stroke-width="1" stroke-dasharray="1.5,1.2"/>
<line x1="319.50" y1="546.64" x2="319.50" y2="661.00" stroke="#222" stroke-width="1"/>
<line x1="319.50" y1="660.50" x2="464.70" y2="660.50" stroke="#222" stroke-width="1"/>
<line x1="316.50" y1="546.64" x2="319.50" y2="546.64" stroke="#222" stroke-width="1"/>
<text x="316.60" y="549.94" font-size="10.9" text-anchor="end" fill="#111">12</text>
<line x1="316.50" y1="559.20" x2="319.50" y2="559.20" stroke="#222" stroke-width="1"/>
<text x="316.60" y="562.50" font-size="10.9" text-anchor="end" fill="#111">10</text>
<line x1="316.50" y1="571.76" x2="319.50" y2="571.76" stroke="#222" stroke-width="1"/>
<text x="316.60" y="575.06" font-size="10.9" text-anchor="end" fill="#111">8</text>
<line x1="316.50" y1="584.32" x2="319.50" y2="584.32" stroke="#222" stroke-width="1"/>
<text x="316.60" y="587.62" font-size="10.9" text-anchor="end" fill="#111">6</text>
<line x1="316.50" y1="596.88" x2="319.50" y2="596.88" stroke="#222" stroke-width="1"/>
<text x="316.60" y="600.18" font-size="10.9" text-anchor="end" fill="#111">4</text>
<line x1="316.50" y1="609.44" x2="319.50" y2="609.44" stroke="#222" stroke-width="1"/>
<text x="316.60" y="612.74" font-size="10.9" text-anchor="end" fill="#111">2</text>
<line x1="316.50" y1="622.00" x2="319.50" y2="622.00" stroke="#222" stroke-width="1"/>
<text x="316.60" y="625.30" font-size="10.9" text-anchor="end" fill="#111">0</text>
<line x1="316.50" y1="634.56" x2="319.50" y2="634.56" stroke="#222" stroke-width="1"/>
<text x="316.60" y="637.86" font-size="10.9" text-anchor="end" fill="#111">-2</text>
<line x1="316.50" y1="647.12" x2="319.50" y2="647.12" stroke="#222" stroke-width="1"/>
<text x="316.60" y="650.42" font-size="10.9" text-anchor="end" fill="#111">-4</text>
<line x1="316.50" y1="659.68" x2="319.50" y2="659.68" stroke="#222" stroke-width="1"/>
<text x="316.60" y="662.98" font-size="10.9" text-anchor="end" fill="#111">-6</text>
<line x1="319.20" y1="660.50" x2="319.20" y2="663.50" stroke="#333" stroke-width="1"/>
<text x="319.20" y="673.90" font-size="10.9" text-anchor="middle" fill="#111">-2</text>
<line x1="343.40" y1="660.50" x2="343.40" y2="663.50" stroke="#333" stroke-width="1"/>
<text x="343.40" y="673.90" font-size="10.9" text-anchor="middle" fill="#111">0</text>
<line x1="367.60" y1="660.50" x2="367.60" y2="663.50" stroke="#333" stroke-width="1"/>
<text x="367.60" y="673.90" font-size="10.9" text-anchor="middle" fill="#111">2</text>
<line x1="391.80" y1="660.50" x2="391.80" y2="663.50" stroke="#333" stroke-width="1"/>
<text x="391.80" y="673.90" font-size="10.9" text-anchor="middle" fill="#111">4</text>
<line x1="416.00" y1="660.50" x2="416.00" y2="663.50" stroke="#333" stroke-width="1"/>
<text x="416.00" y="673.90" font-size="10.9" text-anchor="middle" fill="#111">6</text>
<line x1="440.20" y1="660.50" x2="440.20" y2="663.50" stroke="#333" stroke-width="1"/>
<text x="440.20" y="673.90" font-size="10.9" text-anchor="middle" fill="#111">8</text>
<rect x="322.50" y="731.80" width="24.00" height="113.20" fill="#e3e3e3"/>
<rect x="346.50" y="731.80" width="60.00" height="113.20" fill="#b9e7ec"/>
<rect x="406.50" y="731.80" width="60.00" height="113.20" fill="url(#fade)"/>
<polygon points="322.5,793.9 322.8,793.4 323.2,793.9 323.5,793.6 323.9,794.1 324.2,793.6 324.6,793.7 324.9,793.2 325.2,793.2 325.6,793.6 325.9,793.9 326.3,793.7 326.6,793.8 327.0,794.2 327.3,793.8 327.6,794.8 328.0,794.3 328.3,793.3 328.7,793.6 329.0,794.4 329.4,793.8 329.7,794.0 330.0,794.3 330.4,794.5 330.7,794.3 331.1,793.9 331.4,794.2 331.8,793.6 332.1,794.3 332.4,794.0 332.8,794.8 333.1,795.3 333.5,794.7 333.8,794.4 334.2,793.7 334.5,794.3 334.8,794.3 335.2,794.9 335.5,794.6 335.9,794.3 336.2,794.6 336.6,794.2 336.9,793.9 337.2,794.1 337.6,794.4 337.9,794.6 338.3,794.4 338.6,795.0 339.0,794.4 339.3,794.9 339.6,794.7 340.0,795.2 340.3,795.3 340.7,795.3 341.0,794.9 341.4,794.9 341.7,794.9 342.0,794.6 342.4,795.2 342.7,794.8 343.1,795.2 343.4,795.5 343.8,795.4 344.1,794.8 344.4,794.4 344.8,795.1 345.1,795.6 345.5,795.9 345.8,795.5 346.2,795.1 346.5,793.9 346.8,793.9 347.2,793.2 347.5,793.7 347.9,793.7 348.2,794.1 348.6,794.6 348.9,795.6 349.2,794.9 349.6,795.5 349.9,796.1 350.3,796.9 350.6,797.1 351.0,797.4 351.3,799.2 351.6,798.8 352.0,798.5 352.3,798.8 352.7,799.7 353.0,800.2 353.4,801.9 353.7,801.7 354.0,802.5 354.4,802.9 354.7,803.0 355.1,803.6 355.4,804.9 355.8,805.9 356.1,805.4 356.4,804.9 356.8,804.7 357.1,804.2 357.5,804.6 357.8,804.8 358.2,806.4 358.5,805.4 358.8,805.6 359.2,804.6 359.5,805.2 359.9,806.5 360.2,806.5 360.6,806.3 360.9,807.4 361.2,808.4 361.6,807.5 361.9,807.9 362.3,808.0 362.6,807.9 363.0,808.2 363.3,807.7 363.6,807.9 364.0,808.1 364.3,807.8 364.7,808.3 365.0,809.3 365.4,808.8 365.7,809.6 366.0,808.8 366.4,809.5 366.7,809.0 367.1,808.1 367.4,808.2 367.8,809.2 368.1,809.9 368.4,809.6 368.8,808.6 369.1,808.6 369.5,810.0 369.8,809.0 370.2,809.0 370.5,808.8 370.8,808.3 371.2,809.6 371.5,809.2 371.9,809.4 372.2,808.9 372.6,809.7 372.9,810.7 373.2,810.1 373.6,809.4 373.9,810.0 374.3,810.2 374.6,810.0 375.0,810.2 375.3,810.5 375.6,810.6 376.0,809.5 376.3,810.3 376.7,810.2 377.0,809.6 377.4,809.5 377.7,811.2 378.0,811.2 378.4,811.6 378.7,811.0 379.1,812.1 379.4,812.0 379.8,811.2 380.1,810.6 380.4,811.3 380.8,810.7 381.1,809.8 381.5,811.0 381.8,810.0 382.2,810.5 382.5,812.0 382.8,811.1 383.2,810.8 383.5,809.8 383.9,810.9 384.2,809.7 384.6,810.5 384.9,810.4 385.2,810.8 385.6,810.5 385.9,810.0 386.3,810.6 386.6,811.2 387.0,810.6 387.3,811.0 387.6,810.8 388.0,810.3 388.3,810.7 388.7,810.7 389.0,810.8 389.4,811.0 389.7,810.5 390.0,810.2 390.4,810.6 390.7,812.1 391.1,812.5 391.4,811.1 391.8,810.3 392.1,810.1 392.4,811.1 392.8,811.1 393.1,811.5 393.5,811.1 393.8,811.3 394.2,811.9 394.5,811.1 394.8,811.2 395.2,809.9 395.5,810.1 395.9,811.8 396.2,810.9 396.6,811.7 396.9,811.8 397.2,811.6 397.6,812.2 397.9,809.7 398.3,810.2 398.6,811.5 399.0,810.6 399.3,812.5 399.6,810.9 400.0,811.1 400.3,811.1 400.7,810.6 401.0,810.9 401.4,810.8 401.7,811.7 402.0,811.1 402.4,811.4 402.7,811.0 403.1,811.3 403.4,811.0 403.8,811.5 404.1,812.2 404.4,812.1 404.8,810.9 405.1,811.3 405.5,811.2 405.8,811.4 406.2,810.7 406.5,811.4 406.8,812.9 407.2,812.1 407.5,811.7 407.9,810.3 408.2,811.1 408.6,811.1 408.9,810.4 409.2,810.0 409.6,810.5 409.9,809.6 410.3,810.3 410.6,810.2 411.0,810.8 411.3,811.7 411.6,811.1 412.0,810.8 412.3,810.9 412.7,808.7 413.0,810.4 413.4,809.6 413.7,808.5 414.0,808.5 414.4,808.5 414.7,809.1 415.1,809.2 415.4,807.9 415.8,807.1 416.1,808.2 416.4,807.7 416.8,807.8 417.1,807.2 417.5,807.8 417.8,806.9 418.2,807.3 418.5,807.0 418.8,807.5 419.2,806.5 419.5,807.1 419.9,806.7 420.2,806.9 420.6,806.4 420.9,806.5 421.2,805.2 421.6,806.8 421.9,806.3 422.3,807.0 422.6,806.8 423.0,807.9 423.3,806.4 423.6,808.2 424.0,806.8 424.3,807.7 424.7,807.3 425.0,806.6 425.4,807.1 425.7,806.6 426.0,806.6 426.4,807.0 426.7,806.4 427.1,805.5 427.4,805.9 427.8,806.3 428.1,806.3 428.4,806.4 428.8,805.6 429.1,805.5 429.5,806.1 429.8,806.0 430.2,806.8 430.5,806.5 430.8,806.2 431.2,806.2 431.5,806.3 431.9,805.6 432.2,805.5 432.6,805.6 432.9,807.5 433.2,806.5 433.6,806.7 433.9,806.7 434.3,806.3 434.6,805.8 435.0,807.2 435.3,805.4 435.6,805.4 436.0,805.9 436.3,806.6 436.7,807.0 437.0,805.3 437.4,806.1 437.7,806.1 438.0,806.1 438.4,805.9 438.7,804.2 439.1,804.0 439.4,805.7 439.8,806.2 440.1,804.7 440.4,805.0 440.8,805.9 441.1,805.9 441.5,804.9 441.8,805.2 442.2,805.2 442.5,802.8 442.8,804.0 443.2,805.3 443.5,804.8 443.9,805.6 444.2,805.6 444.6,805.5 444.9,805.9 445.2,805.1 445.6,804.9 445.9,805.0 446.3,804.3 446.6,803.9 447.0,804.6 447.3,803.9 447.6,803.6 448.0,804.6 448.3,804.1 448.7,805.2 449.0,805.6 449.4,804.9 449.7,804.0 450.0,802.9 450.4,803.8 450.7,803.4 451.1,804.9 451.4,804.3 451.8,803.5 452.1,804.3 452.4,804.1 452.8,803.9 453.1,802.8 453.5,804.4 453.8,804.8 454.2,803.8 454.5,803.4 454.8,803.5 455.2,804.1 455.5,803.9 455.9,802.5 456.2,803.5 456.6,803.1 456.9,802.7 457.2,803.9 457.6,804.0 457.9,803.2 458.3,803.5 458.6,803.3 459.0,803.8 459.3,803.6 459.6,803.4 460.0,802.1 460.3,802.6 460.7,802.7 461.0,802.0 461.4,802.3 461.7,802.6 462.0,802.2 462.4,803.6 462.7,803.1 463.1,802.5 463.4,802.6 463.8,802.6 464.1,802.4 464.4,803.0 464.8,801.8 465.1,802.5 465.5,801.8 465.8,802.7 466.2,800.6 466.5,801.0 466.5,804.6 466.2,804.1 465.8,806.2 465.5,805.3 465.1,806.0 464.8,805.3 464.4,806.5 464.1,805.9 463.8,806.1 463.4,806.1 463.1,806.1 462.7,806.6 462.4,807.1 462.0,805.8 461.7,806.2 461.4,805.9 461.0,805.6 460.7,806.2 460.3,806.1 460.0,805.6 459.6,807.0 459.3,807.1 459.0,807.3 458.6,806.8 458.3,807.0 457.9,806.8 457.6,807.5 457.2,807.4 456.9,806.2 456.6,806.6 456.2,807.1 455.9,806.0 455.5,807.5 455.2,807.7 454.8,807.0 454.5,806.9 454.2,807.3 453.8,808.3 453.5,807.9 453.1,806.4 452.8,807.4 452.4,807.7 452.1,807.9 451.8,807.0 451.4,807.8 451.1,808.4 450.7,806.9 450.4,807.4 450.0,806.4 449.7,807.6 449.4,808.5 449.0,809.1 448.7,808.7 448.3,807.6 448.0,808.1 447.6,807.1 447.3,807.4 447.0,808.1 446.6,807.5 446.3,807.8 445.9,808.5 445.6,808.5 445.2,808.6 444.9,809.4 444.6,809.0 444.2,809.2 443.9,809.2 443.5,808.3 443.2,808.8 442.8,807.5 442.5,806.3 442.2,808.8 441.8,808.8 441.5,808.4 441.1,809.4 440.8,809.4 440.4,808.6 440.1,808.3 439.8,809.7 439.4,809.2 439.1,807.5 438.7,807.8 438.4,809.5 438.0,809.6 437.7,809.6 437.4,809.7 437.0,808.8 436.7,810.5 436.3,810.1 436.0,809.4 435.6,809.0 435.3,808.9 435.0,810.7 434.6,809.3 434.3,809.8 433.9,810.2 433.6,810.3 433.2,810.0 432.9,811.0 432.6,809.1 432.2,809.1 431.9,809.2 431.5,809.8 431.2,809.8 430.8,809.7 430.5,810.0 430.2,810.4 429.8,809.5 429.5,809.7 429.1,809.1 428.8,809.1 428.4,809.9 428.1,809.8 427.8,809.8 427.4,809.5 427.1,809.1 426.7,810.0 426.4,810.5 426.0,810.2 425.7,810.1 425.4,810.7 425.0,810.1 424.7,810.8 424.3,811.3 424.0,810.3 423.6,811.7 423.3,810.0 423.0,811.5 422.6,810.4 422.3,810.6 421.9,809.9 421.6,810.4 421.2,808.7 420.9,810.0 420.6,810.0 420.2,810.5 419.9,810.2 419.5,810.6 419.2,810.1 418.8,811.0 418.5,810.5 418.2,810.9 417.8,810.4 417.5,811.4 417.1,810.7 416.8,811.3 416.4,811.3 416.1,811.7 415.8,810.7 415.4,811.5 415.1,812.8 414.7,812.7 414.4,812.1 414.0,812.0 413.7,812.0 413.4,813.1 413.0,813.9 412.7,812.3 412.3,814.4 412.0,814.4 411.6,814.7 411.3,815.3 411.0,814.3 410.6,813.7 410.3,813.9 409.9,813.1 409.6,814.0 409.2,813.5 408.9,814.0 408.6,814.7 408.2,814.7 407.9,813.9 407.5,815.2 407.2,815.6 406.8,816.4 406.5,815.0 406.2,814.2 405.8,815.0 405.5,814.7 405.1,814.9 404.8,814.5 404.4,815.6 404.1,815.7 403.8,815.0 403.4,814.5 403.1,814.8 402.7,814.5 402.4,815.0 402.0,814.7 401.7,815.3 401.4,814.3 401.0,814.5 400.7,814.2 400.3,814.6 400.0,814.6 399.6,814.5 399.3,816.1 399.0,814.2 398.6,815.0 398.3,813.7 397.9,813.2 397.6,815.8 397.2,815.1 396.9,815.4 396.6,815.3 396.2,814.5 395.9,815.4 395.5,813.6 395.2,813.4 394.8,814.8 394.5,814.7 394.2,815.5 393.8,814.8 393.5,814.7 393.1,815.1 392.8,814.6 392.4,814.7 392.1,813.6 391.8,813.8 391.4,814.7 391.1,816.0 390.7,815.6 390.4,814.2 390.0,813.7 389.7,814.1 389.4,814.5 389.0,814.4 388.7,814.3 388.3,814.2 388.0,813.9 387.6,814.4 387.3,814.6 387.0,814.2 386.6,814.7 386.3,814.1 385.9,813.5 385.6,814.1 385.2,814.4 384.9,813.9 384.6,814.0 384.2,813.2 383.9,814.4 383.5,813.4 383.2,814.3 382.8,814.6 382.5,815.6 382.2,814.0 381.8,813.5 381.5,814.5 381.1,813.4 380.8,814.3 380.4,814.9 380.1,814.1 379.8,814.7 379.4,815.5 379.1,815.7 378.7,814.5 378.4,815.1 378.0,814.8 377.7,814.7 377.4,813.0 377.0,813.2 376.7,813.8 376.3,813.9 376.0,813.0 375.6,814.2 375.3,814.0 375.0,813.8 374.6,813.6 374.3,813.7 373.9,813.5 373.6,812.9 373.2,813.6 372.9,814.2 372.6,813.2 372.2,812.4 371.9,812.9 371.5,812.8 371.2,813.2 370.8,811.9 370.5,812.3 370.2,812.6 369.8,812.5 369.5,813.5 369.1,812.1 368.8,812.2 368.4,813.2 368.1,813.5 367.8,812.7 367.4,811.7 367.1,811.6 366.7,812.6 366.4,813.1 366.0,812.4 365.7,813.1 365.4,812.4 365.0,812.8 364.7,811.9 364.3,811.4 364.0,811.6 363.6,811.5 363.3,811.3 363.0,811.7 362.6,811.4 362.3,811.5 361.9,811.5 361.6,811.0 361.2,811.9 360.9,811.0 360.6,809.9 360.2,810.1 359.9,810.0 359.5,808.7 359.2,808.1 358.8,809.1 358.5,809.0 358.2,809.9 357.8,808.4 357.5,808.1 357.1,807.8 356.8,808.3 356.4,808.5 356.1,808.9 355.8,809.5 355.4,808.4 355.1,807.2 354.7,806.5 354.4,806.4 354.0,806.0 353.7,805.3 353.4,805.5 353.0,803.7 352.7,803.2 352.3,802.4 352.0,802.0 351.6,802.4 351.3,802.7 351.0,800.9 350.6,800.6 350.3,800.4 349.9,799.7 349.6,799.0 349.2,798.5 348.9,799.2 348.6,798.2 348.2,797.6 347.9,797.2 347.5,797.3 347.2,796.7 346.8,797.5 346.5,797.5 346.2,796.7 345.8,797.1 345.5,797.5 345.1,797.2 344.8,796.7 344.4,796.0 344.1,796.5 343.8,797.1 343.4,797.1 343.1,796.8 342.7,796.4 342.4,796.8 342.0,796.2 341.7,796.5 341.4,796.5 341.0,796.5 340.7,796.9 340.3,796.9 340.0,796.8 339.6,796.3 339.3,796.5 339.0,796.0 338.6,796.6 338.3,796.0 337.9,796.2 337.6,796.1 337.2,795.7 336.9,795.5 336.6,795.8 336.2,796.2 335.9,795.9 335.5,796.2 335.2,796.5 334.8,795.9 334.5,795.9 334.2,795.3 333.8,796.0 333.5,796.3 333.1,796.9 332.8,796.4 332.4,795.6 332.1,795.9 331.8,795.2 331.4,795.8 331.1,795.5 330.7,795.9 330.4,796.1 330.0,795.9 329.7,795.6 329.4,795.4 329.0,796.1 328.7,795.2 328.3,794.9 328.0,795.9 327.6,796.5 327.3,795.4 327.0,795.8 326.6,795.4 326.3,795.3 325.9,795.5 325.6,795.2 325.2,794.9 324.9,794.8 324.6,795.3 324.2,795.2 323.9,795.7 323.5,795.2 323.2,795.5 322.8,795.0 322.5,795.5" stroke="none" stroke-width="1" fill="#ff7070" fill-opacity="0.55"/>
<polyline points="322.5,794.7 322.8,794.2 323.2,794.7 323.5,794.4 323.9,794.9 324.2,794.4 324.6,794.5 324.9,794.0 325.2,794.0 325.6,794.4 325.9,794.7 326.3,794.5 326.6,794.6 327.0,795.0 327.3,794.6 327.6,795.7 328.0,795.1 328.3,794.1 328.7,794.4 329.0,795.3 329.4,794.6 329.7,794.8 330.0,795.1 330.4,795.3 330.7,795.1 331.1,794.7 331.4,795.0 331.8,794.4 332.1,795.1 332.4,794.8 332.8,795.6 333.1,796.1 333.5,795.5 333.8,795.2 334.2,794.5 334.5,795.1 334.8,795.1 335.2,795.7 335.5,795.4 335.9,795.1 336.2,795.4 336.6,795.0 336.9,794.7 337.2,794.9 337.6,795.3 337.9,795.4 338.3,795.2 338.6,795.8 339.0,795.2 339.3,795.7 339.6,795.5 340.0,796.0 340.3,796.1 340.7,796.1 341.0,795.7 341.4,795.7 341.7,795.7 342.0,795.4 342.4,796.0 342.7,795.6 343.1,796.0 343.4,796.3 343.8,796.3 344.1,795.6 344.4,795.2 344.8,795.9 345.1,796.4 345.5,796.7 345.8,796.3 346.2,795.9 346.5,795.7 346.8,795.7 347.2,794.9 347.5,795.5 347.9,795.5 348.2,795.8 348.6,796.4 348.9,797.4 349.2,796.7 349.6,797.3 349.9,797.9 350.3,798.6 350.6,798.9 351.0,799.2 351.3,800.9 351.6,800.6 352.0,800.3 352.3,800.6 352.7,801.5 353.0,802.0 353.4,803.7 353.7,803.5 354.0,804.2 354.4,804.7 354.7,804.8 355.1,805.4 355.4,806.7 355.8,807.7 356.1,807.1 356.4,806.7 356.8,806.5 357.1,806.0 357.5,806.3 357.8,806.6 358.2,808.2 358.5,807.2 358.8,807.4 359.2,806.3 359.5,806.9 359.9,808.3 360.2,808.3 360.6,808.1 360.9,809.2 361.2,810.1 361.6,809.3 361.9,809.7 362.3,809.7 362.6,809.7 363.0,810.0 363.3,809.5 363.6,809.7 364.0,809.9 364.3,809.6 364.7,810.1 365.0,811.1 365.4,810.6 365.7,811.3 366.0,810.6 366.4,811.3 366.7,810.8 367.1,809.9 367.4,809.9 367.8,810.9 368.1,811.7 368.4,811.4 368.8,810.4 369.1,810.4 369.5,811.7 369.8,810.7 370.2,810.8 370.5,810.6 370.8,810.1 371.2,811.4 371.5,811.0 371.9,811.2 372.2,810.7 372.6,811.4 372.9,812.4 373.2,811.8 373.6,811.1 373.9,811.7 374.3,812.0 374.6,811.8 375.0,812.0 375.3,812.3 375.6,812.4 376.0,811.2 376.3,812.1 376.7,812.0 377.0,811.4 377.4,811.2 377.7,813.0 378.0,813.0 378.4,813.3 378.7,812.7 379.1,813.9 379.4,813.8 379.8,812.9 380.1,812.3 380.4,813.1 380.8,812.5 381.1,811.6 381.5,812.7 381.8,811.7 382.2,812.2 382.5,813.8 382.8,812.9 383.2,812.6 383.5,811.6 383.9,812.7 384.2,811.4 384.6,812.2 384.9,812.1 385.2,812.6 385.6,812.3 385.9,811.7 386.3,812.4 386.6,812.9 387.0,812.4 387.3,812.8 387.6,812.6 388.0,812.1 388.3,812.5 388.7,812.5 389.0,812.6 389.4,812.7 389.7,812.3 390.0,811.9 390.4,812.4 390.7,813.9 391.1,814.2 391.4,812.9 391.8,812.0 392.1,811.8 392.4,812.9 392.8,812.8 393.1,813.3 393.5,812.9 393.8,813.1 394.2,813.7 394.5,812.9 394.8,813.0 395.2,811.7 395.5,811.8 395.9,813.6 396.2,812.7 396.6,813.5 396.9,813.6 397.2,813.4 397.6,814.0 397.9,811.4 398.3,812.0 398.6,813.3 399.0,812.4 399.3,814.3 399.6,812.7 400.0,812.9 400.3,812.8 400.7,812.4 401.0,812.7 401.4,812.5 401.7,813.5 402.0,812.9 402.4,813.2 402.7,812.8 403.1,813.1 403.4,812.8 403.8,813.3 404.1,813.9 404.4,813.8 404.8,812.7 405.1,813.1 405.5,813.0 405.8,813.2 406.2,812.4 406.5,813.2 406.8,814.6 407.2,813.8 407.5,813.5 407.9,812.1 408.2,812.9 408.6,812.9 408.9,812.2 409.2,811.7 409.6,812.3 409.9,811.4 410.3,812.1 410.6,811.9 411.0,812.5 411.3,813.5 411.6,812.9 412.0,812.6 412.3,812.6 412.7,810.5 413.0,812.2 413.4,811.3 413.7,810.2 414.0,810.3 414.4,810.3 414.7,810.9 415.1,811.0 415.4,809.7 415.8,808.9 416.1,809.9 416.4,809.5 416.8,809.5 417.1,809.0 417.5,809.6 417.8,808.6 418.2,809.1 418.5,808.8 418.8,809.2 419.2,808.3 419.5,808.8 419.9,808.4 420.2,808.7 420.6,808.2 420.9,808.3 421.2,807.0 421.6,808.6 421.9,808.1 422.3,808.8 422.6,808.6 423.0,809.7 423.3,808.2 423.6,810.0 424.0,808.5 424.3,809.5 424.7,809.0 425.0,808.3 425.4,808.9 425.7,808.4 426.0,808.4 426.4,808.8 426.7,808.2 427.1,807.3 427.4,807.7 427.8,808.0 428.1,808.1 428.4,808.2 428.8,807.3 429.1,807.3 429.5,807.9 429.8,807.8 430.2,808.6 430.5,808.3 430.8,807.9 431.2,808.0 431.5,808.1 431.9,807.4 432.2,807.3 432.6,807.3 432.9,809.2 433.2,808.3 433.6,808.5 433.9,808.5 434.3,808.0 434.6,807.5 435.0,808.9 435.3,807.2 435.6,807.2 436.0,807.6 436.3,808.3 436.7,808.8 437.0,807.0 437.4,807.9 437.7,807.8 438.0,807.8 438.4,807.7 438.7,806.0 439.1,805.7 439.4,807.5 439.8,807.9 440.1,806.5 440.4,806.8 440.8,807.6 441.1,807.7 441.5,806.6 441.8,807.0 442.2,807.0 442.5,804.6 442.8,805.8 443.2,807.0 443.5,806.5 443.9,807.4 444.2,807.4 444.6,807.2 444.9,807.7 445.2,806.8 445.6,806.7 445.9,806.7 446.3,806.1 446.6,805.7 447.0,806.4 447.3,805.7 447.6,805.3 448.0,806.4 448.3,805.8 448.7,806.9 449.0,807.4 449.4,806.7 449.7,805.8 450.0,804.6 450.4,805.6 450.7,805.2 451.1,806.7 451.4,806.1 451.8,805.2 452.1,806.1 452.4,805.9 452.8,805.7 453.1,804.6 453.5,806.2 453.8,806.5 454.2,805.6 454.5,805.1 454.8,805.3 455.2,805.9 455.5,805.7 455.9,804.2 456.2,805.3 456.6,804.8 456.9,804.4 457.2,805.7 457.6,805.8 457.9,805.0 458.3,805.2 458.6,805.1 459.0,805.5 459.3,805.3 459.6,805.2 460.0,803.9 460.3,804.3 460.7,804.5 461.0,803.8 461.4,804.1 461.7,804.4 462.0,804.0 462.4,805.3 462.7,804.9 463.1,804.3 463.4,804.3 463.8,804.3 464.1,804.2 464.4,804.7 464.8,803.6 465.1,804.3 465.5,803.5 465.8,804.4 466.2,802.4 466.5,802.8" stroke="#f02020" stroke-width="1.15" fill="none" stroke-linejoin="round"/>
<line x1="346.50" y1="731.80" x2="346.50" y2="845.00" stroke="#222" stroke-width="1"/>
<line x1="406.50" y1="731.80" x2="406.50" y2="845.00" stroke="#222" stroke-width="1" stroke-dasharray="1.5,1.2"/>
<line x1="322.50" y1="731.80" x2="322.50" y2="845.50" stroke="#222" stroke-width="1"/>
<line x1="322.50" y1="845.00" x2="466.50" y2="845.00" stroke="#222" stroke-width="1"/>
<line x1="319.50" y1="731.80" x2="322.50" y2="731.80" stroke="#222" stroke-width="1"/>
<text x="318.30" y="735.10" font-size="10.9" text-anchor="end" fill="#111">8</text>
<line x1="319.50" y1="747.90" x2="322.50" y2="747.90" stroke="#222" stroke-width="1"/>
<text x="318.30" y="751.20" font-size="10.9" text-anchor="end" fill="#111">6</text>
<line x1="319.50" y1="764.00" x2="322.50" y2="764.00" stroke="#222" stroke-width="1"/>
<text x="318.30" y="767.30" font-size="10.9" text-anchor="end" fill="#111">4</text>
<line x1="319.50" y1="780.10" x2="322.50" y2="780.10" stroke="#222" stroke-width="1"/>
<text x="318.30" y="783.40" font-size="10.9" text-anchor="end" fill="#111">2</text>
<line x1="319.50" y1="796.20" x2="322.50" y2="796.20" stroke="#222" stroke-width="1"/>
<text x="318.30" y="799.50" font-size="10.9" text-anchor="end" fill="#111">0</text>
<line x1="319.50" y1="812.30" x2="322.50" y2="812.30" stroke="#222" stroke-width="1"/>
<text x="318.30" y="815.60" font-size="10.9" text-anchor="end" fill="#111">-2</text>
<line x1="319.50" y1="828.40" x2="322.50" y2="828.40" stroke="#222" stroke-width="1"/>
<text x="318.30" y="831.70" font-size="10.9" text-anchor="end" fill="#111">-4</text>
<line x1="319.50" y1="844.50" x2="322.50" y2="844.50" stroke="#222" stroke-width="1"/>
<text x="318.30" y="847.80" font-size="10.9" text-anchor="end" fill="#111">-6</text>
<line x1="322.50" y1="845.00" x2="322.50" y2="848.00" stroke="#333" stroke-width="1"/>
<text x="322.50" y="858.40" font-size="10.9" text-anchor="middle" fill="#111">-2</text>
<line x1="346.50" y1="845.00" x2="346.50" y2="848.00" stroke="#333" stroke-width="1"/>
<text x="346.50" y="858.40" font-size="10.9" text-anchor="middle" fill="#111">0</text>
<line x1="370.50" y1="845.00" x2="370.50" y2="848.00" stroke="#333" stroke-width="1"/>
<text x="370.50" y="858.40" font-size="10.9" text-anchor="middle" fill="#111">2</text>
<line x1="394.50" y1="845.00" x2="394.50" y2="848.00" stroke="#333" stroke-width="1"/>
<text x="394.50" y="858.40" font-size="10.9" text-anchor="middle" fill="#111">4</text>
<line x1="418.50" y1="845.00" x2="418.50" y2="848.00" stroke="#333" stroke-width="1"/>
<text x="418.50" y="858.40" font-size="10.9" text-anchor="middle" fill="#111">6</text>
<line x1="442.50" y1="845.00" x2="442.50" y2="848.00" stroke="#333" stroke-width="1"/>
<text x="442.50" y="858.40" font-size="10.9" text-anchor="middle" fill="#111">8</text>
<text x="396.20" y="870.00" font-size="11.6" text-anchor="middle" fill="#111">time from stimulation onset (s)</text>
<polyline points="232.3,452.7 254.7,395.0 276.9,399.3" stroke="#c6dde3" stroke-width="0.6" fill="none"/>
<polyline points="236.4,455.6 251.0,405.6 274.4,405.6" stroke="#c6dde3" stroke-width="0.6" fill="none"/>
<polyline points="238.9,453.2 257.9,405.6 270.0,411.4" stroke="#c6dde3" stroke-width="0.6" fill="none"/>
<polyline points="234.5,456.5 254.7,412.9 276.9,413.8" stroke="#c6dde3" stroke-width="0.6" fill="none"/>
<polyline points="237.4,455.3 254.7,434.1 273.6,431.4" stroke="#c6dde3" stroke-width="0.6" fill="none"/>
<rect x="229.60" y="454.60" width="12.80" height="0.97" fill="#074f63" stroke="#111" stroke-width="0.8"/>
<rect x="248.10" y="410.92" width="12.80" height="43.68" fill="#074f63" stroke="#111" stroke-width="0.8"/>
<rect x="267.00" y="412.13" width="12.80" height="42.47" fill="#074f63" stroke="#111" stroke-width="0.8"/>
<line x1="226.50" y1="454.60" x2="284.00" y2="454.60" stroke="#111" stroke-width="1" stroke-dasharray="1.2,1.2"/>
<circle cx="232.30" cy="452.67" r="2.2" fill="#074f63" stroke="#111" stroke-width="0.7"/>
<circle cx="236.40" cy="455.57" r="2.2" fill="#074f63" stroke="#111" stroke-width="0.7"/>
<circle cx="238.90" cy="453.15" r="2.2" fill="#074f63" stroke="#111" stroke-width="0.7"/>
<circle cx="234.50" cy="456.53" r="2.2" fill="#074f63" stroke="#111" stroke-width="0.7"/>
<circle cx="237.40" cy="455.32" r="2.2" fill="#074f63" stroke="#111" stroke-width="0.7"/>
<circle cx="254.70" cy="395.00" r="2.2" fill="#074f63" stroke="#111" stroke-width="0.7"/>
<circle cx="251.00" cy="405.62" r="2.2" fill="#074f63" stroke="#111" stroke-width="0.7"/>
<circle cx="257.90" cy="405.62" r="2.2" fill="#074f63" stroke="#111" stroke-width="0.7"/>
<circle cx="254.70" cy="412.86" r="2.2" fill="#074f63" stroke="#111" stroke-width="0.7"/>
<circle cx="254.70" cy="434.09" r="2.2" fill="#074f63" stroke="#111" stroke-width="0.7"/>
<circle cx="276.90" cy="399.34" r="2.2" fill="#074f63" stroke="#111" stroke-width="0.7"/>
<circle cx="274.40" cy="405.62" r="2.2" fill="#074f63" stroke="#111" stroke-width="0.7"/>
<circle cx="270.00" cy="411.41" r="2.2" fill="#074f63" stroke="#111" stroke-width="0.7"/>
<circle cx="276.90" cy="413.82" r="2.2" fill="#074f63" stroke="#111" stroke-width="0.7"/>
<circle cx="273.60" cy="431.44" r="2.2" fill="#074f63" stroke="#111" stroke-width="0.7"/>
<line x1="236.00" y1="455.57" x2="236.00" y2="456.31" stroke="#111" stroke-width="0.9"/>
<line x1="236.00" y1="455.57" x2="236.00" y2="454.82" stroke="#111" stroke-width="0.9"/>
<line x1="234.20" y1="456.31" x2="237.80" y2="456.31" stroke="#111" stroke-width="0.8"/>
<line x1="254.50" y1="410.92" x2="254.50" y2="404.41" stroke="#111" stroke-width="0.9"/>
<line x1="254.50" y1="410.92" x2="254.50" y2="417.44" stroke="#111" stroke-width="0.9"/>
<line x1="252.70" y1="404.41" x2="256.30" y2="404.41" stroke="#111" stroke-width="0.8"/>
<line x1="273.40" y1="412.13" x2="273.40" y2="406.74" stroke="#111" stroke-width="0.9"/>
<line x1="273.40" y1="412.13" x2="273.40" y2="417.52" stroke="#111" stroke-width="0.9"/>
<line x1="271.60" y1="406.74" x2="275.20" y2="406.74" stroke="#111" stroke-width="0.8"/>
<line x1="226.50" y1="382.21" x2="226.50" y2="466.67" stroke="#222" stroke-width="1"/>
<line x1="223.50" y1="454.60" x2="226.50" y2="454.60" stroke="#222" stroke-width="1"/>
<text x="222.50" y="457.70" font-size="10.9" text-anchor="end" fill="#111">0</text>
<line x1="223.50" y1="430.47" x2="226.50" y2="430.47" stroke="#222" stroke-width="1"/>
<text x="222.50" y="433.57" font-size="10.9" text-anchor="end" fill="#111">10</text>
<line x1="223.50" y1="406.34" x2="226.50" y2="406.34" stroke="#222" stroke-width="1"/>
<text x="222.50" y="409.44" font-size="10.9" text-anchor="end" fill="#111">20</text>
<line x1="223.50" y1="382.21" x2="226.50" y2="382.21" stroke="#222" stroke-width="1"/>
<text x="222.50" y="385.31" font-size="10.9" text-anchor="end" fill="#111">30</text>
<text x="203.20" y="424.44" font-size="11.3" text-anchor="middle" fill="#111" transform="rotate(-90 203.20 424.44)">z-score</text>
<text x="238.90" y="468.37" font-size="11.3" text-anchor="end" fill="#111" transform="rotate(-45 238.90 468.37)">pre</text>
<text x="259.60" y="468.37" font-size="11.3" text-anchor="end" fill="#111" transform="rotate(-45 259.60 468.37)">early</text>
<text x="278.60" y="468.37" font-size="11.3" text-anchor="end" fill="#111" transform="rotate(-45 278.60 468.37)">late</text>
<line x1="236.40" y1="389.20" x2="254.70" y2="389.20" stroke="#222" stroke-width="1"/>
<text x="245.55" y="392.20" font-size="14" text-anchor="middle" fill="#222">**</text>
<line x1="236.60" y1="377.00" x2="271.80" y2="377.00" stroke="#777" stroke-width="1"/>
<text x="254.20" y="380.00" font-size="14" text-anchor="middle" fill="#222">**</text>
<polyline points="501.6,456.4 524.7,426.0 540.0,447.6" stroke="#cfcfcf" stroke-width="0.6" fill="none"/>
<polyline points="503.8,458.1 524.7,434.8 543.9,446.2" stroke="#cfcfcf" stroke-width="0.6" fill="none"/>
<polyline points="506.4,454.9 518.8,439.6 542.9,449.1" stroke="#cfcfcf" stroke-width="0.6" fill="none"/>
<polyline points="508.9,457.6 529.8,440.3 546.1,448.9" stroke="#cfcfcf" stroke-width="0.6" fill="none"/>
<polyline points="511.1,457.8 524.7,443.3 541.8,450.6" stroke="#cfcfcf" stroke-width="0.6" fill="none"/>
<rect x="499.80" y="455.90" width="12.80" height="1.21" fill="#1ba0bf" stroke="#111" stroke-width="0.8"/>
<rect x="518.10" y="436.22" width="12.80" height="19.68" fill="#1ba0bf" stroke="#111" stroke-width="0.8"/>
<rect x="536.40" y="448.00" width="12.80" height="7.90" fill="#1ba0bf" stroke="#111" stroke-width="0.8"/>
<line x1="495.50" y1="455.90" x2="554.60" y2="455.90" stroke="#111" stroke-width="1" stroke-dasharray="1.2,1.2"/>
<circle cx="501.60" cy="456.39" r="2.2" fill="#1ba0bf" stroke="#111" stroke-width="0.7"/>
<circle cx="503.80" cy="458.09" r="2.2" fill="#1ba0bf" stroke="#111" stroke-width="0.7"/>
<circle cx="506.40" cy="454.93" r="2.2" fill="#1ba0bf" stroke="#111" stroke-width="0.7"/>
<circle cx="508.90" cy="457.60" r="2.2" fill="#1ba0bf" stroke="#111" stroke-width="0.7"/>
<circle cx="511.10" cy="457.84" r="2.2" fill="#1ba0bf" stroke="#111" stroke-width="0.7"/>
<circle cx="524.70" cy="426.01" r="2.2" fill="#1ba0bf" stroke="#111" stroke-width="0.7"/>
<circle cx="524.70" cy="434.76" r="2.2" fill="#1ba0bf" stroke="#111" stroke-width="0.7"/>
<circle cx="518.80" cy="439.62" r="2.2" fill="#1ba0bf" stroke="#111" stroke-width="0.7"/>
<circle cx="529.80" cy="440.35" r="2.2" fill="#1ba0bf" stroke="#111" stroke-width="0.7"/>
<circle cx="524.70" cy="443.26" r="2.2" fill="#1ba0bf" stroke="#111" stroke-width="0.7"/>
<circle cx="540.00" cy="447.64" r="2.2" fill="#1ba0bf" stroke="#111" stroke-width="0.7"/>
<circle cx="543.90" cy="446.18" r="2.2" fill="#1ba0bf" stroke="#111" stroke-width="0.7"/>
<circle cx="542.90" cy="449.10" r="2.2" fill="#1ba0bf" stroke="#111" stroke-width="0.7"/>
<circle cx="546.10" cy="448.85" r="2.2" fill="#1ba0bf" stroke="#111" stroke-width="0.7"/>
<circle cx="541.80" cy="450.55" r="2.2" fill="#1ba0bf" stroke="#111" stroke-width="0.7"/>
<line x1="506.20" y1="457.11" x2="506.20" y2="457.70" stroke="#111" stroke-width="0.9"/>
<line x1="506.20" y1="457.11" x2="506.20" y2="456.53" stroke="#111" stroke-width="0.9"/>
<line x1="504.40" y1="457.70" x2="508.00" y2="457.70" stroke="#111" stroke-width="0.8"/>
<line x1="524.50" y1="436.22" x2="524.50" y2="433.19" stroke="#111" stroke-width="0.9"/>
<line x1="524.50" y1="436.22" x2="524.50" y2="439.24" stroke="#111" stroke-width="0.9"/>
<line x1="522.70" y1="433.19" x2="526.30" y2="433.19" stroke="#111" stroke-width="0.8"/>
<line x1="542.80" y1="448.00" x2="542.80" y2="447.27" stroke="#111" stroke-width="0.9"/>
<line x1="542.80" y1="448.00" x2="542.80" y2="448.74" stroke="#111" stroke-width="0.9"/>
<line x1="541.00" y1="447.27" x2="544.60" y2="447.27" stroke="#111" stroke-width="0.8"/>
<line x1="495.50" y1="383.00" x2="495.50" y2="468.05" stroke="#222" stroke-width="1"/>
<line x1="492.50" y1="455.90" x2="495.50" y2="455.90" stroke="#222" stroke-width="1"/>
<text x="491.50" y="459.00" font-size="10.9" text-anchor="end" fill="#111">0</text>
<line x1="492.50" y1="431.60" x2="495.50" y2="431.60" stroke="#222" stroke-width="1"/>
<text x="491.50" y="434.70" font-size="10.9" text-anchor="end" fill="#111">10</text>
<line x1="492.50" y1="407.30" x2="495.50" y2="407.30" stroke="#222" stroke-width="1"/>
<text x="491.50" y="410.40" font-size="10.9" text-anchor="end" fill="#111">20</text>
<line x1="492.50" y1="383.00" x2="495.50" y2="383.00" stroke="#222" stroke-width="1"/>
<text x="491.50" y="386.10" font-size="10.9" text-anchor="end" fill="#111">30</text>
<text x="508.50" y="468.65" font-size="11.3" text-anchor="end" fill="#111" transform="rotate(-45 508.50 468.65)">pre</text>
<text x="530.30" y="468.65" font-size="11.3" text-anchor="end" fill="#111" transform="rotate(-45 530.30 468.65)">early</text>
<text x="548.00" y="468.05" font-size="11.3" text-anchor="end" fill="#111" transform="rotate(-45 548.00 468.05)">late</text>
<line x1="504.00" y1="402.30" x2="545.80" y2="402.30" stroke="#222" stroke-width="1"/>
<text x="524.90" y="405.30" font-size="14" text-anchor="middle" fill="#222">**</text>
<line x1="504.00" y1="412.00" x2="525.70" y2="412.00" stroke="#222" stroke-width="1"/>
<text x="514.85" y="415.00" font-size="14" text-anchor="middle" fill="#222">**</text>
<line x1="527.00" y1="415.80" x2="547.60" y2="415.80" stroke="#777" stroke-width="1"/>
<text x="537.30" y="418.80" font-size="14" text-anchor="middle" fill="#222">*</text>
<polyline points="232.4,621.5 252.5,580.8 273.6,577.0" stroke="#cfcfcf" stroke-width="0.6" fill="none"/>
<polyline points="234.6,621.1 256.2,579.1 275.1,577.4" stroke="#cfcfcf" stroke-width="0.6" fill="none"/>
<polyline points="237.3,620.3 254.4,582.5 271.1,593.5" stroke="#cfcfcf" stroke-width="0.6" fill="none"/>
<polyline points="240.3,622.4 253.2,589.3 276.0,593.9" stroke="#cfcfcf" stroke-width="0.6" fill="none"/>
<polyline points="237.3,627.0 258.2,591.8 273.3,605.4" stroke="#cfcfcf" stroke-width="0.6" fill="none"/>
<polyline points="233.6,623.2 255.5,599.5 273.3,628.3" stroke="#cfcfcf" stroke-width="0.6" fill="none"/>
<polyline points="238.6,623.7 255.2,615.6 272.6,595.2" stroke="#cfcfcf" stroke-width="0.6" fill="none"/>
<polyline points="235.6,622.0 254.0,592.2 274.5,594.8" stroke="#cfcfcf" stroke-width="0.6" fill="none"/>
<polyline points="238.1,622.8 256.7,590.5 272.1,592.7" stroke="#cfcfcf" stroke-width="0.6" fill="none"/>
<rect x="230.20" y="622.38" width="12.80" height="2.12" fill="#0b5c11" stroke="#111" stroke-width="0.8"/>
<rect x="249.00" y="591.39" width="12.80" height="33.11" fill="#0b5c11" stroke="#111" stroke-width="0.8"/>
<rect x="266.90" y="595.21" width="12.80" height="29.29" fill="#0b5c11" stroke="#111" stroke-width="0.8"/>
<line x1="226.50" y1="624.50" x2="284.50" y2="624.50" stroke="#111" stroke-width="1" stroke-dasharray="1.2,1.2"/>
<circle cx="232.40" cy="621.53" r="2.2" fill="#0b5c11" stroke="#111" stroke-width="0.7"/>
<circle cx="234.60" cy="621.10" r="2.2" fill="#0b5c11" stroke="#111" stroke-width="0.7"/>
<circle cx="237.30" cy="620.25" r="2.2" fill="#0b5c11" stroke="#111" stroke-width="0.7"/>
<circle cx="240.30" cy="622.38" r="2.2" fill="#0b5c11" stroke="#111" stroke-width="0.7"/>
<circle cx="237.30" cy="627.05" r="2.2" fill="#0b5c11" stroke="#111" stroke-width="0.7"/>
<circle cx="233.60" cy="623.23" r="2.2" fill="#0b5c11" stroke="#111" stroke-width="0.7"/>
<circle cx="238.60" cy="623.65" r="2.2" fill="#0b5c11" stroke="#111" stroke-width="0.7"/>
<circle cx="235.60" cy="621.95" r="2.2" fill="#0b5c11" stroke="#111" stroke-width="0.7"/>
<circle cx="238.10" cy="622.80" r="2.2" fill="#0b5c11" stroke="#111" stroke-width="0.7"/>
<circle cx="252.50" cy="580.78" r="2.2" fill="#0b5c11" stroke="#111" stroke-width="0.7"/>
<circle cx="256.20" cy="579.08" r="2.2" fill="#0b5c11" stroke="#111" stroke-width="0.7"/>
<circle cx="254.40" cy="582.47" r="2.2" fill="#0b5c11" stroke="#111" stroke-width="0.7"/>
<circle cx="253.20" cy="589.27" r="2.2" fill="#0b5c11" stroke="#111" stroke-width="0.7"/>
<circle cx="258.20" cy="591.81" r="2.2" fill="#0b5c11" stroke="#111" stroke-width="0.7"/>
<circle cx="255.50" cy="599.45" r="2.2" fill="#0b5c11" stroke="#111" stroke-width="0.7"/>
<circle cx="255.20" cy="615.59" r="2.2" fill="#0b5c11" stroke="#111" stroke-width="0.7"/>
<circle cx="254.00" cy="592.24" r="2.2" fill="#0b5c11" stroke="#111" stroke-width="0.7"/>
<circle cx="256.70" cy="590.54" r="2.2" fill="#0b5c11" stroke="#111" stroke-width="0.7"/>
<circle cx="273.60" cy="576.96" r="2.2" fill="#0b5c11" stroke="#111" stroke-width="0.7"/>
<circle cx="275.10" cy="577.38" r="2.2" fill="#0b5c11" stroke="#111" stroke-width="0.7"/>
<circle cx="271.10" cy="593.51" r="2.2" fill="#0b5c11" stroke="#111" stroke-width="0.7"/>
<circle cx="276.00" cy="593.94" r="2.2" fill="#0b5c11" stroke="#111" stroke-width="0.7"/>
<circle cx="273.30" cy="605.40" r="2.2" fill="#0b5c11" stroke="#111" stroke-width="0.7"/>
<circle cx="273.30" cy="628.32" r="2.2" fill="#0b5c11" stroke="#111" stroke-width="0.7"/>
<circle cx="272.60" cy="595.21" r="2.2" fill="#0b5c11" stroke="#111" stroke-width="0.7"/>
<circle cx="274.50" cy="594.78" r="2.2" fill="#0b5c11" stroke="#111" stroke-width="0.7"/>
<circle cx="272.10" cy="592.66" r="2.2" fill="#0b5c11" stroke="#111" stroke-width="0.7"/>
<line x1="236.60" y1="622.38" x2="236.60" y2="621.73" stroke="#111" stroke-width="0.9"/>
<line x1="236.60" y1="622.38" x2="236.60" y2="623.03" stroke="#111" stroke-width="0.9"/>
<line x1="234.80" y1="621.73" x2="238.40" y2="621.73" stroke="#111" stroke-width="0.8"/>
<line x1="255.40" y1="591.39" x2="255.40" y2="587.66" stroke="#111" stroke-width="0.9"/>
<line x1="255.40" y1="591.39" x2="255.40" y2="595.12" stroke="#111" stroke-width="0.9"/>
<line x1="253.60" y1="587.66" x2="257.20" y2="587.66" stroke="#111" stroke-width="0.8"/>
<line x1="273.30" y1="595.21" x2="273.30" y2="590.12" stroke="#111" stroke-width="0.9"/>
<line x1="273.30" y1="595.21" x2="273.30" y2="600.30" stroke="#111" stroke-width="0.9"/>
<line x1="271.50" y1="590.12" x2="275.10" y2="590.12" stroke="#111" stroke-width="0.8"/>
<line x1="226.50" y1="560.83" x2="226.50" y2="645.73" stroke="#222" stroke-width="1"/>
<line x1="223.50" y1="645.73" x2="226.50" y2="645.73" stroke="#222" stroke-width="1"/>
<text x="222.50" y="648.83" font-size="10.9" text-anchor="end" fill="#111">-5</text>
<line x1="223.50" y1="624.50" x2="226.50" y2="624.50" stroke="#222" stroke-width="1"/>
<text x="222.50" y="627.60" font-size="10.9" text-anchor="end" fill="#111">0</text>
<line x1="223.50" y1="603.27" x2="226.50" y2="603.27" stroke="#222" stroke-width="1"/>
<text x="222.50" y="606.38" font-size="10.9" text-anchor="end" fill="#111">5</text>
<line x1="223.50" y1="582.05" x2="226.50" y2="582.05" stroke="#222" stroke-width="1"/>
<text x="222.50" y="585.15" font-size="10.9" text-anchor="end" fill="#111">10</text>
<line x1="223.50" y1="560.83" x2="226.50" y2="560.83" stroke="#222" stroke-width="1"/>
<text x="222.50" y="563.93" font-size="10.9" text-anchor="end" fill="#111">15</text>
<text x="209.50" y="603.28" font-size="11.3" text-anchor="middle" fill="#111" transform="rotate(-90 209.50 603.28)">z-score</text>
<text x="241.00" y="644.23" font-size="11.3" text-anchor="end" fill="#111" transform="rotate(-45 241.00 644.23)">pre</text>
<text x="259.30" y="644.23" font-size="11.3" text-anchor="end" fill="#111" transform="rotate(-45 259.30 644.23)">early</text>
<text x="277.20" y="644.23" font-size="11.3" text-anchor="end" fill="#111" transform="rotate(-45 277.20 644.23)">late</text>
<line x1="236.00" y1="561.30" x2="271.00" y2="561.30" stroke="#222" stroke-width="1"/>
<text x="253.50" y="564.30" font-size="14" text-anchor="middle" fill="#222">**</text>
<line x1="236.00" y1="573.00" x2="253.70" y2="573.00" stroke="#222" stroke-width="1"/>
<text x="244.85" y="576.00" font-size="14" text-anchor="middle" fill="#222">***</text>
<polyline points="506.9,617.5 525.5,593.4 543.8,606.9" stroke="#cfcfcf" stroke-width="0.6" fill="none"/>
<polyline points="510.6,617.9 525.5,602.7 540.4,618.8" stroke="#cfcfcf" stroke-width="0.6" fill="none"/>
<polyline points="512.8,620.9 522.5,608.6 546.3,618.4" stroke="#cfcfcf" stroke-width="0.6" fill="none"/>
<polyline points="504.6,623.4 527.7,608.6 543.0,620.0" stroke="#cfcfcf" stroke-width="0.6" fill="none"/>
<polyline points="508.4,621.7 521.0,611.2 543.8,626.0" stroke="#cfcfcf" stroke-width="0.6" fill="none"/>
<polyline points="507.6,626.4 526.2,613.3 544.4,633.1" stroke="#cfcfcf" stroke-width="0.6" fill="none"/>
<polyline points="510.3,624.3 529.9,610.3 545.6,633.6" stroke="#cfcfcf" stroke-width="0.6" fill="none"/>
<polyline points="503.2,621.3 524.3,609.5 541.5,619.6" stroke="#cfcfcf" stroke-width="0.6" fill="none"/>
<polyline points="509.1,622.2 528.5,612.0 544.8,617.9" stroke="#cfcfcf" stroke-width="0.6" fill="none"/>
<rect x="500.90" y="621.73" width="12.80" height="1.27" fill="#11a011" stroke="#111" stroke-width="0.8"/>
<rect x="519.30" y="607.78" width="12.80" height="15.22" fill="#11a011" stroke="#111" stroke-width="0.8"/>
<rect x="537.30" y="621.73" width="12.80" height="1.27" fill="#11a011" stroke="#111" stroke-width="0.8"/>
<line x1="495.50" y1="623.00" x2="554.60" y2="623.00" stroke="#111" stroke-width="1" stroke-dasharray="1.2,1.2"/>
<circle cx="506.90" cy="617.50" r="2.2" fill="#11a011" stroke="#111" stroke-width="0.7"/>
<circle cx="510.60" cy="617.93" r="2.2" fill="#11a011" stroke="#111" stroke-width="0.7"/>
<circle cx="512.80" cy="620.89" r="2.2" fill="#11a011" stroke="#111" stroke-width="0.7"/>
<circle cx="504.60" cy="623.42" r="2.2" fill="#11a011" stroke="#111" stroke-width="0.7"/>
<circle cx="508.40" cy="621.73" r="2.2" fill="#11a011" stroke="#111" stroke-width="0.7"/>
<circle cx="507.60" cy="626.38" r="2.2" fill="#11a011" stroke="#111" stroke-width="0.7"/>
<circle cx="510.30" cy="624.27" r="2.2" fill="#11a011" stroke="#111" stroke-width="0.7"/>
<circle cx="503.20" cy="621.31" r="2.2" fill="#11a011" stroke="#111" stroke-width="0.7"/>
<circle cx="509.10" cy="622.15" r="2.2" fill="#11a011" stroke="#111" stroke-width="0.7"/>
<circle cx="525.50" cy="593.41" r="2.2" fill="#11a011" stroke="#111" stroke-width="0.7"/>
<circle cx="525.50" cy="602.71" r="2.2" fill="#11a011" stroke="#111" stroke-width="0.7"/>
<circle cx="522.50" cy="608.63" r="2.2" fill="#11a011" stroke="#111" stroke-width="0.7"/>
<circle cx="527.70" cy="608.63" r="2.2" fill="#11a011" stroke="#111" stroke-width="0.7"/>
<circle cx="521.00" cy="611.16" r="2.2" fill="#11a011" stroke="#111" stroke-width="0.7"/>
<circle cx="526.20" cy="613.28" r="2.2" fill="#11a011" stroke="#111" stroke-width="0.7"/>
<circle cx="529.90" cy="610.32" r="2.2" fill="#11a011" stroke="#111" stroke-width="0.7"/>
<circle cx="524.30" cy="609.47" r="2.2" fill="#11a011" stroke="#111" stroke-width="0.7"/>
<circle cx="528.50" cy="612.01" r="2.2" fill="#11a011" stroke="#111" stroke-width="0.7"/>
<circle cx="543.80" cy="606.94" r="2.2" fill="#11a011" stroke="#111" stroke-width="0.7"/>
<circle cx="540.40" cy="618.77" r="2.2" fill="#11a011" stroke="#111" stroke-width="0.7"/>
<circle cx="546.30" cy="618.35" r="2.2" fill="#11a011" stroke="#111" stroke-width="0.7"/>
<circle cx="543.00" cy="620.04" r="2.2" fill="#11a011" stroke="#111" stroke-width="0.7"/>
<circle cx="543.80" cy="625.96" r="2.2" fill="#11a011" stroke="#111" stroke-width="0.7"/>
<circle cx="544.40" cy="633.14" r="2.2" fill="#11a011" stroke="#111" stroke-width="0.7"/>
<circle cx="545.60" cy="633.57" r="2.2" fill="#11a011" stroke="#111" stroke-width="0.7"/>
<circle cx="541.50" cy="619.62" r="2.2" fill="#11a011" stroke="#111" stroke-width="0.7"/>
<circle cx="544.80" cy="617.93" r="2.2" fill="#11a011" stroke="#111" stroke-width="0.7"/>
<line x1="507.30" y1="621.73" x2="507.30" y2="620.79" stroke="#111" stroke-width="0.9"/>
<line x1="507.30" y1="621.73" x2="507.30" y2="622.68" stroke="#111" stroke-width="0.9"/>
<line x1="505.50" y1="620.79" x2="509.10" y2="620.79" stroke="#111" stroke-width="0.8"/>
<line x1="525.70" y1="607.78" x2="525.70" y2="605.73" stroke="#111" stroke-width="0.9"/>
<line x1="525.70" y1="607.78" x2="525.70" y2="609.83" stroke="#111" stroke-width="0.9"/>
<line x1="523.90" y1="605.73" x2="527.50" y2="605.73" stroke="#111" stroke-width="0.8"/>
<line x1="543.70" y1="621.73" x2="543.70" y2="618.97" stroke="#111" stroke-width="0.9"/>
<line x1="543.70" y1="621.73" x2="543.70" y2="624.49" stroke="#111" stroke-width="0.9"/>
<line x1="541.90" y1="618.97" x2="545.50" y2="618.97" stroke="#111" stroke-width="0.8"/>
<line x1="495.50" y1="559.60" x2="495.50" y2="644.13" stroke="#222" stroke-width="1"/>
<line x1="492.50" y1="644.13" x2="495.50" y2="644.13" stroke="#222" stroke-width="1"/>
<text x="491.50" y="647.24" font-size="10.9" text-anchor="end" fill="#111">-5</text>
<line x1="492.50" y1="623.00" x2="495.50" y2="623.00" stroke="#222" stroke-width="1"/>
<text x="491.50" y="626.10" font-size="10.9" text-anchor="end" fill="#111">0</text>
<line x1="492.50" y1="601.87" x2="495.50" y2="601.87" stroke="#222" stroke-width="1"/>
<text x="491.50" y="604.97" font-size="10.9" text-anchor="end" fill="#111">5</text>
<line x1="492.50" y1="580.73" x2="495.50" y2="580.73" stroke="#222" stroke-width="1"/>
<text x="491.50" y="583.83" font-size="10.9" text-anchor="end" fill="#111">10</text>
<line x1="492.50" y1="559.60" x2="495.50" y2="559.60" stroke="#222" stroke-width="1"/>
<text x="491.50" y="562.70" font-size="10.9" text-anchor="end" fill="#111">15</text>
<text x="511.90" y="644.24" font-size="11.3" text-anchor="end" fill="#111" transform="rotate(-45 511.90 644.24)">pre</text>
<text x="532.00" y="644.24" font-size="11.3" text-anchor="end" fill="#111" transform="rotate(-45 532.00 644.24)">early</text>
<text x="550.90" y="644.74" font-size="11.3" text-anchor="end" fill="#111" transform="rotate(-45 550.90 644.74)">late</text>
<line x1="505.40" y1="584.30" x2="524.70" y2="584.30" stroke="#222" stroke-width="1"/>
<text x="515.05" y="587.30" font-size="14" text-anchor="middle" fill="#222">**</text>
<line x1="525.20" y1="578.40" x2="544.00" y2="578.40" stroke="#222" stroke-width="1"/>
<text x="534.60" y="581.40" font-size="14" text-anchor="middle" fill="#222">**</text>
<polyline points="233.9,801.1 254.4,754.4 268.1,816.6" stroke="#cfcfcf" stroke-width="0.6" fill="none"/>
<polyline points="237.9,800.2 254.4,784.4 274.8,816.6" stroke="#cfcfcf" stroke-width="0.6" fill="none"/>
<polyline points="237.3,806.4 251.0,789.5 271.8,825.1" stroke="#cfcfcf" stroke-width="0.6" fill="none"/>
<polyline points="235.8,811.0 257.7,792.3 271.5,830.8" stroke="#cfcfcf" stroke-width="0.6" fill="none"/>
<polyline points="235.1,805.9 254.4,817.2 270.4,818.3" stroke="#cfcfcf" stroke-width="0.6" fill="none"/>
<rect x="229.90" y="804.17" width="12.80" height="1.13" fill="#540000" stroke="#111" stroke-width="0.8"/>
<rect x="248.00" y="787.19" width="12.80" height="18.11" fill="#540000" stroke="#111" stroke-width="0.8"/>
<rect x="265.20" y="805.30" width="12.80" height="16.41" fill="#540000" stroke="#111" stroke-width="0.8"/>
<line x1="225.50" y1="805.30" x2="284.50" y2="805.30" stroke="#111" stroke-width="1" stroke-dasharray="1.2,1.2"/>
<circle cx="233.90" cy="801.05" r="2.2" fill="#540000" stroke="#111" stroke-width="0.7"/>
<circle cx="237.90" cy="800.21" r="2.2" fill="#540000" stroke="#111" stroke-width="0.7"/>
<circle cx="237.30" cy="806.43" r="2.2" fill="#540000" stroke="#111" stroke-width="0.7"/>
<circle cx="235.80" cy="810.96" r="2.2" fill="#540000" stroke="#111" stroke-width="0.7"/>
<circle cx="235.10" cy="805.87" r="2.2" fill="#540000" stroke="#111" stroke-width="0.7"/>
<circle cx="254.40" cy="754.36" r="2.2" fill="#540000" stroke="#111" stroke-width="0.7"/>
<circle cx="254.40" cy="784.36" r="2.2" fill="#540000" stroke="#111" stroke-width="0.7"/>
<circle cx="251.00" cy="789.45" r="2.2" fill="#540000" stroke="#111" stroke-width="0.7"/>
<circle cx="257.70" cy="792.28" r="2.2" fill="#540000" stroke="#111" stroke-width="0.7"/>
<circle cx="254.40" cy="817.19" r="2.2" fill="#540000" stroke="#111" stroke-width="0.7"/>
<circle cx="268.10" cy="816.62" r="2.2" fill="#540000" stroke="#111" stroke-width="0.7"/>
<circle cx="274.80" cy="816.62" r="2.2" fill="#540000" stroke="#111" stroke-width="0.7"/>
<circle cx="271.80" cy="825.11" r="2.2" fill="#540000" stroke="#111" stroke-width="0.7"/>
<circle cx="271.50" cy="830.77" r="2.2" fill="#540000" stroke="#111" stroke-width="0.7"/>
<circle cx="270.40" cy="818.32" r="2.2" fill="#540000" stroke="#111" stroke-width="0.7"/>
<line x1="236.30" y1="804.17" x2="236.30" y2="802.21" stroke="#111" stroke-width="0.9"/>
<line x1="236.30" y1="804.17" x2="236.30" y2="806.13" stroke="#111" stroke-width="0.9"/>
<line x1="234.50" y1="802.21" x2="238.10" y2="802.21" stroke="#111" stroke-width="0.8"/>
<line x1="254.40" y1="787.19" x2="254.40" y2="777.15" stroke="#111" stroke-width="0.9"/>
<line x1="254.40" y1="787.19" x2="254.40" y2="797.23" stroke="#111" stroke-width="0.9"/>
<line x1="252.60" y1="777.15" x2="256.20" y2="777.15" stroke="#111" stroke-width="0.8"/>
<line x1="271.60" y1="821.71" x2="271.60" y2="824.51" stroke="#111" stroke-width="0.9"/>
<line x1="271.60" y1="821.71" x2="271.60" y2="818.91" stroke="#111" stroke-width="0.9"/>
<line x1="269.80" y1="824.51" x2="273.40" y2="824.51" stroke="#111" stroke-width="0.8"/>
<line x1="225.50" y1="748.70" x2="225.50" y2="833.60" stroke="#222" stroke-width="1"/>
<line x1="222.50" y1="833.60" x2="225.50" y2="833.60" stroke="#222" stroke-width="1"/>
<text x="221.50" y="836.70" font-size="10.9" text-anchor="end" fill="#111">-5</text>
<line x1="222.50" y1="805.30" x2="225.50" y2="805.30" stroke="#222" stroke-width="1"/>
<text x="221.50" y="808.40" font-size="10.9" text-anchor="end" fill="#111">0</text>
<line x1="222.50" y1="777.00" x2="225.50" y2="777.00" stroke="#222" stroke-width="1"/>
<text x="221.50" y="780.10" font-size="10.9" text-anchor="end" fill="#111">5</text>
<line x1="222.50" y1="748.70" x2="225.50" y2="748.70" stroke="#222" stroke-width="1"/>
<text x="221.50" y="751.80" font-size="10.9" text-anchor="end" fill="#111">10</text>
<text x="214.00" y="791.15" font-size="11.3" text-anchor="middle" fill="#111" transform="rotate(-90 214.00 791.15)">z-score</text>
<text x="240.90" y="841.20" font-size="11.3" text-anchor="end" fill="#111" transform="rotate(-45 240.90 841.20)">pre</text>
<text x="260.40" y="841.20" font-size="11.3" text-anchor="end" fill="#111" transform="rotate(-45 260.40 841.20)">early</text>
<text x="276.70" y="840.70" font-size="11.3" text-anchor="end" fill="#111" transform="rotate(-45 276.70 840.70)">late</text>
<line x1="238.00" y1="748.30" x2="272.90" y2="748.30" stroke="#222" stroke-width="1"/>
<text x="255.45" y="751.30" font-size="14" text-anchor="middle" fill="#222">***</text>
<polyline points="504.9,805.9 520.7,812.9 540.1,816.0" stroke="#cfcfcf" stroke-width="0.6" fill="none"/>
<polyline points="508.4,804.5 527.3,812.9 546.3,817.4" stroke="#cfcfcf" stroke-width="0.6" fill="none"/>
<polyline points="510.2,806.7 520.2,816.0 538.9,820.8" stroke="#cfcfcf" stroke-width="0.6" fill="none"/>
<polyline points="506.7,807.3 528.3,816.8 547.1,821.9" stroke="#cfcfcf" stroke-width="0.6" fill="none"/>
<polyline points="503.1,806.7 524.3,820.8 542.7,824.1" stroke="#cfcfcf" stroke-width="0.6" fill="none"/>
<rect x="500.60" y="805.59" width="12.80" height="2.81" fill="#ee0000" stroke="#111" stroke-width="0.8"/>
<rect x="517.90" y="808.40" width="12.80" height="7.87" fill="#ee0000" stroke="#111" stroke-width="0.8"/>
<rect x="536.40" y="808.40" width="12.80" height="11.80" fill="#ee0000" stroke="#111" stroke-width="0.8"/>
<line x1="497.50" y1="808.40" x2="554.20" y2="808.40" stroke="#111" stroke-width="1" stroke-dasharray="1.2,1.2"/>
<circle cx="504.90" cy="805.87" r="2.2" fill="#ee0000" stroke="#111" stroke-width="0.7"/>
<circle cx="508.40" cy="804.47" r="2.2" fill="#ee0000" stroke="#111" stroke-width="0.7"/>
<circle cx="510.20" cy="806.71" r="2.2" fill="#ee0000" stroke="#111" stroke-width="0.7"/>
<circle cx="506.70" cy="807.28" r="2.2" fill="#ee0000" stroke="#111" stroke-width="0.7"/>
<circle cx="503.10" cy="806.71" r="2.2" fill="#ee0000" stroke="#111" stroke-width="0.7"/>
<circle cx="520.70" cy="812.90" r="2.2" fill="#ee0000" stroke="#111" stroke-width="0.7"/>
<circle cx="527.30" cy="812.90" r="2.2" fill="#ee0000" stroke="#111" stroke-width="0.7"/>
<circle cx="520.20" cy="815.99" r="2.2" fill="#ee0000" stroke="#111" stroke-width="0.7"/>
<circle cx="528.30" cy="816.83" r="2.2" fill="#ee0000" stroke="#111" stroke-width="0.7"/>
<circle cx="524.30" cy="820.76" r="2.2" fill="#ee0000" stroke="#111" stroke-width="0.7"/>
<circle cx="540.10" cy="815.99" r="2.2" fill="#ee0000" stroke="#111" stroke-width="0.7"/>
<circle cx="546.30" cy="817.39" r="2.2" fill="#ee0000" stroke="#111" stroke-width="0.7"/>
<circle cx="538.90" cy="820.76" r="2.2" fill="#ee0000" stroke="#111" stroke-width="0.7"/>
<circle cx="547.10" cy="821.89" r="2.2" fill="#ee0000" stroke="#111" stroke-width="0.7"/>
<circle cx="542.70" cy="824.14" r="2.2" fill="#ee0000" stroke="#111" stroke-width="0.7"/>
<line x1="507.00" y1="805.59" x2="507.00" y2="805.10" stroke="#111" stroke-width="0.9"/>
<line x1="507.00" y1="805.59" x2="507.00" y2="806.08" stroke="#111" stroke-width="0.9"/>
<line x1="505.20" y1="805.10" x2="508.80" y2="805.10" stroke="#111" stroke-width="0.8"/>
<line x1="524.30" y1="816.27" x2="524.30" y2="817.73" stroke="#111" stroke-width="0.9"/>
<line x1="524.30" y1="816.27" x2="524.30" y2="814.81" stroke="#111" stroke-width="0.9"/>
<line x1="522.50" y1="817.73" x2="526.10" y2="817.73" stroke="#111" stroke-width="0.8"/>
<line x1="542.80" y1="820.20" x2="542.80" y2="821.69" stroke="#111" stroke-width="0.9"/>
<line x1="542.80" y1="820.20" x2="542.80" y2="818.72" stroke="#111" stroke-width="0.9"/>
<line x1="541.00" y1="821.69" x2="544.60" y2="821.69" stroke="#111" stroke-width="0.8"/>
<line x1="497.50" y1="752.20" x2="497.50" y2="836.50" stroke="#222" stroke-width="1"/>
<line x1="494.50" y1="836.50" x2="497.50" y2="836.50" stroke="#222" stroke-width="1"/>
<text x="493.50" y="839.60" font-size="10.9" text-anchor="end" fill="#111">-5</text>
<line x1="494.50" y1="808.40" x2="497.50" y2="808.40" stroke="#222" stroke-width="1"/>
<text x="493.50" y="811.50" font-size="10.9" text-anchor="end" fill="#111">0</text>
<line x1="494.50" y1="780.30" x2="497.50" y2="780.30" stroke="#222" stroke-width="1"/>
<text x="493.50" y="783.40" font-size="10.9" text-anchor="end" fill="#111">5</text>
<line x1="494.50" y1="752.20" x2="497.50" y2="752.20" stroke="#222" stroke-width="1"/>
<text x="493.50" y="755.30" font-size="10.9" text-anchor="end" fill="#111">10</text>
<text x="509.30" y="840.00" font-size="11.3" text-anchor="end" fill="#111" transform="rotate(-45 509.30 840.00)">pre</text>
<text x="529.40" y="840.60" font-size="11.3" text-anchor="end" fill="#111" transform="rotate(-45 529.40 840.60)">early</text>
<text x="549.20" y="840.60" font-size="11.3" text-anchor="end" fill="#111" transform="rotate(-45 549.20 840.60)">late</text>
<line x1="507.90" y1="777.20" x2="543.60" y2="777.20" stroke="#222" stroke-width="1"/>
<text x="525.75" y="780.20" font-size="14" text-anchor="middle" fill="#222">**</text>
<line x1="507.90" y1="786.90" x2="525.10" y2="786.90" stroke="#222" stroke-width="1"/>
<text x="516.50" y="789.90" font-size="14" text-anchor="middle" fill="#222">**</text>
<line x1="525.50" y1="797.50" x2="543.60" y2="797.50" stroke="#777" stroke-width="1"/>
<text x="534.55" y="800.50" font-size="14" text-anchor="middle" fill="#222">*</text>
<line x1="625.06" y1="397.90" x2="639.29" y2="432.99" stroke="#c8c8c8" stroke-width="0.6"/>
<line x1="622.10" y1="410.35" x2="639.29" y2="443.18" stroke="#c8c8c8" stroke-width="0.6"/>
<line x1="627.62" y1="410.35" x2="636.63" y2="448.84" stroke="#c8c8c8" stroke-width="0.6"/>
<line x1="625.06" y1="418.84" x2="641.59" y2="449.69" stroke="#c8c8c8" stroke-width="0.6"/>
<line x1="625.06" y1="443.75" x2="639.29" y2="453.08" stroke="#c8c8c8" stroke-width="0.6"/>
<rect x="618.60" y="416.58" width="12.60" height="51.22" fill="#074f63" stroke="#111" stroke-width="0.8"/>
<rect x="632.90" y="444.88" width="12.60" height="22.92" fill="#1ba0bf" stroke="#111" stroke-width="0.8"/>
<line x1="661.20" y1="402.99" x2="671.14" y2="458.18" stroke="#c8c8c8" stroke-width="0.6"/>
<line x1="659.20" y1="410.35" x2="672.89" y2="456.48" stroke="#c8c8c8" stroke-width="0.6"/>
<line x1="655.68" y1="417.14" x2="672.44" y2="459.88" stroke="#c8c8c8" stroke-width="0.6"/>
<line x1="661.20" y1="419.97" x2="673.88" y2="459.59" stroke="#c8c8c8" stroke-width="0.6"/>
<line x1="658.56" y1="440.63" x2="671.95" y2="461.57" stroke="#c8c8c8" stroke-width="0.6"/>
<rect x="652.10" y="417.99" width="12.60" height="49.81" fill="#074f63" stroke="#111" stroke-width="0.8"/>
<rect x="666.10" y="458.60" width="12.60" height="9.20" fill="#1ba0bf" stroke="#111" stroke-width="0.8"/>
<circle cx="625.06" cy="397.90" r="1.9" fill="#074f63" stroke="#111" stroke-width="0.7"/>
<circle cx="622.10" cy="410.35" r="1.9" fill="#074f63" stroke="#111" stroke-width="0.7"/>
<circle cx="627.62" cy="410.35" r="1.9" fill="#074f63" stroke="#111" stroke-width="0.7"/>
<circle cx="625.06" cy="418.84" r="1.9" fill="#074f63" stroke="#111" stroke-width="0.7"/>
<circle cx="625.06" cy="443.75" r="1.9" fill="#074f63" stroke="#111" stroke-width="0.7"/>
<line x1="624.90" y1="424.22" x2="624.90" y2="408.93" stroke="#111" stroke-width="0.9"/>
<line x1="623.10" y1="408.93" x2="626.70" y2="408.93" stroke="#111" stroke-width="0.8"/>
<circle cx="639.29" cy="432.99" r="1.9" fill="#1ba0bf" stroke="#111" stroke-width="0.7"/>
<circle cx="639.29" cy="443.18" r="1.9" fill="#1ba0bf" stroke="#111" stroke-width="0.7"/>
<circle cx="636.63" cy="448.84" r="1.9" fill="#1ba0bf" stroke="#111" stroke-width="0.7"/>
<circle cx="641.59" cy="449.69" r="1.9" fill="#1ba0bf" stroke="#111" stroke-width="0.7"/>
<circle cx="639.29" cy="453.08" r="1.9" fill="#1ba0bf" stroke="#111" stroke-width="0.7"/>
<line x1="639.20" y1="448.40" x2="639.20" y2="441.36" stroke="#111" stroke-width="0.9"/>
<line x1="637.40" y1="441.36" x2="641.00" y2="441.36" stroke="#111" stroke-width="0.8"/>
<circle cx="661.20" cy="402.99" r="1.9" fill="#074f63" stroke="#111" stroke-width="0.7"/>
<circle cx="659.20" cy="410.35" r="1.9" fill="#074f63" stroke="#111" stroke-width="0.7"/>
<circle cx="655.68" cy="417.14" r="1.9" fill="#074f63" stroke="#111" stroke-width="0.7"/>
<circle cx="661.20" cy="419.97" r="1.9" fill="#074f63" stroke="#111" stroke-width="0.7"/>
<circle cx="658.56" cy="440.63" r="1.9" fill="#074f63" stroke="#111" stroke-width="0.7"/>
<line x1="658.40" y1="424.32" x2="658.40" y2="411.67" stroke="#111" stroke-width="0.9"/>
<line x1="656.60" y1="411.67" x2="660.20" y2="411.67" stroke="#111" stroke-width="0.8"/>
<circle cx="671.14" cy="458.18" r="1.9" fill="#1ba0bf" stroke="#111" stroke-width="0.7"/>
<circle cx="672.89" cy="456.48" r="1.9" fill="#1ba0bf" stroke="#111" stroke-width="0.7"/>
<circle cx="672.44" cy="459.88" r="1.9" fill="#1ba0bf" stroke="#111" stroke-width="0.7"/>
<circle cx="673.88" cy="459.59" r="1.9" fill="#1ba0bf" stroke="#111" stroke-width="0.7"/>
<circle cx="671.95" cy="461.57" r="1.9" fill="#1ba0bf" stroke="#111" stroke-width="0.7"/>
<line x1="672.40" y1="459.46" x2="672.40" y2="457.75" stroke="#111" stroke-width="0.9"/>
<line x1="670.60" y1="457.75" x2="674.20" y2="457.75" stroke="#111" stroke-width="0.8"/>
<line x1="614.50" y1="382.90" x2="614.50" y2="467.80" stroke="#222" stroke-width="1"/>
<line x1="611.50" y1="467.80" x2="614.50" y2="467.80" stroke="#222" stroke-width="1"/>
<text x="610.50" y="470.90" font-size="10.9" text-anchor="end" fill="#111">0</text>
<line x1="611.50" y1="439.50" x2="614.50" y2="439.50" stroke="#222" stroke-width="1"/>
<text x="610.50" y="442.60" font-size="10.9" text-anchor="end" fill="#111">10</text>
<line x1="611.50" y1="411.20" x2="614.50" y2="411.20" stroke="#222" stroke-width="1"/>
<text x="610.50" y="414.30" font-size="10.9" text-anchor="end" fill="#111">20</text>
<line x1="611.50" y1="382.90" x2="614.50" y2="382.90" stroke="#222" stroke-width="1"/>
<text x="610.50" y="386.00" font-size="10.9" text-anchor="end" fill="#111">30</text>
<text x="591.50" y="425.35" font-size="11.3" text-anchor="middle" fill="#111" transform="rotate(-90 591.50 425.35)">z-score</text>
<text x="635.70" y="479.30" font-size="11.3" text-anchor="end" fill="#111" transform="rotate(-45 635.70 479.30)">early</text>
<text x="670.00" y="479.90" font-size="11.3" text-anchor="end" fill="#111" transform="rotate(-45 670.00 479.90)">late</text>
<line x1="624.60" y1="390.00" x2="640.00" y2="390.00" stroke="#222" stroke-width="1"/>
<text x="632.30" y="388.00" font-size="9.0" text-anchor="middle" fill="#222">&&</text>
<line x1="658.60" y1="397.70" x2="674.00" y2="397.70" stroke="#222" stroke-width="1"/>
<text x="666.30" y="395.70" font-size="9.0" text-anchor="middle" fill="#222">&&&</text>
<rect x="615.00" y="350.30" width="6.50" height="6.50" fill="#074f63" stroke="#111" stroke-width="0.6"/>
<rect x="615.00" y="362.80" width="6.50" height="6.50" fill="#1ba0bf" stroke="#111" stroke-width="0.6"/>
<text x="625.50" y="357.30" font-size="11.3" text-anchor="start" fill="#111">passive</text>
<text x="625.50" y="369.80" font-size="11.3" text-anchor="start" fill="#111">RTPP</text>
<line x1="617.38" y1="585.33" x2="635.71" y2="599.26" stroke="#c8c8c8" stroke-width="0.6"/>
<line x1="620.34" y1="583.65" x2="635.71" y2="608.54" stroke="#c8c8c8" stroke-width="0.6"/>
<line x1="618.90" y1="587.02" x2="634.36" y2="614.45" stroke="#c8c8c8" stroke-width="0.6"/>
<line x1="617.94" y1="593.77" x2="636.70" y2="614.45" stroke="#c8c8c8" stroke-width="0.6"/>
<line x1="621.94" y1="596.31" x2="633.68" y2="616.98" stroke="#c8c8c8" stroke-width="0.6"/>
<line x1="619.78" y1="603.90" x2="636.02" y2="619.09" stroke="#c8c8c8" stroke-width="0.6"/>
<line x1="619.54" y1="619.94" x2="637.69" y2="616.14" stroke="#c8c8c8" stroke-width="0.6"/>
<line x1="618.58" y1="596.73" x2="635.17" y2="615.30" stroke="#c8c8c8" stroke-width="0.6"/>
<line x1="620.74" y1="595.04" x2="637.06" y2="617.83" stroke="#c8c8c8" stroke-width="0.6"/>
<rect x="613.40" y="595.88" width="12.60" height="32.92" fill="#0b5c11" stroke="#111" stroke-width="0.8"/>
<rect x="629.50" y="613.61" width="12.60" height="15.19" fill="#11a011" stroke="#111" stroke-width="0.8"/>
<line x1="656.84" y1="581.54" x2="671.04" y2="612.76" stroke="#c8c8c8" stroke-width="0.6"/>
<line x1="658.04" y1="581.96" x2="669.51" y2="624.58" stroke="#c8c8c8" stroke-width="0.6"/>
<line x1="654.84" y1="597.99" x2="672.17" y2="624.16" stroke="#c8c8c8" stroke-width="0.6"/>
<line x1="658.76" y1="598.42" x2="670.68" y2="625.85" stroke="#c8c8c8" stroke-width="0.6"/>
<line x1="656.60" y1="609.81" x2="671.04" y2="631.75" stroke="#c8c8c8" stroke-width="0.6"/>
<line x1="656.60" y1="632.60" x2="671.32" y2="638.93" stroke="#c8c8c8" stroke-width="0.6"/>
<line x1="656.04" y1="599.68" x2="671.86" y2="639.35" stroke="#c8c8c8" stroke-width="0.6"/>
<line x1="657.56" y1="599.26" x2="670.01" y2="625.42" stroke="#c8c8c8" stroke-width="0.6"/>
<line x1="655.64" y1="597.15" x2="671.50" y2="623.74" stroke="#c8c8c8" stroke-width="0.6"/>
<rect x="650.30" y="599.68" width="12.60" height="29.12" fill="#0b5c11" stroke="#111" stroke-width="0.8"/>
<rect x="664.70" y="627.53" width="12.60" height="1.27" fill="#11a011" stroke="#111" stroke-width="0.8"/>
<line x1="612.50" y1="628.80" x2="686.00" y2="628.80" stroke="#111" stroke-width="1" stroke-dasharray="1.2,1.2"/>
<circle cx="617.38" cy="585.33" r="1.9" fill="#0b5c11" stroke="#111" stroke-width="0.7"/>
<circle cx="620.34" cy="583.65" r="1.9" fill="#0b5c11" stroke="#111" stroke-width="0.7"/>
<circle cx="618.90" cy="587.02" r="1.9" fill="#0b5c11" stroke="#111" stroke-width="0.7"/>
<circle cx="617.94" cy="593.77" r="1.9" fill="#0b5c11" stroke="#111" stroke-width="0.7"/>
<circle cx="621.94" cy="596.31" r="1.9" fill="#0b5c11" stroke="#111" stroke-width="0.7"/>
<circle cx="619.78" cy="603.90" r="1.9" fill="#0b5c11" stroke="#111" stroke-width="0.7"/>
<circle cx="619.54" cy="619.94" r="1.9" fill="#0b5c11" stroke="#111" stroke-width="0.7"/>
<circle cx="618.58" cy="596.73" r="1.9" fill="#0b5c11" stroke="#111" stroke-width="0.7"/>
<circle cx="620.74" cy="595.04" r="1.9" fill="#0b5c11" stroke="#111" stroke-width="0.7"/>
<line x1="619.70" y1="599.59" x2="619.70" y2="592.18" stroke="#111" stroke-width="0.9"/>
<line x1="617.90" y1="592.18" x2="621.50" y2="592.18" stroke="#111" stroke-width="0.8"/>
<circle cx="635.71" cy="599.26" r="1.9" fill="#11a011" stroke="#111" stroke-width="0.7"/>
<circle cx="635.71" cy="608.54" r="1.9" fill="#11a011" stroke="#111" stroke-width="0.7"/>
<circle cx="634.36" cy="614.45" r="1.9" fill="#11a011" stroke="#111" stroke-width="0.7"/>
<circle cx="636.70" cy="614.45" r="1.9" fill="#11a011" stroke="#111" stroke-width="0.7"/>
<circle cx="633.68" cy="616.98" r="1.9" fill="#11a011" stroke="#111" stroke-width="0.7"/>
<circle cx="636.02" cy="619.09" r="1.9" fill="#11a011" stroke="#111" stroke-width="0.7"/>
<circle cx="637.69" cy="616.14" r="1.9" fill="#11a011" stroke="#111" stroke-width="0.7"/>
<circle cx="635.17" cy="615.30" r="1.9" fill="#11a011" stroke="#111" stroke-width="0.7"/>
<circle cx="637.06" cy="617.83" r="1.9" fill="#11a011" stroke="#111" stroke-width="0.7"/>
<line x1="635.80" y1="615.65" x2="635.80" y2="611.56" stroke="#111" stroke-width="0.9"/>
<line x1="634.00" y1="611.56" x2="637.60" y2="611.56" stroke="#111" stroke-width="0.8"/>
<circle cx="656.84" cy="581.54" r="1.9" fill="#0b5c11" stroke="#111" stroke-width="0.7"/>
<circle cx="658.04" cy="581.96" r="1.9" fill="#0b5c11" stroke="#111" stroke-width="0.7"/>
<circle cx="654.84" cy="597.99" r="1.9" fill="#0b5c11" stroke="#111" stroke-width="0.7"/>
<circle cx="658.76" cy="598.42" r="1.9" fill="#0b5c11" stroke="#111" stroke-width="0.7"/>
<circle cx="656.60" cy="609.81" r="1.9" fill="#0b5c11" stroke="#111" stroke-width="0.7"/>
<circle cx="656.60" cy="632.60" r="1.9" fill="#0b5c11" stroke="#111" stroke-width="0.7"/>
<circle cx="656.04" cy="599.68" r="1.9" fill="#0b5c11" stroke="#111" stroke-width="0.7"/>
<circle cx="657.56" cy="599.26" r="1.9" fill="#0b5c11" stroke="#111" stroke-width="0.7"/>
<circle cx="655.64" cy="597.15" r="1.9" fill="#0b5c11" stroke="#111" stroke-width="0.7"/>
<line x1="656.60" y1="604.74" x2="656.60" y2="594.63" stroke="#111" stroke-width="0.9"/>
<line x1="654.80" y1="594.63" x2="658.40" y2="594.63" stroke="#111" stroke-width="0.8"/>
<circle cx="671.04" cy="612.76" r="1.9" fill="#11a011" stroke="#111" stroke-width="0.7"/>
<circle cx="669.51" cy="624.58" r="1.9" fill="#11a011" stroke="#111" stroke-width="0.7"/>
<circle cx="672.17" cy="624.16" r="1.9" fill="#11a011" stroke="#111" stroke-width="0.7"/>
<circle cx="670.68" cy="625.85" r="1.9" fill="#11a011" stroke="#111" stroke-width="0.7"/>
<circle cx="671.04" cy="631.75" r="1.9" fill="#11a011" stroke="#111" stroke-width="0.7"/>
<circle cx="671.32" cy="638.93" r="1.9" fill="#11a011" stroke="#111" stroke-width="0.7"/>
<circle cx="671.86" cy="639.35" r="1.9" fill="#11a011" stroke="#111" stroke-width="0.7"/>
<circle cx="670.01" cy="625.42" r="1.9" fill="#11a011" stroke="#111" stroke-width="0.7"/>
<circle cx="671.50" cy="623.74" r="1.9" fill="#11a011" stroke="#111" stroke-width="0.7"/>
<line x1="671.00" y1="630.29" x2="671.00" y2="624.78" stroke="#111" stroke-width="0.9"/>
<line x1="669.20" y1="624.78" x2="672.80" y2="624.78" stroke="#111" stroke-width="0.8"/>
<line x1="612.50" y1="565.50" x2="612.50" y2="649.90" stroke="#222" stroke-width="1"/>
<line x1="609.50" y1="649.90" x2="612.50" y2="649.90" stroke="#222" stroke-width="1"/>
<text x="608.50" y="653.00" font-size="10.9" text-anchor="end" fill="#111">-5</text>
<line x1="609.50" y1="628.80" x2="612.50" y2="628.80" stroke="#222" stroke-width="1"/>
<text x="608.50" y="631.90" font-size="10.9" text-anchor="end" fill="#111">0</text>
<line x1="609.50" y1="607.70" x2="612.50" y2="607.70" stroke="#222" stroke-width="1"/>
<text x="608.50" y="610.80" font-size="10.9" text-anchor="end" fill="#111">5</text>
<line x1="609.50" y1="586.60" x2="612.50" y2="586.60" stroke="#222" stroke-width="1"/>
<text x="608.50" y="589.70" font-size="10.9" text-anchor="end" fill="#111">10</text>
<line x1="609.50" y1="565.50" x2="612.50" y2="565.50" stroke="#222" stroke-width="1"/>
<text x="608.50" y="568.60" font-size="10.9" text-anchor="end" fill="#111">15</text>
<text x="586.80" y="607.70" font-size="11.3" text-anchor="middle" fill="#111" transform="rotate(-90 586.80 607.70)">z-score</text>
<text x="635.10" y="649.20" font-size="11.3" text-anchor="end" fill="#111" transform="rotate(-45 635.10 649.20)">early</text>
<text x="668.00" y="649.80" font-size="11.3" text-anchor="end" fill="#111" transform="rotate(-45 668.00 649.80)">late</text>
<line x1="620.00" y1="572.10" x2="635.50" y2="572.10" stroke="#222" stroke-width="1"/>
<text x="627.75" y="570.10" font-size="9.0" text-anchor="middle" fill="#222">&&&</text>
<line x1="658.60" y1="573.20" x2="672.40" y2="573.20" stroke="#222" stroke-width="1"/>
<text x="665.50" y="571.20" font-size="9.0" text-anchor="middle" fill="#222">&&&&</text>
<rect x="609.80" y="530.30" width="6.50" height="6.50" fill="#0b5c11" stroke="#111" stroke-width="0.6"/>
<rect x="609.80" y="543.90" width="6.50" height="6.50" fill="#11a011" stroke="#111" stroke-width="0.6"/>
<text x="620.30" y="537.30" font-size="11.3" text-anchor="start" fill="#111">passive</text>
<text x="620.30" y="550.90" font-size="11.3" text-anchor="start" fill="#111">RTPP</text>
<line x1="619.20" y1="762.22" x2="633.58" y2="817.30" stroke="#c8c8c8" stroke-width="0.6"/>
<line x1="619.20" y1="792.01" x2="636.55" y2="817.30" stroke="#c8c8c8" stroke-width="0.6"/>
<line x1="616.48" y1="797.06" x2="633.36" y2="820.39" stroke="#c8c8c8" stroke-width="0.6"/>
<line x1="621.84" y1="799.87" x2="637.00" y2="821.23" stroke="#c8c8c8" stroke-width="0.6"/>
<line x1="619.20" y1="824.60" x2="635.20" y2="825.16" stroke="#c8c8c8" stroke-width="0.6"/>
<rect x="612.90" y="794.82" width="12.60" height="17.98" fill="#540000" stroke="#111" stroke-width="0.8"/>
<rect x="628.90" y="812.80" width="12.60" height="7.87" fill="#ee0000" stroke="#111" stroke-width="0.8"/>
<line x1="653.80" y1="824.04" x2="671.28" y2="820.39" stroke="#c8c8c8" stroke-width="0.6"/>
<line x1="659.16" y1="824.04" x2="674.08" y2="821.79" stroke="#c8c8c8" stroke-width="0.6"/>
<line x1="656.76" y1="832.47" x2="670.75" y2="825.16" stroke="#c8c8c8" stroke-width="0.6"/>
<line x1="656.52" y1="838.09" x2="674.43" y2="826.29" stroke="#c8c8c8" stroke-width="0.6"/>
<line x1="655.64" y1="825.73" x2="672.46" y2="828.54" stroke="#c8c8c8" stroke-width="0.6"/>
<rect x="650.30" y="812.80" width="12.60" height="16.30" fill="#540000" stroke="#111" stroke-width="0.8"/>
<rect x="666.20" y="812.80" width="12.60" height="11.80" fill="#ee0000" stroke="#111" stroke-width="0.8"/>
<line x1="610.50" y1="812.80" x2="686.00" y2="812.80" stroke="#111" stroke-width="1" stroke-dasharray="1.2,1.2"/>
<circle cx="619.20" cy="762.22" r="1.9" fill="#540000" stroke="#111" stroke-width="0.7"/>
<circle cx="619.20" cy="792.01" r="1.9" fill="#540000" stroke="#111" stroke-width="0.7"/>
<circle cx="616.48" cy="797.06" r="1.9" fill="#540000" stroke="#111" stroke-width="0.7"/>
<circle cx="621.84" cy="799.87" r="1.9" fill="#540000" stroke="#111" stroke-width="0.7"/>
<circle cx="619.20" cy="824.60" r="1.9" fill="#540000" stroke="#111" stroke-width="0.7"/>
<line x1="619.20" y1="804.79" x2="619.20" y2="784.85" stroke="#111" stroke-width="0.9"/>
<line x1="617.40" y1="784.85" x2="621.00" y2="784.85" stroke="#111" stroke-width="0.8"/>
<circle cx="633.58" cy="817.30" r="1.9" fill="#ee0000" stroke="#111" stroke-width="0.7"/>
<circle cx="636.55" cy="817.30" r="1.9" fill="#ee0000" stroke="#111" stroke-width="0.7"/>
<circle cx="633.36" cy="820.39" r="1.9" fill="#ee0000" stroke="#111" stroke-width="0.7"/>
<circle cx="637.00" cy="821.23" r="1.9" fill="#ee0000" stroke="#111" stroke-width="0.7"/>
<circle cx="635.20" cy="825.16" r="1.9" fill="#ee0000" stroke="#111" stroke-width="0.7"/>
<line x1="635.20" y1="819.21" x2="635.20" y2="822.13" stroke="#111" stroke-width="0.9"/>
<line x1="633.40" y1="822.13" x2="637.00" y2="822.13" stroke="#111" stroke-width="0.8"/>
<circle cx="653.80" cy="824.04" r="1.9" fill="#540000" stroke="#111" stroke-width="0.7"/>
<circle cx="659.16" cy="824.04" r="1.9" fill="#540000" stroke="#111" stroke-width="0.7"/>
<circle cx="656.76" cy="832.47" r="1.9" fill="#540000" stroke="#111" stroke-width="0.7"/>
<circle cx="656.52" cy="838.09" r="1.9" fill="#540000" stroke="#111" stroke-width="0.7"/>
<circle cx="655.64" cy="825.73" r="1.9" fill="#540000" stroke="#111" stroke-width="0.7"/>
<line x1="656.60" y1="826.32" x2="656.60" y2="831.88" stroke="#111" stroke-width="0.9"/>
<line x1="654.80" y1="831.88" x2="658.40" y2="831.88" stroke="#111" stroke-width="0.8"/>
<circle cx="671.28" cy="820.39" r="1.9" fill="#ee0000" stroke="#111" stroke-width="0.7"/>
<circle cx="674.08" cy="821.79" r="1.9" fill="#ee0000" stroke="#111" stroke-width="0.7"/>
<circle cx="670.75" cy="825.16" r="1.9" fill="#ee0000" stroke="#111" stroke-width="0.7"/>
<circle cx="674.43" cy="826.29" r="1.9" fill="#ee0000" stroke="#111" stroke-width="0.7"/>
<circle cx="672.46" cy="828.54" r="1.9" fill="#ee0000" stroke="#111" stroke-width="0.7"/>
<line x1="672.50" y1="823.12" x2="672.50" y2="826.09" stroke="#111" stroke-width="0.9"/>
<line x1="670.70" y1="826.09" x2="674.30" y2="826.09" stroke="#111" stroke-width="0.8"/>
<line x1="610.50" y1="756.60" x2="610.50" y2="840.90" stroke="#222" stroke-width="1"/>
<line x1="607.50" y1="840.90" x2="610.50" y2="840.90" stroke="#222" stroke-width="1"/>
<text x="606.50" y="844.00" font-size="10.9" text-anchor="end" fill="#111">-5</text>
<line x1="607.50" y1="812.80" x2="610.50" y2="812.80" stroke="#222" stroke-width="1"/>
<text x="606.50" y="815.90" font-size="10.9" text-anchor="end" fill="#111">0</text>
<line x1="607.50" y1="784.70" x2="610.50" y2="784.70" stroke="#222" stroke-width="1"/>
<text x="606.50" y="787.80" font-size="10.9" text-anchor="end" fill="#111">5</text>
<line x1="607.50" y1="756.60" x2="610.50" y2="756.60" stroke="#222" stroke-width="1"/>
<text x="606.50" y="759.70" font-size="10.9" text-anchor="end" fill="#111">10</text>
<text x="586.50" y="798.75" font-size="11.3" text-anchor="middle" fill="#111" transform="rotate(-90 586.50 798.75)">z-score</text>
<text x="635.50" y="847.30" font-size="11.3" text-anchor="end" fill="#111" transform="rotate(-45 635.50 847.30)">early</text>
<text x="674.00" y="847.50" font-size="11.3" text-anchor="end" fill="#111" transform="rotate(-45 674.00 847.50)">late</text>
<line x1="618.40" y1="755.90" x2="635.50" y2="755.90" stroke="#222" stroke-width="1"/>
<text x="626.95" y="753.90" font-size="9.0" text-anchor="middle" fill="#222">&</text>
<rect x="609.50" y="718.90" width="6.50" height="6.50" fill="#540000" stroke="#111" stroke-width="0.6"/>
<rect x="609.50" y="732.20" width="6.50" height="6.50" fill="#ee0000" stroke="#111" stroke-width="0.6"/>
<text x="620.00" y="724.90" font-size="11.3" text-anchor="start" fill="#111">passive</text>
<text x="620.00" y="738.20" font-size="11.3" text-anchor="start" fill="#111">RTPP</text>
<text x="40.90" y="332.50" font-size="11" text-anchor="start" fill="#111">VP</text>
<text x="89.00" y="332.50" font-size="11" text-anchor="start" fill="#111">VTA</text>
<line x1="76.50" y1="342.80" x2="100.20" y2="342.80" stroke="#222" stroke-width="0.9"/>
<line x1="100.20" y1="338.60" x2="100.20" y2="347.00" stroke="#222" stroke-width="1"/>
<ellipse cx="141.60" cy="341.70" rx="40.9" ry="12.7" fill="#fff" stroke="#111" stroke-width="0.9"/>
<ellipse cx="58.00" cy="342.80" rx="18.5" ry="9.6" fill="#c00000" stroke="#222" stroke-width="0.9"/>
<text x="58.00" y="346.80" font-size="11.4" text-anchor="middle" fill="#fff">GABA</text>
<ellipse cx="141.60" cy="343.00" rx="15.5" ry="9.9" fill="#0b63c0" stroke="#222" stroke-width="0.9"/>
<text x="141.60" y="347.20" font-size="11.4" text-anchor="middle" fill="#fff">DA</text>
<text x="43.20" y="521.00" font-size="11" text-anchor="start" fill="#111">VP</text>
<text x="91.80" y="521.00" font-size="11" text-anchor="start" fill="#111">VTA</text>
<line x1="78.80" y1="531.00" x2="101.30" y2="531.00" stroke="#222" stroke-width="0.9"/>
<line x1="101.30" y1="526.80" x2="101.30" y2="535.20" stroke="#222" stroke-width="1"/>
<ellipse cx="144.00" cy="531.00" rx="40.4" ry="12.9" fill="#fff" stroke="#111" stroke-width="0.9"/>
<ellipse cx="60.10" cy="531.00" rx="18.7" ry="10.0" fill="#c00000" stroke="#222" stroke-width="0.9"/>
<text x="60.10" y="535.00" font-size="11.4" text-anchor="middle" fill="#fff">GABA</text>
<ellipse cx="144.50" cy="530.70" rx="15.5" ry="9.7" fill="#12a012" stroke="#222" stroke-width="0.9"/>
<text x="144.50" y="534.90" font-size="12.0" text-anchor="middle" fill="#fff">Glut</text>
<text x="44.40" y="705.70" font-size="11" text-anchor="start" fill="#111">VP</text>
<text x="93.00" y="705.70" font-size="11" text-anchor="start" fill="#111">VTA</text>
<line x1="80.20" y1="715.50" x2="102.30" y2="715.50" stroke="#222" stroke-width="0.9"/>
<line x1="102.30" y1="711.30" x2="102.30" y2="719.70" stroke="#222" stroke-width="1"/>
<ellipse cx="146.30" cy="715.80" rx="40.6" ry="12.4" fill="#fff" stroke="#111" stroke-width="0.9"/>
<ellipse cx="61.70" cy="715.50" rx="18.5" ry="9.8" fill="#c00000" stroke="#222" stroke-width="0.9"/>
<text x="61.70" y="719.50" font-size="11.4" text-anchor="middle" fill="#fff">GABA</text>
<ellipse cx="146.00" cy="715.80" rx="19.8" ry="9.5" fill="#c00000" stroke="#222" stroke-width="0.9"/>
<text x="146.00" y="720.00" font-size="11.4" text-anchor="middle" fill="#fff">GABA</text>
<text x="0" y="0" font-size="35.5" fill="#000" transform="translate(58.20 50.30) scale(0.95 1)">A</text>
<text x="0" y="0" font-size="35.5" fill="#000" transform="translate(370.70 50.30) scale(0.95 1)">B</text>
<text x="0" y="0" font-size="35.5" fill="#000" transform="translate(28.88 270.10) scale(0.95 1)">C</text>
<text x="0" y="0" font-size="35.5" fill="#000" transform="translate(310.98 270.00) scale(0.95 1)">G</text>
<text x="0" y="0" font-size="35.5" fill="#000" transform="translate(0.05 347.70) scale(0.95 1)">D</text>
<text x="0" y="0" font-size="35.5" fill="#000" transform="translate(282.50 347.70) scale(0.95 1)">H</text>
<text x="0" y="0" font-size="35.5" fill="#000" transform="translate(582.60 347.70) scale(0.95 1)">K</text>
<text x="0" y="0" font-size="35.5" fill="#000" transform="translate(6.36 538.50) scale(0.95 1)">E</text>
<text x="0" y="0" font-size="35.5" fill="#000" transform="translate(282.33 538.50) scale(0.95 1)">I</text>
<text x="0" y="0" font-size="35.5" fill="#000" transform="translate(583.70 538.50) scale(0.95 1)">L</text>
<text x="0" y="0" font-size="35.5" fill="#000" transform="translate(5.50 720.30) scale(0.95 1)">F</text>
<text x="0" y="0" font-size="35.5" fill="#000" transform="translate(577.20 720.30) scale(0.95 1)">M</text>
<path d="M296.8,695.6 L296.8,712.2 C296.8,717.6 294.2,719.3 291.1,719.3 C287.9,719.3 286.0,717.3 286.0,713.3" stroke="#000" stroke-width="3.3" fill="none"/>
</svg>
</body></html>
